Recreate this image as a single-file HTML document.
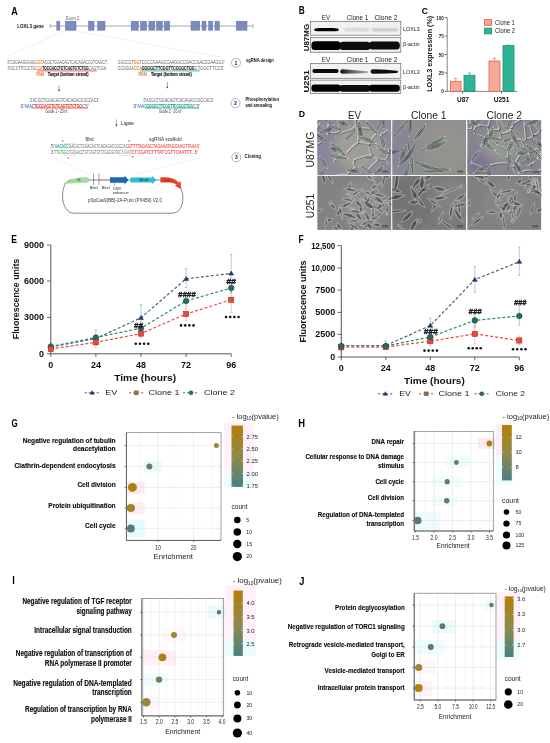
<!DOCTYPE html>
<html><head><meta charset="utf-8"><style>
html,body{margin:0;padding:0;background:#fff;width:550px;height:743px;overflow:hidden}
svg{display:block;filter:blur(0.3px)}
text{font-family:"Liberation Sans", sans-serif}
</style></head><body>
<svg width="550" height="743" viewBox="0 0 550 743" font-family='"Liberation Sans", sans-serif'>
<defs>
<filter id="bl1" x="-20%" y="-50%" width="140%" height="200%"><feGaussianBlur stdDeviation="0.9"/></filter>
<filter id="bl2" x="-20%" y="-50%" width="140%" height="200%"><feGaussianBlur stdDeviation="0.5"/></filter>
<filter id="bl3" x="-5%" y="-5%" width="110%" height="110%"><feGaussianBlur stdDeviation="0.6"/></filter>
<filter id="bl4" x="-50%" y="-50%" width="200%" height="200%"><feGaussianBlur stdDeviation="4"/></filter>
</defs>
<rect width="550" height="743" fill="#fff"/>
<text x="11.20" y="14.69" font-size="10.1" text-anchor="start" font-weight="bold" fill="#000" textLength="6.50" lengthAdjust="spacingAndGlyphs">A</text>
<text x="17.20" y="28.39" font-size="5.8" text-anchor="start" font-weight="bold" fill="#111" textLength="26.70" lengthAdjust="spacingAndGlyphs">LOXL3 gene</text>
<line x1="64.00" y1="31.00" x2="8.00" y2="56.00" stroke="#e4e4e4" stroke-width="0.6"/>
<line x1="76.00" y1="31.00" x2="222.00" y2="57.50" stroke="#e4e4e4" stroke-width="0.6"/>
<line x1="50.00" y1="26.00" x2="253.00" y2="26.00" stroke="#9a9a9a" stroke-width="0.9"/>
<line x1="50.20" y1="23.80" x2="50.20" y2="28.20" stroke="#888" stroke-width="0.6"/>
<line x1="253.00" y1="23.80" x2="253.00" y2="28.20" stroke="#888" stroke-width="0.6"/>
<rect x="56.80" y="21.20" width="3.00" height="9.00" fill="#7b8bbd" stroke="#5f6fa5" stroke-width="0.5"/>
<rect x="65.50" y="21.20" width="10.50" height="9.00" fill="#7b8bbd" stroke="#5f6fa5" stroke-width="0.5"/>
<rect x="88.60" y="21.20" width="5.40" height="9.00" fill="#7b8bbd" stroke="#5f6fa5" stroke-width="0.5"/>
<rect x="97.70" y="21.20" width="7.30" height="9.00" fill="#7b8bbd" stroke="#5f6fa5" stroke-width="0.5"/>
<rect x="131.20" y="21.20" width="7.10" height="9.00" fill="#7b8bbd" stroke="#5f6fa5" stroke-width="0.5"/>
<rect x="140.60" y="21.20" width="5.90" height="9.00" fill="#7b8bbd" stroke="#5f6fa5" stroke-width="0.5"/>
<rect x="148.90" y="21.20" width="5.90" height="9.00" fill="#7b8bbd" stroke="#5f6fa5" stroke-width="0.5"/>
<rect x="156.50" y="21.20" width="5.90" height="9.00" fill="#7b8bbd" stroke="#5f6fa5" stroke-width="0.5"/>
<rect x="164.30" y="21.20" width="5.40" height="9.00" fill="#7b8bbd" stroke="#5f6fa5" stroke-width="0.5"/>
<rect x="191.00" y="21.20" width="8.70" height="9.00" fill="#7b8bbd" stroke="#5f6fa5" stroke-width="0.5"/>
<rect x="202.00" y="21.20" width="4.00" height="9.00" fill="#7b8bbd" stroke="#5f6fa5" stroke-width="0.5"/>
<rect x="208.70" y="21.20" width="4.00" height="9.00" fill="#7b8bbd" stroke="#5f6fa5" stroke-width="0.5"/>
<rect x="215.00" y="21.20" width="4.40" height="9.00" fill="#7b8bbd" stroke="#5f6fa5" stroke-width="0.5"/>
<rect x="236.40" y="21.20" width="10.60" height="9.00" fill="#7b8bbd" stroke="#5f6fa5" stroke-width="0.5"/>
<text x="66.00" y="19.86" font-size="4.6" text-anchor="start" fill="#666" textLength="13.50" lengthAdjust="spacingAndGlyphs">Exon 2</text>
<text x="7.60" y="63.56" font-size="4.6" text-anchor="start" fill="#5c5c5c" textLength="27.91" lengthAdjust="spacingAndGlyphs">5'CGGAAGGGAC</text>
<text x="35.51" y="63.56" font-size="4.6" text-anchor="start" fill="#e07a28" textLength="6.98" lengthAdjust="spacingAndGlyphs" stroke="#e07a28" stroke-width="0.12">GGT</text>
<text x="42.48" y="63.56" font-size="4.6" text-anchor="start" fill="#5c5c5c" textLength="65.12" lengthAdjust="spacingAndGlyphs">ACGCTGGACAGTCACAGACCGTCAGCT.</text>
<text x="117.80" y="63.56" font-size="4.6" text-anchor="start" fill="#5c5c5c" textLength="15.99" lengthAdjust="spacingAndGlyphs">GGCCCT</text>
<text x="133.79" y="63.56" font-size="4.6" text-anchor="start" fill="#e07a28" textLength="8.00" lengthAdjust="spacingAndGlyphs" stroke="#e07a28" stroke-width="0.12">GGT</text>
<text x="141.78" y="63.56" font-size="4.6" text-anchor="start" fill="#5c5c5c" textLength="82.61" lengthAdjust="spacingAndGlyphs">CCCCGAAGCCAAGGCCGACCGACCGAAGG3'</text>
<text x="7.60" y="69.86" font-size="4.6" text-anchor="start" fill="#5c5c5c" textLength="27.77" lengthAdjust="spacingAndGlyphs">3'GCCTTCCCTG</text>
<text x="35.37" y="69.86" font-size="4.6" text-anchor="start" fill="#e07a28" textLength="6.94" lengthAdjust="spacingAndGlyphs" stroke="#e07a28" stroke-width="0.12">CCA</text>
<text x="42.31" y="69.86" font-size="4.6" text-anchor="start" font-weight="bold" fill="#222" textLength="46.28" lengthAdjust="spacingAndGlyphs" stroke="#222" stroke-width="0.12">TGCGACCTGTCAGTGTCTGG</text>
<text x="88.59" y="69.86" font-size="4.6" text-anchor="start" fill="#5c5c5c" textLength="18.51" lengthAdjust="spacingAndGlyphs">CAGTCGA.</text>
<text x="117.80" y="69.86" font-size="4.6" text-anchor="start" fill="#5c5c5c" textLength="15.90" lengthAdjust="spacingAndGlyphs">CCGGGA</text>
<text x="133.70" y="69.86" font-size="4.6" text-anchor="start" fill="#e07a28" textLength="7.95" lengthAdjust="spacingAndGlyphs" stroke="#e07a28" stroke-width="0.12">CCA</text>
<text x="141.65" y="69.86" font-size="4.6" text-anchor="start" font-weight="bold" fill="#222" textLength="53.00" lengthAdjust="spacingAndGlyphs" stroke="#222" stroke-width="0.12">GGGGCTTCGGTTCCGGCTGG</text>
<text x="194.65" y="69.86" font-size="4.6" text-anchor="start" fill="#5c5c5c" textLength="29.15" lengthAdjust="spacingAndGlyphs">CTGGCTTCC5'</text>
<line x1="37.00" y1="70.90" x2="96.80" y2="70.90" stroke="#e8353a" stroke-width="0.8"/>
<line x1="140.00" y1="70.90" x2="199.60" y2="70.90" stroke="#1aa58a" stroke-width="0.8"/>
<text x="36.30" y="75.93" font-size="4.8" text-anchor="start" fill="#e07a28" textLength="7.80" lengthAdjust="spacingAndGlyphs" stroke="#e07a28" stroke-width="0.15">PAM</text>
<text x="47.70" y="76.00" font-size="5.0" text-anchor="start" font-weight="bold" fill="#111" textLength="40.80" lengthAdjust="spacingAndGlyphs" stroke="#111" stroke-width="0.12">Target (bottom strand)</text>
<text x="138.50" y="75.93" font-size="4.8" text-anchor="start" fill="#e07a28" textLength="8.20" lengthAdjust="spacingAndGlyphs" stroke="#e07a28" stroke-width="0.15">PAM</text>
<text x="151.00" y="76.00" font-size="5.0" text-anchor="start" font-weight="bold" fill="#111" textLength="40.70" lengthAdjust="spacingAndGlyphs" stroke="#111" stroke-width="0.12">Target (bottom strand)</text>
<circle cx="236.00" cy="62.80" r="4.50" fill="#fff" stroke="#9aa8d8" stroke-width="0.9"/>
<text x="236.00" y="64.67" font-size="5.2" text-anchor="middle" font-weight="bold" fill="#222">1</text>
<circle cx="235.50" cy="103.20" r="4.50" fill="#fff" stroke="#9aa8d8" stroke-width="0.9"/>
<text x="235.50" y="105.07" font-size="5.2" text-anchor="middle" font-weight="bold" fill="#222">2</text>
<circle cx="236.40" cy="157.30" r="4.50" fill="#fff" stroke="#9aa8d8" stroke-width="0.9"/>
<text x="236.40" y="159.17" font-size="5.2" text-anchor="middle" font-weight="bold" fill="#222">3</text>
<text x="246.00" y="61.86" font-size="6.0" text-anchor="start" font-weight="bold" fill="#111" textLength="27.80" lengthAdjust="spacingAndGlyphs">sgRNA design</text>
<text x="245.50" y="100.76" font-size="6.0" text-anchor="start" font-weight="bold" fill="#111" textLength="33.50" lengthAdjust="spacingAndGlyphs">Phosphorylation</text>
<text x="245.50" y="106.56" font-size="6.0" text-anchor="start" font-weight="bold" fill="#111" textLength="26.50" lengthAdjust="spacingAndGlyphs">and annealing</text>
<text x="244.50" y="158.46" font-size="6.0" text-anchor="start" font-weight="bold" fill="#111" textLength="16.50" lengthAdjust="spacingAndGlyphs">Cloning</text>
<line x1="59.00" y1="85.50" x2="59.00" y2="90.30" stroke="#333" stroke-width="0.45"/>
<path d="M58.00,89.70 L60.00,89.70 L59.00,91.50 Z" fill="#222"/>
<line x1="167.30" y1="82.00" x2="167.30" y2="87.40" stroke="#333" stroke-width="0.45"/>
<path d="M166.30,86.80 L168.30,86.80 L167.30,88.60 Z" fill="#222"/>
<line x1="116.40" y1="119.50" x2="116.40" y2="125.30" stroke="#333" stroke-width="0.45"/>
<path d="M115.40,124.70 L117.40,124.70 L116.40,126.50 Z" fill="#222"/>
<text x="121.00" y="125.02" font-size="5.6" text-anchor="start" fill="#222" textLength="13.00" lengthAdjust="spacingAndGlyphs">Ligate</text>
<text x="30.00" y="102.16" font-size="4.6" text-anchor="start" fill="#5c5c5c" textLength="69.00" lengthAdjust="spacingAndGlyphs">5'ACGCTGGACAGTCACAGACCGCCAC3'</text>
<text x="20.00" y="107.66" font-size="4.6" text-anchor="start" fill="#5c5c5c" textLength="4.76" lengthAdjust="spacingAndGlyphs">3'</text>
<text x="24.76" y="107.66" font-size="4.6" text-anchor="start" fill="#3a7fd0" textLength="9.52" lengthAdjust="spacingAndGlyphs" stroke="#3a7fd0" stroke-width="0.12">AAAC</text>
<text x="34.28" y="107.66" font-size="4.6" text-anchor="start" font-weight="bold" fill="#e8353a" textLength="47.59" lengthAdjust="spacingAndGlyphs" stroke="#e8353a" stroke-width="0.12">TGCGACCTGTCAGTGTCTGG</text>
<text x="81.86" y="107.66" font-size="4.6" text-anchor="start" fill="#5c5c5c" textLength="7.14" lengthAdjust="spacingAndGlyphs">C5'</text>
<line x1="31.00" y1="108.30" x2="88.00" y2="108.30" stroke="#e8353a" stroke-width="0.5"/>
<text x="45.50" y="113.36" font-size="4.9" text-anchor="start" fill="#333" textLength="21.80" lengthAdjust="spacingAndGlyphs">Guide 1 - 20 nt</text>
<text x="143.60" y="102.16" font-size="4.6" text-anchor="start" fill="#5c5c5c" textLength="70.00" lengthAdjust="spacingAndGlyphs">5'ACGCTGGACAGTCACAGACCGCCAC3'</text>
<text x="132.70" y="107.66" font-size="4.6" text-anchor="start" fill="#5c5c5c" textLength="4.64" lengthAdjust="spacingAndGlyphs">3'</text>
<text x="137.34" y="107.66" font-size="4.6" text-anchor="start" fill="#3a7fd0" textLength="9.28" lengthAdjust="spacingAndGlyphs" stroke="#3a7fd0" stroke-width="0.12">AAAC</text>
<text x="146.62" y="107.66" font-size="4.6" text-anchor="start" font-weight="bold" fill="#1aa58a" textLength="46.41" lengthAdjust="spacingAndGlyphs" stroke="#1aa58a" stroke-width="0.12">GGGGCTTCGGTTCCGGCTGG</text>
<text x="193.04" y="107.66" font-size="4.6" text-anchor="start" fill="#5c5c5c" textLength="6.96" lengthAdjust="spacingAndGlyphs">C5'</text>
<line x1="145.00" y1="108.30" x2="199.00" y2="108.30" stroke="#1aa58a" stroke-width="0.5"/>
<text x="159.00" y="113.36" font-size="4.9" text-anchor="start" fill="#333" textLength="22.00" lengthAdjust="spacingAndGlyphs">Guide 2 - 20 nt</text>
<text x="85.50" y="140.66" font-size="4.6" text-anchor="start" fill="#333" textLength="8.10" lengthAdjust="spacingAndGlyphs">BbsI</text>
<text x="149.00" y="141.16" font-size="4.6" text-anchor="start" fill="#333" textLength="32.80" lengthAdjust="spacingAndGlyphs">sgRNA scaffold</text>
<circle cx="62.70" cy="141.00" r="0.80" fill="#e8353a" stroke="none" stroke-width="0.5"/>
<circle cx="129.00" cy="141.00" r="0.80" fill="#e8353a" stroke="none" stroke-width="0.5"/>
<circle cx="68.20" cy="158.00" r="0.80" fill="#e8353a" stroke="none" stroke-width="0.5"/>
<circle cx="132.70" cy="157.00" r="0.80" fill="#e8353a" stroke="none" stroke-width="0.5"/>
<text x="50.50" y="148.06" font-size="4.6" text-anchor="start" fill="#666" textLength="4.56" lengthAdjust="spacingAndGlyphs">5'</text>
<text x="55.06" y="148.06" font-size="4.6" text-anchor="start" fill="#1aa58a" textLength="13.68" lengthAdjust="spacingAndGlyphs" stroke="#1aa58a" stroke-width="0.12">AACACC</text>
<text x="68.74" y="148.06" font-size="4.6" text-anchor="start" fill="#666" textLength="59.26" lengthAdjust="spacingAndGlyphs">GACGCTGGACAGTCACAGACCGCCAC</text>
<text x="128.00" y="148.06" font-size="4.6" text-anchor="start" fill="#f0504a" textLength="71.50" lengthAdjust="spacingAndGlyphs" stroke="#f0504a" stroke-width="0.12">GTTTTAGAGCTAGAAATAGCAAGTTAAA3'</text>
<text x="50.50" y="154.36" font-size="4.6" text-anchor="start" fill="#666" textLength="4.05" lengthAdjust="spacingAndGlyphs">3'</text>
<text x="54.55" y="154.36" font-size="4.6" text-anchor="start" fill="#4cb050" textLength="12.15" lengthAdjust="spacingAndGlyphs" stroke="#4cb050" stroke-width="0.12">TTGTGG</text>
<text x="66.70" y="154.36" font-size="4.6" text-anchor="start" fill="#666" textLength="52.65" lengthAdjust="spacingAndGlyphs">CTGCGACCTGTCAGTGTCTGGCGGTG</text>
<text x="119.35" y="154.36" font-size="4.6" text-anchor="start" fill="#aab" textLength="12.15" lengthAdjust="spacingAndGlyphs" stroke="#aab" stroke-width="0.12">CAAAAT</text>
<text x="131.50" y="154.36" font-size="4.6" text-anchor="start" fill="#f0504a" textLength="66.50" lengthAdjust="spacingAndGlyphs" stroke="#f0504a" stroke-width="0.12">CTCGATCTTTATCGTTCAATTT...5'</text>
<rect x="64.50" y="143.30" width="10.00" height="12.50" fill="none" stroke="#c8c8d8" stroke-width="0.4"/>
<rect x="119.00" y="149.70" width="12.00" height="6.00" fill="none" stroke="#c8c8d8" stroke-width="0.4"/>
<line x1="54.00" y1="157.70" x2="89.50" y2="175.00" stroke="#e4e4e4" stroke-width="0.5"/>
<line x1="200.70" y1="157.70" x2="132.70" y2="175.00" stroke="#e4e4e4" stroke-width="0.5"/>
<path d="M70,180 L172,180 C186,183 187,213.2 172,213.2 L74,213.2 C60,213.2 59,184 70,180" fill="none" stroke="#555" stroke-width="0.7"/>
<path d="M64,183.6 C68,180.5 75,178 84,177.4 L87,177.2 L91,179.8 L87,182.6 C78,182.8 70,183.2 64,183.6 Z" fill="#a8d9a4" stroke="#86c082" stroke-width="0.3"/>
<text x="76.50" y="181.08" font-size="3.0" text-anchor="start" fill="#2a4a2a">U6</text>
<line x1="93.60" y1="173.50" x2="93.60" y2="185.00" stroke="#333" stroke-width="0.5"/>
<line x1="99.00" y1="173.50" x2="99.00" y2="185.00" stroke="#333" stroke-width="0.5"/>
<line x1="99.00" y1="180.00" x2="110.00" y2="180.00" stroke="#f08080" stroke-width="0.8"/>
<path d="M110,177.2 L124.5,177.2 L124.5,175.6 L128.5,180 L124.5,184.4 L124.5,182.8 L110,182.8 Z" fill="#2065b0"/>
<path d="M130.4,177.5 L152,177.5 L152,176 L156.5,180 L152,184 L152,182.5 L130.4,182.5 Z" fill="#2fbcd6"/>
<text x="139.00" y="181.04" font-size="2.6" text-anchor="start" fill="#113">SpCas9</text>
<path d="M160.4,177.4 C169,176.8 175.5,178.6 178.8,182.6 L180.8,181.6 L180.8,189 L174.8,185.8 L176.8,184.6 C173.5,182.2 168,182.2 160.4,182.6 Z" fill="#e8432a"/>
<text x="164.00" y="181.06" font-size="2.4" text-anchor="start" fill="#300">PuroR</text>
<text x="89.80" y="188.58" font-size="4.4" text-anchor="start" fill="#222" textLength="8.00" lengthAdjust="spacingAndGlyphs">BbsI</text>
<text x="101.80" y="188.58" font-size="4.4" text-anchor="start" fill="#222" textLength="8.00" lengthAdjust="spacingAndGlyphs">BbsI</text>
<line x1="114.50" y1="183.00" x2="114.50" y2="185.50" stroke="#444" stroke-width="0.4"/>
<text x="112.80" y="189.58" font-size="4.4" text-anchor="start" fill="#222" textLength="8.50" lengthAdjust="spacingAndGlyphs">CMV</text>
<text x="112.80" y="193.78" font-size="4.4" text-anchor="start" fill="#222" textLength="16.00" lengthAdjust="spacingAndGlyphs">enhancer</text>
<text x="125.00" y="202.00" font-size="5.0" text-anchor="middle" fill="#333" textLength="74.00" lengthAdjust="spacingAndGlyphs">pSpCas9(BB)-2A-Puro (PX459) V2.0</text>
<text x="298.70" y="14.47" font-size="10.2" text-anchor="start" font-weight="bold" fill="#000" textLength="6.00" lengthAdjust="spacingAndGlyphs">B</text>
<rect x="310.30" y="21.40" width="90.50" height="13.80" fill="#f2f2f2" stroke="#6a6a6a" stroke-width="0.7"/>
<rect x="310.30" y="37.60" width="90.50" height="14.60" fill="#f2f2f2" stroke="#6a6a6a" stroke-width="0.7"/>
<rect x="310.30" y="63.40" width="90.50" height="14.90" fill="#f2f2f2" stroke="#6a6a6a" stroke-width="0.7"/>
<rect x="310.30" y="80.10" width="90.50" height="13.50" fill="#f2f2f2" stroke="#6a6a6a" stroke-width="0.7"/>
<text x="326.00" y="20.35" font-size="6.8" text-anchor="middle" fill="#222" textLength="8.50" lengthAdjust="spacingAndGlyphs">EV</text>
<text x="357.50" y="20.35" font-size="6.8" text-anchor="middle" fill="#222" textLength="21.50" lengthAdjust="spacingAndGlyphs">Clone 1</text>
<text x="386.00" y="20.35" font-size="6.8" text-anchor="middle" fill="#222" textLength="23.00" lengthAdjust="spacingAndGlyphs">Clone 2</text>
<text x="326.00" y="62.15" font-size="6.8" text-anchor="middle" fill="#222" textLength="8.50" lengthAdjust="spacingAndGlyphs">EV</text>
<text x="357.50" y="62.15" font-size="6.8" text-anchor="middle" fill="#222" textLength="21.50" lengthAdjust="spacingAndGlyphs">Clone 1</text>
<text x="386.00" y="62.15" font-size="6.8" text-anchor="middle" fill="#222" textLength="23.00" lengthAdjust="spacingAndGlyphs">Clone 2</text>
<text x="0" y="2.45" font-size="6.8" text-anchor="middle" font-weight="bold" fill="#111" textLength="27.50" lengthAdjust="spacingAndGlyphs" transform="translate(306.80,37.60) rotate(-90)">U87MG</text>
<text x="0" y="2.45" font-size="6.8" text-anchor="middle" font-weight="bold" fill="#111" textLength="22.50" lengthAdjust="spacingAndGlyphs" transform="translate(306.80,81.20) rotate(-90)">U251</text>
<text x="403.00" y="30.94" font-size="5.4" text-anchor="start" fill="#222" textLength="16.70" lengthAdjust="spacingAndGlyphs">LOXL3</text>
<text x="403.00" y="45.54" font-size="5.4" text-anchor="start" fill="#222" textLength="16.70" lengthAdjust="spacingAndGlyphs">β-actin</text>
<text x="403.00" y="73.64" font-size="5.4" text-anchor="start" fill="#222" textLength="16.70" lengthAdjust="spacingAndGlyphs">LOXL3</text>
<text x="403.00" y="88.94" font-size="5.4" text-anchor="start" fill="#222" textLength="16.70" lengthAdjust="spacingAndGlyphs">β-actin</text>
<g filter="url(#bl2)">
<path d="M314.2,29.7 Q314.2,28.0 320,28.1 L333,28.1 Q338.8,28.1 338.8,29.7 Q338.8,31.2 333,31.2 L320,31.2 Q314.2,31.3 314.2,29.7 Z" fill="#050505"/>
</g>
<g filter="url(#bl1)">
<rect x="344.00" y="28.50" width="25.00" height="2.20" fill="#c8c8c8" stroke="none" stroke-width="0.6" rx="1.1"/>
<rect x="372.00" y="28.40" width="26.00" height="2.80" fill="#c0c0c0" stroke="none" stroke-width="0.6" rx="1.4"/>
</g>
<g filter="url(#bl2)">
<rect x="311.4" y="41.2" width="29.4" height="8.8" rx="3.5" fill="#060606"/>
<rect x="339.5" y="41.8" width="31" height="8.2" rx="3.5" fill="#080808"/>
<rect x="369" y="41.4" width="30.8" height="8.2" rx="3.5" fill="#070707"/>
<rect x="312.4" y="69.0" width="26.2" height="4.0" rx="2" fill="#080808"/>
<linearGradient id="c1g" x1="0" y1="0" x2="1" y2="0"><stop offset="0" stop-color="#111"/><stop offset="0.35" stop-color="#555"/><stop offset="1" stop-color="#a8a8a8"/></linearGradient>
<path d="M340.2,71.4 Q340.2,69.2 343,69.3 Q355,70.2 367.5,71.2 Q368.5,72.1 367.5,73.0 Q355,73.6 343,73.7 Q340.2,73.6 340.2,71.4 Z" fill="url(#c1g)"/>
<path d="M370.6,71.4 Q370.6,69.0 374,69.2 Q386,69.6 397,70.8 Q399,71.9 397,73.0 Q386,73.6 374,73.8 Q370.6,73.8 370.6,71.4 Z" fill="#0c0c0c"/>
<rect x="311.4" y="84.6" width="29.4" height="7.2" rx="3" fill="#060606"/>
<rect x="339.5" y="85.0" width="31" height="6.8" rx="3" fill="#080808"/>
<rect x="369" y="84.8" width="30.8" height="7.0" rx="3" fill="#060606"/>
</g>
<text x="421.80" y="14.21" font-size="9.6" text-anchor="start" font-weight="bold" fill="#000" textLength="6.20" lengthAdjust="spacingAndGlyphs">C</text>
<line x1="447.20" y1="17.60" x2="447.20" y2="91.40" stroke="#555" stroke-width="0.7"/>
<line x1="447.20" y1="91.40" x2="517.00" y2="91.40" stroke="#555" stroke-width="0.7"/>
<line x1="444.60" y1="91.40" x2="447.20" y2="91.40" stroke="#444" stroke-width="0.7"/>
<text x="443.80" y="93.42" font-size="5.6" text-anchor="end" font-weight="bold" fill="#222" textLength="2.60" lengthAdjust="spacingAndGlyphs">0</text>
<line x1="444.60" y1="72.95" x2="447.20" y2="72.95" stroke="#444" stroke-width="0.7"/>
<text x="443.80" y="74.97" font-size="5.6" text-anchor="end" font-weight="bold" fill="#222" textLength="5.10" lengthAdjust="spacingAndGlyphs">25</text>
<line x1="444.60" y1="54.50" x2="447.20" y2="54.50" stroke="#444" stroke-width="0.7"/>
<text x="443.80" y="56.52" font-size="5.6" text-anchor="end" font-weight="bold" fill="#222" textLength="5.10" lengthAdjust="spacingAndGlyphs">50</text>
<line x1="444.60" y1="36.05" x2="447.20" y2="36.05" stroke="#444" stroke-width="0.7"/>
<text x="443.80" y="38.07" font-size="5.6" text-anchor="end" font-weight="bold" fill="#222" textLength="5.10" lengthAdjust="spacingAndGlyphs">75</text>
<line x1="444.60" y1="17.60" x2="447.20" y2="17.60" stroke="#444" stroke-width="0.7"/>
<text x="443.80" y="19.62" font-size="5.6" text-anchor="end" font-weight="bold" fill="#222" textLength="7.60" lengthAdjust="spacingAndGlyphs">100</text>
<line x1="462.50" y1="91.40" x2="462.50" y2="93.60" stroke="#222" stroke-width="0.7"/>
<line x1="501.50" y1="91.40" x2="501.50" y2="93.60" stroke="#222" stroke-width="0.7"/>
<text x="0" y="2.38" font-size="6.6" text-anchor="middle" font-weight="bold" fill="#111" textLength="76.00" lengthAdjust="spacingAndGlyphs" transform="translate(429.80,53.80) rotate(-90)">LOXL3 expression (%)</text>
<line x1="455.70" y1="78.41" x2="455.70" y2="81.36" stroke="#e3604f" stroke-width="0.6"/>
<line x1="454.10" y1="78.41" x2="457.30" y2="78.41" stroke="#e3604f" stroke-width="0.6"/>
<rect x="450.40" y="81.36" width="10.60" height="10.04" fill="#f7a899" stroke="#e3604f" stroke-width="0.8"/>
<line x1="469.50" y1="73.10" x2="469.50" y2="75.31" stroke="#1b8f74" stroke-width="0.6"/>
<line x1="467.90" y1="73.10" x2="471.10" y2="73.10" stroke="#1b8f74" stroke-width="0.6"/>
<rect x="464.00" y="75.31" width="11.00" height="16.09" fill="#2db396" stroke="#1b8f74" stroke-width="0.8"/>
<line x1="494.50" y1="58.41" x2="494.50" y2="60.99" stroke="#e3604f" stroke-width="0.6"/>
<line x1="492.90" y1="58.41" x2="496.10" y2="58.41" stroke="#e3604f" stroke-width="0.6"/>
<rect x="489.00" y="60.99" width="11.00" height="30.41" fill="#f7a899" stroke="#e3604f" stroke-width="0.8"/>
<line x1="508.50" y1="45.05" x2="508.50" y2="45.64" stroke="#1b8f74" stroke-width="0.6"/>
<line x1="506.90" y1="45.05" x2="510.10" y2="45.05" stroke="#1b8f74" stroke-width="0.6"/>
<rect x="503.00" y="45.64" width="11.00" height="45.76" fill="#2db396" stroke="#1b8f74" stroke-width="0.8"/>
<text x="462.90" y="101.65" font-size="6.8" text-anchor="middle" font-weight="bold" fill="#111" textLength="11.80" lengthAdjust="spacingAndGlyphs">U87</text>
<text x="501.50" y="101.65" font-size="6.8" text-anchor="middle" font-weight="bold" fill="#111" textLength="15.50" lengthAdjust="spacingAndGlyphs">U251</text>
<rect x="484.60" y="19.60" width="7.00" height="5.60" fill="#f7a899" stroke="#e3604f" stroke-width="0.9"/>
<rect x="484.60" y="28.20" width="7.00" height="5.60" fill="#2db396" stroke="#1b8f74" stroke-width="0.9"/>
<text x="495.00" y="24.65" font-size="6.8" text-anchor="start" fill="#222" textLength="19.80" lengthAdjust="spacingAndGlyphs">Clone 1</text>
<text x="495.00" y="33.25" font-size="6.8" text-anchor="start" fill="#222" textLength="20.00" lengthAdjust="spacingAndGlyphs">Clone 2</text>
<text x="298.70" y="116.61" font-size="9.9" text-anchor="start" font-weight="bold" fill="#000" textLength="6.30" lengthAdjust="spacingAndGlyphs">D</text>
<text x="354.50" y="118.98" font-size="10.5" text-anchor="middle" fill="#222" textLength="13.00" lengthAdjust="spacingAndGlyphs">EV</text>
<text x="428.80" y="118.98" font-size="10.5" text-anchor="middle" fill="#222" textLength="35.50" lengthAdjust="spacingAndGlyphs">Clone 1</text>
<text x="504.30" y="118.98" font-size="10.5" text-anchor="middle" fill="#222" textLength="35.50" lengthAdjust="spacingAndGlyphs">Clone 2</text>
<text x="0" y="3.78" font-size="10.5" text-anchor="middle" fill="#222" textLength="35.60" lengthAdjust="spacingAndGlyphs" transform="translate(310.60,149.60) rotate(-90)">U87MG</text>
<text x="0" y="3.78" font-size="10.5" text-anchor="middle" fill="#222" textLength="24.50" lengthAdjust="spacingAndGlyphs" transform="translate(310.60,206.00) rotate(-90)">U251</text>
<clipPath id="dc101"><rect x="317.2" y="120.0" width="74.19999999999999" height="55.19999999999999"/></clipPath>
<g clip-path="url(#dc101)">
<rect x="317.2" y="120.0" width="74.19999999999999" height="55.19999999999999" fill="#8e8a96"/>
<g filter="url(#bl4)">
<ellipse cx="358.0" cy="147.6" rx="26.0" ry="22.1" fill="#a2a496" opacity="0.8"/>
<ellipse cx="323.1" cy="142.1" rx="11.1" ry="22.1" fill="#8880a0" opacity="0.7"/>
</g>
<g filter="url(#bl3)">
<path d="M395.0,146.1Q397.4,141.0 395.5,133.1M395.5,133.1Q389.9,133.7 388.0,129.9M356.4,117.0Q368.3,115.4 375.6,117.6M380.3,111.3Q378.2,114.4 375.6,117.6M355.5,119.5Q354.7,123.7 356.3,125.4M356.3,125.4Q350.8,130.9 341.0,132.6M338.0,117.3Q340.1,123.9 339.0,131.4M395.0,146.1Q392.7,149.6 389.0,149.5M388.0,129.9Q383.6,133.3 381.0,134.1M381.0,134.1Q382.0,139.9 383.6,141.8M389.0,149.5Q385.6,145.9 383.6,141.8M347.0,152.4Q352.1,145.7 357.7,142.6M356.3,125.4Q357.2,127.7 358.2,127.7M358.2,127.7Q358.6,137.3 357.7,142.6M356.4,117.0Q357.4,116.4 355.5,119.5M358.2,127.7Q365.5,128.1 372.9,129.1M328.8,132.5Q327.0,123.3 330.0,109.6M328.3,132.8Q324.7,127.2 319.7,123.5M338.0,117.3Q334.6,114.2 330.0,109.6M339.0,131.4Q335.3,133.9 328.8,132.5M328.3,132.8Q328.1,133.6 327.2,134.3M347.0,175.0Q342.2,173.7 336.7,175.3M376.4,133.1Q370.5,139.4 369.4,143.3M377.6,145.3Q374.6,142.2 369.4,143.3M357.7,142.6Q362.2,142.3 368.1,144.6M368.1,144.6Q366.8,145.0 369.4,143.3M319.7,123.5Q317.3,125.9 316.0,130.2M389.0,149.5Q388.4,156.2 385.3,159.9M385.3,159.9Q387.7,163.1 392.2,165.7M368.1,144.6Q368.9,148.5 372.1,154.8M372.1,154.8Q361.8,156.2 353.9,159.7M347.0,175.0Q350.0,168.6 356.2,167.1M358.4,168.9Q359.3,168.0 356.2,167.1M316.4,144.6Q317.3,143.5 320.4,142.4M334.2,160.5Q336.7,158.0 334.9,159.6M340.9,153.6Q342.3,152.9 340.1,154.1M353.9,159.7Q352.6,165.8 356.2,167.1M314.0,173.7Q316.2,178.0 320.6,178.1M314.0,173.7Q312.6,168.4 315.3,166.7M320.6,178.1Q323.3,172.1 324.3,169.4M311.7,157.0Q314.9,161.4 315.3,166.7M384.2,160.0Q383.6,159.2 378.4,159.2M378.4,159.2Q373.8,163.5 367.7,169.7M372.3,177.8Q373.4,178.0 376.1,177.8M385.5,183.6Q379.7,181.1 376.1,177.8M375.9,157.2Q376.3,158.4 378.4,159.2" fill="none" stroke="#e8eee6" stroke-opacity="0.5" stroke-width="1.8" stroke-linecap="round"/>
<path d="M395.9,146.9Q398.3,141.8 396.4,133.9M396.4,133.9Q390.8,134.5 388.9,130.7M357.3,117.8Q369.2,116.2 376.5,118.4M381.2,112.1Q379.1,115.2 376.5,118.4M356.4,120.3Q355.6,124.5 357.2,126.2M357.2,126.2Q351.7,131.7 341.9,133.4M338.9,118.1Q341.0,124.7 339.9,132.2M395.9,146.9Q393.6,150.4 389.9,150.3M388.9,130.7Q384.5,134.1 381.9,134.9M381.9,134.9Q382.9,140.7 384.5,142.6M389.9,150.3Q386.5,146.7 384.5,142.6M347.9,153.2Q353.0,146.5 358.6,143.4M357.2,126.2Q358.1,128.5 359.1,128.5M359.1,128.5Q359.5,138.1 358.6,143.4M357.3,117.8Q358.3,117.2 356.4,120.3M359.1,128.5Q366.4,128.9 373.8,129.9M329.7,133.3Q327.9,124.1 330.9,110.4M329.2,133.6Q325.6,128.0 320.6,124.3M338.9,118.1Q335.5,115.0 330.9,110.4M339.9,132.2Q336.2,134.7 329.7,133.3M329.2,133.6Q329.0,134.4 328.1,135.1M347.9,175.8Q343.1,174.5 337.6,176.1M377.3,133.9Q371.4,140.2 370.3,144.1M378.5,146.1Q375.5,143.0 370.3,144.1M358.6,143.4Q363.1,143.1 369.0,145.4M369.0,145.4Q367.7,145.8 370.3,144.1M320.6,124.3Q318.2,126.7 316.9,131.0M389.9,150.3Q389.3,157.0 386.2,160.7M386.2,160.7Q388.6,163.9 393.1,166.5M369.0,145.4Q369.8,149.3 373.0,155.6M373.0,155.6Q362.7,157.0 354.8,160.5M347.9,175.8Q350.9,169.4 357.1,167.9M359.3,169.7Q360.2,168.8 357.1,167.9M317.3,145.4Q318.2,144.3 321.3,143.2M335.1,161.3Q337.6,158.8 335.8,160.4M341.8,154.4Q343.2,153.7 341.0,154.9M354.8,160.5Q353.5,166.6 357.1,167.9M314.9,174.5Q317.1,178.8 321.5,178.9M314.9,174.5Q313.5,169.2 316.2,167.5M321.5,178.9Q324.2,172.9 325.2,170.2M312.6,157.8Q315.8,162.2 316.2,167.5M385.1,160.8Q384.5,160.0 379.3,160.0M379.3,160.0Q374.7,164.3 368.6,170.5M373.2,178.6Q374.3,178.8 377.0,178.6M386.4,184.4Q380.6,181.9 377.0,178.6M376.8,158.0Q377.2,159.2 379.3,160.0" fill="none" stroke="#22322f" stroke-opacity="0.55" stroke-width="0.9" stroke-linecap="round"/>
<path d="M359.0,122.0 L360.3,124.4 L361.3,126.9 L362.2,129.3 L362.0,131.8 L362.6,134.3 L361.5,137.0 L360.8,139.6 L360.8,139.6 L360.0,137.1 L358.7,134.7 L358.8,132.2 L358.1,129.7 L358.5,127.1 L358.6,124.6 L359.0,122.0 Z" fill="#2a3c3a" fill-opacity="0.6" stroke="#e0e6de" stroke-opacity="0.5" stroke-width="1.8"/>
<path d="M359.0,122.0 L360.3,124.4 L361.3,126.9 L362.2,129.3 L362.0,131.8 L362.6,134.3 L361.5,137.0 L360.8,139.6 L360.8,139.6 L360.0,137.1 L358.7,134.7 L358.8,132.2 L358.1,129.7 L358.5,127.1 L358.6,124.6 L359.0,122.0 Z" fill="none" stroke="#1f302e" stroke-opacity="0.7" stroke-width="0.7"/>
<path d="M320.6,157.6 L322.1,158.7 L323.4,159.8 L324.4,161.1 L325.2,162.6 L326.2,164.0 L326.5,165.7 L326.6,167.6 L326.6,167.6 L325.2,166.5 L323.9,165.4 L323.3,163.8 L322.3,162.4 L321.5,161.0 L321.0,159.3 L320.6,157.6 Z" fill="#2a3c3a" fill-opacity="0.6" stroke="#e0e6de" stroke-opacity="0.5" stroke-width="1.8"/>
<path d="M320.6,157.6 L322.1,158.7 L323.4,159.8 L324.4,161.1 L325.2,162.6 L326.2,164.0 L326.5,165.7 L326.6,167.6 L326.6,167.6 L325.2,166.5 L323.9,165.4 L323.3,163.8 L322.3,162.4 L321.5,161.0 L321.0,159.3 L320.6,157.6 Z" fill="none" stroke="#1f302e" stroke-opacity="0.7" stroke-width="0.7"/>
<path d="M380.7,136.2 L381.9,137.6 L383.0,139.0 L383.6,140.6 L383.9,142.3 L384.6,143.8 L384.3,145.7 L384.1,147.5 L384.1,147.5 L383.3,146.0 L382.2,144.6 L381.9,142.9 L381.2,141.3 L380.8,139.7 L380.6,138.0 L380.7,136.2 Z" fill="#2a3c3a" fill-opacity="0.6" stroke="#e0e6de" stroke-opacity="0.5" stroke-width="1.8"/>
<path d="M380.7,136.2 L381.9,137.6 L383.0,139.0 L383.6,140.6 L383.9,142.3 L384.6,143.8 L384.3,145.7 L384.1,147.5 L384.1,147.5 L383.3,146.0 L382.2,144.6 L381.9,142.9 L381.2,141.3 L380.8,139.7 L380.6,138.0 L380.7,136.2 Z" fill="none" stroke="#1f302e" stroke-opacity="0.7" stroke-width="0.7"/>
<path d="M324.1,119.9 L325.6,120.0 L327.1,120.2 L328.4,120.8 L329.6,121.4 L330.9,122.1 L331.8,123.2 L332.8,124.4 L332.8,124.4 L331.4,124.0 L330.0,123.8 L328.8,123.1 L327.5,122.4 L326.3,121.8 L325.2,120.8 L324.1,119.9 Z" fill="#2a3c3a" fill-opacity="0.6" stroke="#e0e6de" stroke-opacity="0.5" stroke-width="1.8"/>
<path d="M324.1,119.9 L325.6,120.0 L327.1,120.2 L328.4,120.8 L329.6,121.4 L330.9,122.1 L331.8,123.2 L332.8,124.4 L332.8,124.4 L331.4,124.0 L330.0,123.8 L328.8,123.1 L327.5,122.4 L326.3,121.8 L325.2,120.8 L324.1,119.9 Z" fill="none" stroke="#1f302e" stroke-opacity="0.7" stroke-width="0.7"/>
<path d="M364.5,157.1 L365.7,156.7 L366.9,156.6 L368.0,156.9 L369.2,156.7 L370.3,156.9 L371.4,157.3 L372.5,157.9 L372.5,157.9 L371.3,158.5 L370.1,158.8 L368.9,158.8 L367.8,158.4 L366.7,158.5 L365.6,157.9 L364.5,157.1 Z" fill="#2a3c3a" fill-opacity="0.6" stroke="#e0e6de" stroke-opacity="0.5" stroke-width="1.8"/>
<path d="M364.5,157.1 L365.7,156.7 L366.9,156.6 L368.0,156.9 L369.2,156.7 L370.3,156.9 L371.4,157.3 L372.5,157.9 L372.5,157.9 L371.3,158.5 L370.1,158.8 L368.9,158.8 L367.8,158.4 L366.7,158.5 L365.6,157.9 L364.5,157.1 Z" fill="none" stroke="#1f302e" stroke-opacity="0.7" stroke-width="0.7"/>
<path d="M335.2,127.4 L333.2,128.7 L331.4,130.4 L329.3,131.4 L327.1,131.7 L324.8,132.1 L322.6,132.7 L320.1,132.6 L320.1,132.6 L322.0,131.0 L324.0,130.0 L326.0,128.8 L328.0,127.6 L330.3,127.1 L332.8,127.4 L335.2,127.4 Z" fill="#2a3c3a" fill-opacity="0.6" stroke="#e0e6de" stroke-opacity="0.5" stroke-width="1.8"/>
<path d="M335.2,127.4 L333.2,128.7 L331.4,130.4 L329.3,131.4 L327.1,131.7 L324.8,132.1 L322.6,132.7 L320.1,132.6 L320.1,132.6 L322.0,131.0 L324.0,130.0 L326.0,128.8 L328.0,127.6 L330.3,127.1 L332.8,127.4 L335.2,127.4 Z" fill="none" stroke="#1f302e" stroke-opacity="0.7" stroke-width="0.7"/>
<path d="M337.8,122.3 L339.6,121.7 L341.3,121.5 L343.1,120.9 L344.5,121.4 L345.8,122.7 L347.0,123.9 L348.2,125.4 L348.2,125.4 L346.6,125.3 L345.0,125.2 L343.3,125.4 L341.8,125.1 L340.6,123.8 L339.2,123.2 L337.8,122.3 Z" fill="#2a3c3a" fill-opacity="0.6" stroke="#e0e6de" stroke-opacity="0.5" stroke-width="1.8"/>
<path d="M337.8,122.3 L339.6,121.7 L341.3,121.5 L343.1,120.9 L344.5,121.4 L345.8,122.7 L347.0,123.9 L348.2,125.4 L348.2,125.4 L346.6,125.3 L345.0,125.2 L343.3,125.4 L341.8,125.1 L340.6,123.8 L339.2,123.2 L337.8,122.3 Z" fill="none" stroke="#1f302e" stroke-opacity="0.7" stroke-width="0.7"/>
<path d="M382.0,113.6 L383.1,115.5 L384.0,117.5 L384.9,119.4 L385.0,121.4 L385.0,123.5 L384.5,125.6 L383.8,127.8 L383.8,127.8 L382.8,125.9 L381.9,123.9 L381.3,121.9 L381.0,119.9 L381.3,117.8 L381.5,115.7 L382.0,113.6 Z" fill="#2a3c3a" fill-opacity="0.6" stroke="#e0e6de" stroke-opacity="0.5" stroke-width="1.8"/>
<path d="M382.0,113.6 L383.1,115.5 L384.0,117.5 L384.9,119.4 L385.0,121.4 L385.0,123.5 L384.5,125.6 L383.8,127.8 L383.8,127.8 L382.8,125.9 L381.9,123.9 L381.3,121.9 L381.0,119.9 L381.3,117.8 L381.5,115.7 L382.0,113.6 Z" fill="none" stroke="#1f302e" stroke-opacity="0.7" stroke-width="0.7"/>
<path d="M330.4,155.3 L332.8,155.5 L335.2,155.8 L337.6,156.1 L340.0,156.5 L342.4,156.9 L344.7,157.4 L347.0,158.2 L347.0,158.2 L344.5,158.9 L342.0,159.0 L339.6,158.9 L337.2,158.4 L334.9,157.6 L332.6,156.6 L330.4,155.3 Z" fill="#2a3c3a" fill-opacity="0.6" stroke="#e0e6de" stroke-opacity="0.5" stroke-width="1.8"/>
<path d="M330.4,155.3 L332.8,155.5 L335.2,155.8 L337.6,156.1 L340.0,156.5 L342.4,156.9 L344.7,157.4 L347.0,158.2 L347.0,158.2 L344.5,158.9 L342.0,159.0 L339.6,158.9 L337.2,158.4 L334.9,157.6 L332.6,156.6 L330.4,155.3 Z" fill="none" stroke="#1f302e" stroke-opacity="0.7" stroke-width="0.7"/>
<path d="M361.4,137.4 L363.7,137.3 L365.8,137.6 L367.7,138.5 L369.7,139.2 L371.5,140.2 L373.3,141.6 L374.9,143.1 L374.9,143.1 L372.7,142.8 L370.6,142.5 L368.6,141.8 L366.7,140.9 L364.8,140.2 L363.0,138.9 L361.4,137.4 Z" fill="#2a3c3a" fill-opacity="0.6" stroke="#e0e6de" stroke-opacity="0.5" stroke-width="1.8"/>
<path d="M361.4,137.4 L363.7,137.3 L365.8,137.6 L367.7,138.5 L369.7,139.2 L371.5,140.2 L373.3,141.6 L374.9,143.1 L374.9,143.1 L372.7,142.8 L370.6,142.5 L368.6,141.8 L366.7,140.9 L364.8,140.2 L363.0,138.9 L361.4,137.4 Z" fill="none" stroke="#1f302e" stroke-opacity="0.7" stroke-width="0.7"/>
<path d="M325.2,168.4 L324.6,170.6 L323.7,172.6 L322.6,174.5 L321.8,176.6 L320.5,178.4 L318.8,180.0 L317.5,181.7 L317.5,181.7 L317.9,179.4 L318.1,177.0 L318.9,174.9 L320.3,173.2 L321.5,171.3 L323.1,169.7 L325.2,168.4 Z" fill="#2a3c3a" fill-opacity="0.6" stroke="#e0e6de" stroke-opacity="0.5" stroke-width="1.8"/>
<path d="M325.2,168.4 L324.6,170.6 L323.7,172.6 L322.6,174.5 L321.8,176.6 L320.5,178.4 L318.8,180.0 L317.5,181.7 L317.5,181.7 L317.9,179.4 L318.1,177.0 L318.9,174.9 L320.3,173.2 L321.5,171.3 L323.1,169.7 L325.2,168.4 Z" fill="none" stroke="#1f302e" stroke-opacity="0.7" stroke-width="0.7"/>
<path d="M355.2,129.5 L354.4,131.7 L353.3,133.4 L352.2,135.2 L350.8,136.6 L349.3,138.0 L347.4,138.9 L345.2,139.7 L345.2,139.7 L346.5,138.0 L347.7,136.4 L349.2,135.0 L350.7,133.6 L352.2,132.3 L353.6,130.8 L355.2,129.5 Z" fill="#2a3c3a" fill-opacity="0.6" stroke="#e0e6de" stroke-opacity="0.5" stroke-width="1.8"/>
<path d="M355.2,129.5 L354.4,131.7 L353.3,133.4 L352.2,135.2 L350.8,136.6 L349.3,138.0 L347.4,138.9 L345.2,139.7 L345.2,139.7 L346.5,138.0 L347.7,136.4 L349.2,135.0 L350.7,133.6 L352.2,132.3 L353.6,130.8 L355.2,129.5 Z" fill="none" stroke="#1f302e" stroke-opacity="0.7" stroke-width="0.7"/>
<path d="M366.7,122.1 L368.5,123.4 L369.9,125.0 L371.5,126.5 L372.9,128.1 L374.3,129.8 L375.8,131.4 L376.9,133.3 L376.9,133.3 L374.7,132.4 L372.9,131.1 L371.3,129.7 L369.8,128.1 L368.6,126.2 L367.4,124.4 L366.7,122.1 Z" fill="#2a3c3a" fill-opacity="0.6" stroke="#e0e6de" stroke-opacity="0.5" stroke-width="1.8"/>
<path d="M366.7,122.1 L368.5,123.4 L369.9,125.0 L371.5,126.5 L372.9,128.1 L374.3,129.8 L375.8,131.4 L376.9,133.3 L376.9,133.3 L374.7,132.4 L372.9,131.1 L371.3,129.7 L369.8,128.1 L368.6,126.2 L367.4,124.4 L366.7,122.1 Z" fill="none" stroke="#1f302e" stroke-opacity="0.7" stroke-width="0.7"/>
<path d="M361.3,166.2 L363.2,166.7 L364.7,167.6 L366.2,168.5 L367.8,169.4 L369.3,170.4 L370.5,171.8 L371.7,173.2 L371.7,173.2 L370.0,172.6 L368.2,172.0 L366.7,171.0 L365.3,169.9 L363.9,168.8 L362.5,167.7 L361.3,166.2 Z" fill="#2a3c3a" fill-opacity="0.6" stroke="#e0e6de" stroke-opacity="0.5" stroke-width="1.8"/>
<path d="M361.3,166.2 L363.2,166.7 L364.7,167.6 L366.2,168.5 L367.8,169.4 L369.3,170.4 L370.5,171.8 L371.7,173.2 L371.7,173.2 L370.0,172.6 L368.2,172.0 L366.7,171.0 L365.3,169.9 L363.9,168.8 L362.5,167.7 L361.3,166.2 Z" fill="none" stroke="#1f302e" stroke-opacity="0.7" stroke-width="0.7"/>
<path d="M378.5,148.8 L380.3,149.3 L382.1,149.8 L383.8,150.5 L385.6,150.9 L387.2,151.9 L388.9,152.6 L390.6,153.2 L390.6,153.2 L388.6,153.4 L386.6,153.4 L384.7,153.3 L383.0,152.5 L381.4,151.8 L379.9,150.4 L378.5,148.8 Z" fill="#2a3c3a" fill-opacity="0.6" stroke="#e0e6de" stroke-opacity="0.5" stroke-width="1.8"/>
<path d="M378.5,148.8 L380.3,149.3 L382.1,149.8 L383.8,150.5 L385.6,150.9 L387.2,151.9 L388.9,152.6 L390.6,153.2 L390.6,153.2 L388.6,153.4 L386.6,153.4 L384.7,153.3 L383.0,152.5 L381.4,151.8 L379.9,150.4 L378.5,148.8 Z" fill="none" stroke="#1f302e" stroke-opacity="0.7" stroke-width="0.7"/>
<path d="M331.6,143.7 L334.1,144.7 L336.2,146.2 L338.6,147.4 L340.5,149.1 L342.1,151.1 L343.6,153.3 L344.8,155.8 L344.8,155.8 L342.6,154.4 L340.6,152.8 L338.5,151.2 L336.7,149.5 L335.1,147.4 L333.2,145.7 L331.6,143.7 Z" fill="#2a3c3a" fill-opacity="0.6" stroke="#e0e6de" stroke-opacity="0.5" stroke-width="1.8"/>
<path d="M331.6,143.7 L334.1,144.7 L336.2,146.2 L338.6,147.4 L340.5,149.1 L342.1,151.1 L343.6,153.3 L344.8,155.8 L344.8,155.8 L342.6,154.4 L340.6,152.8 L338.5,151.2 L336.7,149.5 L335.1,147.4 L333.2,145.7 L331.6,143.7 Z" fill="none" stroke="#1f302e" stroke-opacity="0.7" stroke-width="0.7"/>
<path d="M313.3,131.1 L315.4,132.3 L317.6,133.4 L319.6,134.8 L321.5,136.3 L323.4,137.8 L325.1,139.5 L327.0,141.1 L327.0,141.1 L324.4,140.5 L321.9,139.9 L319.7,138.8 L317.7,137.4 L315.9,135.7 L314.6,133.5 L313.3,131.1 Z" fill="#2a3c3a" fill-opacity="0.6" stroke="#e0e6de" stroke-opacity="0.5" stroke-width="1.8"/>
<path d="M313.3,131.1 L315.4,132.3 L317.6,133.4 L319.6,134.8 L321.5,136.3 L323.4,137.8 L325.1,139.5 L327.0,141.1 L327.0,141.1 L324.4,140.5 L321.9,139.9 L319.7,138.8 L317.7,137.4 L315.9,135.7 L314.6,133.5 L313.3,131.1 Z" fill="none" stroke="#1f302e" stroke-opacity="0.7" stroke-width="0.7"/>
<path d="M329.9,147.5 L331.5,147.0 L332.8,146.8 L334.0,147.2 L335.2,147.3 L336.2,148.0 L336.9,149.3 L337.6,150.8 L337.6,150.8 L336.1,151.2 L334.7,151.5 L333.5,151.2 L332.6,150.4 L331.5,149.9 L330.7,148.9 L329.9,147.5 Z" fill="#2a3c3a" fill-opacity="0.6" stroke="#e0e6de" stroke-opacity="0.5" stroke-width="1.8"/>
<path d="M329.9,147.5 L331.5,147.0 L332.8,146.8 L334.0,147.2 L335.2,147.3 L336.2,148.0 L336.9,149.3 L337.6,150.8 L337.6,150.8 L336.1,151.2 L334.7,151.5 L333.5,151.2 L332.6,150.4 L331.5,149.9 L330.7,148.9 L329.9,147.5 Z" fill="none" stroke="#1f302e" stroke-opacity="0.7" stroke-width="0.7"/>
<path d="M384.1,116.8 L383.3,118.7 L382.7,120.8 L381.4,122.5 L380.4,124.4 L379.3,126.1 L378.2,127.9 L376.9,129.6 L376.9,129.6 L377.5,127.5 L378.2,125.5 L379.1,123.6 L380.1,121.8 L381.0,119.8 L382.6,118.3 L384.1,116.8 Z" fill="#2a3c3a" fill-opacity="0.6" stroke="#e0e6de" stroke-opacity="0.5" stroke-width="1.8"/>
<path d="M384.1,116.8 L383.3,118.7 L382.7,120.8 L381.4,122.5 L380.4,124.4 L379.3,126.1 L378.2,127.9 L376.9,129.6 L376.9,129.6 L377.5,127.5 L378.2,125.5 L379.1,123.6 L380.1,121.8 L381.0,119.8 L382.6,118.3 L384.1,116.8 Z" fill="none" stroke="#1f302e" stroke-opacity="0.7" stroke-width="0.7"/>
<path d="M382.9,167.4 L382.5,169.2 L381.7,170.5 L380.8,171.6 L379.5,172.2 L378.2,172.9 L376.8,173.4 L375.0,173.3 L375.0,173.3 L375.7,171.8 L376.7,170.8 L377.7,169.9 L378.7,168.8 L379.9,168.1 L381.3,167.5 L382.9,167.4 Z" fill="#2a3c3a" fill-opacity="0.6" stroke="#e0e6de" stroke-opacity="0.5" stroke-width="1.8"/>
<path d="M382.9,167.4 L382.5,169.2 L381.7,170.5 L380.8,171.6 L379.5,172.2 L378.2,172.9 L376.8,173.4 L375.0,173.3 L375.0,173.3 L375.7,171.8 L376.7,170.8 L377.7,169.9 L378.7,168.8 L379.9,168.1 L381.3,167.5 L382.9,167.4 Z" fill="none" stroke="#1f302e" stroke-opacity="0.7" stroke-width="0.7"/>
<path d="M347.4,169.9 L349.2,169.5 L351.1,168.7 L352.8,169.0 L354.5,169.0 L356.2,169.6 L357.8,170.7 L359.4,171.7 L359.4,171.7 L357.6,172.2 L355.8,172.8 L354.0,172.8 L352.3,172.2 L350.6,172.0 L349.0,170.9 L347.4,169.9 Z" fill="#2a3c3a" fill-opacity="0.6" stroke="#e0e6de" stroke-opacity="0.5" stroke-width="1.8"/>
<path d="M347.4,169.9 L349.2,169.5 L351.1,168.7 L352.8,169.0 L354.5,169.0 L356.2,169.6 L357.8,170.7 L359.4,171.7 L359.4,171.7 L357.6,172.2 L355.8,172.8 L354.0,172.8 L352.3,172.2 L350.6,172.0 L349.0,170.9 L347.4,169.9 Z" fill="none" stroke="#1f302e" stroke-opacity="0.7" stroke-width="0.7"/>
<path d="M329.1,126.1 L331.1,125.9 L332.9,125.9 L334.6,126.4 L336.4,126.8 L338.0,127.6 L339.5,128.8 L340.9,129.9 L340.9,129.9 L339.2,129.5 L337.4,129.3 L335.7,128.9 L334.1,128.1 L332.3,127.7 L330.7,126.9 L329.1,126.1 Z" fill="#2a3c3a" fill-opacity="0.6" stroke="#e0e6de" stroke-opacity="0.5" stroke-width="1.8"/>
<path d="M329.1,126.1 L331.1,125.9 L332.9,125.9 L334.6,126.4 L336.4,126.8 L338.0,127.6 L339.5,128.8 L340.9,129.9 L340.9,129.9 L339.2,129.5 L337.4,129.3 L335.7,128.9 L334.1,128.1 L332.3,127.7 L330.7,126.9 L329.1,126.1 Z" fill="none" stroke="#1f302e" stroke-opacity="0.7" stroke-width="0.7"/>
</g>
<rect x="382.4" y="170.4" width="6" height="2.2" fill="#333" opacity="0.5"/>
</g>
<clipPath id="dc102"><rect x="392.2" y="120.0" width="74.0" height="55.19999999999999"/></clipPath>
<g clip-path="url(#dc102)">
<rect x="392.2" y="120.0" width="74.0" height="55.19999999999999" fill="#8e8e8c"/>
<g filter="url(#bl4)">
<ellipse cx="447.7" cy="147.6" rx="22.2" ry="27.6" fill="#939590" opacity="0.8"/>
<ellipse cx="401.1" cy="147.6" rx="13.3" ry="27.6" fill="#86809a" opacity="0.7"/>
</g>
<g filter="url(#bl3)">
<path d="M406.5,145.4 L406.3,148.2 L405.5,150.7 L405.2,153.3 L404.4,155.8 L403.2,158.2 L402.1,160.6 L400.4,162.8 L400.4,162.8 L400.2,159.9 L400.6,157.3 L401.1,154.7 L402.0,152.2 L403.5,150.0 L404.7,147.6 L406.5,145.4 Z" fill="#2a3c3a" fill-opacity="0.6" stroke="#e0e6de" stroke-opacity="0.5" stroke-width="1.8"/>
<path d="M406.5,145.4 L406.3,148.2 L405.5,150.7 L405.2,153.3 L404.4,155.8 L403.2,158.2 L402.1,160.6 L400.4,162.8 L400.4,162.8 L400.2,159.9 L400.6,157.3 L401.1,154.7 L402.0,152.2 L403.5,150.0 L404.7,147.6 L406.5,145.4 Z" fill="none" stroke="#1f302e" stroke-opacity="0.7" stroke-width="0.7"/>
<path d="M424.9,125.0 L424.3,127.7 L423.3,130.0 L422.3,132.5 L420.6,134.4 L419.2,136.5 L417.2,138.2 L414.9,139.7 L414.9,139.7 L415.6,137.1 L416.6,134.8 L418.2,132.8 L419.3,130.5 L421.2,128.6 L422.8,126.7 L424.9,125.0 Z" fill="#2a3c3a" fill-opacity="0.6" stroke="#e0e6de" stroke-opacity="0.5" stroke-width="1.8"/>
<path d="M424.9,125.0 L424.3,127.7 L423.3,130.0 L422.3,132.5 L420.6,134.4 L419.2,136.5 L417.2,138.2 L414.9,139.7 L414.9,139.7 L415.6,137.1 L416.6,134.8 L418.2,132.8 L419.3,130.5 L421.2,128.6 L422.8,126.7 L424.9,125.0 Z" fill="none" stroke="#1f302e" stroke-opacity="0.7" stroke-width="0.7"/>
<path d="M410.0,114.7 L411.1,117.7 L412.1,120.7 L411.8,123.6 L411.8,126.6 L411.6,129.5 L410.7,132.5 L409.3,135.4 L409.3,135.4 L408.9,132.4 L408.7,129.5 L409.0,126.5 L409.1,123.6 L408.8,120.6 L409.5,117.7 L410.0,114.7 Z" fill="#2a3c3a" fill-opacity="0.6" stroke="#e0e6de" stroke-opacity="0.5" stroke-width="1.8"/>
<path d="M410.0,114.7 L411.1,117.7 L412.1,120.7 L411.8,123.6 L411.8,126.6 L411.6,129.5 L410.7,132.5 L409.3,135.4 L409.3,135.4 L408.9,132.4 L408.7,129.5 L409.0,126.5 L409.1,123.6 L408.8,120.6 L409.5,117.7 L410.0,114.7 Z" fill="none" stroke="#1f302e" stroke-opacity="0.7" stroke-width="0.7"/>
<path d="M444.0,137.2 L441.7,140.4 L438.9,142.7 L436.1,145.0 L433.1,147.1 L429.7,148.5 L426.1,149.6 L422.4,150.5 L422.4,150.5 L425.2,148.0 L427.9,145.6 L430.8,143.4 L434.0,141.7 L437.3,140.1 L440.5,138.4 L444.0,137.2 Z" fill="#2a3c3a" fill-opacity="0.6" stroke="#e0e6de" stroke-opacity="0.5" stroke-width="1.8"/>
<path d="M444.0,137.2 L441.7,140.4 L438.9,142.7 L436.1,145.0 L433.1,147.1 L429.7,148.5 L426.1,149.6 L422.4,150.5 L422.4,150.5 L425.2,148.0 L427.9,145.6 L430.8,143.4 L434.0,141.7 L437.3,140.1 L440.5,138.4 L444.0,137.2 Z" fill="none" stroke="#1f302e" stroke-opacity="0.7" stroke-width="0.7"/>
<path d="M448.9,169.4 L445.5,170.7 L442.0,171.5 L438.5,171.6 L435.0,171.8 L431.5,172.4 L427.9,172.1 L424.3,171.4 L424.3,171.4 L427.7,170.3 L431.2,169.5 L434.8,169.5 L438.3,169.1 L441.8,168.6 L445.3,168.8 L448.9,169.4 Z" fill="#2a3c3a" fill-opacity="0.6" stroke="#e0e6de" stroke-opacity="0.5" stroke-width="1.8"/>
<path d="M448.9,169.4 L445.5,170.7 L442.0,171.5 L438.5,171.6 L435.0,171.8 L431.5,172.4 L427.9,172.1 L424.3,171.4 L424.3,171.4 L427.7,170.3 L431.2,169.5 L434.8,169.5 L438.3,169.1 L441.8,168.6 L445.3,168.8 L448.9,169.4 Z" fill="none" stroke="#1f302e" stroke-opacity="0.7" stroke-width="0.7"/>
<path d="M408.0,143.5 L409.5,147.5 L410.7,151.5 L411.8,155.6 L412.3,159.7 L412.7,163.8 L412.9,168.0 L412.7,172.3 L412.7,172.3 L411.8,168.2 L411.2,164.1 L410.4,160.0 L409.6,155.9 L409.1,151.8 L408.4,147.7 L408.0,143.5 Z" fill="#2a3c3a" fill-opacity="0.6" stroke="#e0e6de" stroke-opacity="0.5" stroke-width="1.8"/>
<path d="M408.0,143.5 L409.5,147.5 L410.7,151.5 L411.8,155.6 L412.3,159.7 L412.7,163.8 L412.9,168.0 L412.7,172.3 L412.7,172.3 L411.8,168.2 L411.2,164.1 L410.4,160.0 L409.6,155.9 L409.1,151.8 L408.4,147.7 L408.0,143.5 Z" fill="none" stroke="#1f302e" stroke-opacity="0.7" stroke-width="0.7"/>
<path d="M408.4,120.3 L406.6,122.9 L404.8,125.4 L403.1,128.0 L400.8,130.2 L398.7,132.5 L396.5,134.8 L394.0,136.7 L394.0,136.7 L395.4,133.8 L397.2,131.2 L399.2,128.8 L401.0,126.2 L403.4,124.2 L405.8,122.2 L408.4,120.3 Z" fill="#2a3c3a" fill-opacity="0.6" stroke="#e0e6de" stroke-opacity="0.5" stroke-width="1.8"/>
<path d="M408.4,120.3 L406.6,122.9 L404.8,125.4 L403.1,128.0 L400.8,130.2 L398.7,132.5 L396.5,134.8 L394.0,136.7 L394.0,136.7 L395.4,133.8 L397.2,131.2 L399.2,128.8 L401.0,126.2 L403.4,124.2 L405.8,122.2 L408.4,120.3 Z" fill="none" stroke="#1f302e" stroke-opacity="0.7" stroke-width="0.7"/>
<path d="M414.8,161.7 L418.2,162.8 L421.7,163.7 L425.1,164.7 L428.5,165.7 L431.9,167.0 L435.3,168.1 L438.7,168.9 L438.7,168.9 L435.0,168.9 L431.3,168.7 L427.7,168.3 L424.3,167.3 L421.0,165.8 L417.9,163.9 L414.8,161.7 Z" fill="#2a3c3a" fill-opacity="0.6" stroke="#e0e6de" stroke-opacity="0.5" stroke-width="1.8"/>
<path d="M414.8,161.7 L418.2,162.8 L421.7,163.7 L425.1,164.7 L428.5,165.7 L431.9,167.0 L435.3,168.1 L438.7,168.9 L438.7,168.9 L435.0,168.9 L431.3,168.7 L427.7,168.3 L424.3,167.3 L421.0,165.8 L417.9,163.9 L414.8,161.7 Z" fill="none" stroke="#1f302e" stroke-opacity="0.7" stroke-width="0.7"/>
<path d="M414.7,144.4 L414.0,148.5 L412.9,152.3 L410.8,155.3 L409.0,158.6 L406.2,161.1 L403.1,163.4 L399.2,165.1 L399.2,165.1 L401.2,162.0 L403.4,159.0 L405.6,156.0 L408.1,153.3 L410.0,150.1 L412.4,147.3 L414.7,144.4 Z" fill="#2a3c3a" fill-opacity="0.6" stroke="#e0e6de" stroke-opacity="0.5" stroke-width="1.8"/>
<path d="M414.7,144.4 L414.0,148.5 L412.9,152.3 L410.8,155.3 L409.0,158.6 L406.2,161.1 L403.1,163.4 L399.2,165.1 L399.2,165.1 L401.2,162.0 L403.4,159.0 L405.6,156.0 L408.1,153.3 L410.0,150.1 L412.4,147.3 L414.7,144.4 Z" fill="none" stroke="#1f302e" stroke-opacity="0.7" stroke-width="0.7"/>
<path d="M409.0,163.9 L409.0,166.6 L408.4,169.1 L407.6,171.6 L407.3,174.2 L406.0,176.4 L404.7,178.7 L403.4,181.0 L403.4,181.0 L403.6,178.3 L403.9,175.7 L404.2,173.1 L405.5,170.9 L406.4,168.4 L407.4,166.1 L409.0,163.9 Z" fill="#2a3c3a" fill-opacity="0.6" stroke="#e0e6de" stroke-opacity="0.5" stroke-width="1.8"/>
<path d="M409.0,163.9 L409.0,166.6 L408.4,169.1 L407.6,171.6 L407.3,174.2 L406.0,176.4 L404.7,178.7 L403.4,181.0 L403.4,181.0 L403.6,178.3 L403.9,175.7 L404.2,173.1 L405.5,170.9 L406.4,168.4 L407.4,166.1 L409.0,163.9 Z" fill="none" stroke="#1f302e" stroke-opacity="0.7" stroke-width="0.7"/>
<path d="M402.6,149.9 L399.9,151.1 L397.4,152.5 L394.6,153.5 L391.9,154.3 L388.9,154.1 L386.1,154.6 L383.2,154.6 L383.2,154.6 L385.8,153.1 L388.5,152.3 L391.1,150.7 L393.9,150.2 L396.7,149.8 L399.7,149.9 L402.6,149.9 Z" fill="#2a3c3a" fill-opacity="0.6" stroke="#e0e6de" stroke-opacity="0.5" stroke-width="1.8"/>
<path d="M402.6,149.9 L399.9,151.1 L397.4,152.5 L394.6,153.5 L391.9,154.3 L388.9,154.1 L386.1,154.6 L383.2,154.6 L383.2,154.6 L385.8,153.1 L388.5,152.3 L391.1,150.7 L393.9,150.2 L396.7,149.8 L399.7,149.9 L402.6,149.9 Z" fill="none" stroke="#1f302e" stroke-opacity="0.7" stroke-width="0.7"/>
<path d="M445.4,141.7 L443.3,144.0 L440.8,145.5 L438.5,147.4 L435.7,147.9 L433.1,149.1 L430.2,149.3 L427.1,149.2 L427.1,149.2 L429.4,147.4 L431.8,145.9 L434.6,145.1 L437.0,143.6 L439.9,143.2 L442.6,142.2 L445.4,141.7 Z" fill="#2a3c3a" fill-opacity="0.6" stroke="#e0e6de" stroke-opacity="0.5" stroke-width="1.8"/>
<path d="M445.4,141.7 L443.3,144.0 L440.8,145.5 L438.5,147.4 L435.7,147.9 L433.1,149.1 L430.2,149.3 L427.1,149.2 L427.1,149.2 L429.4,147.4 L431.8,145.9 L434.6,145.1 L437.0,143.6 L439.9,143.2 L442.6,142.2 L445.4,141.7 Z" fill="none" stroke="#1f302e" stroke-opacity="0.7" stroke-width="0.7"/>
</g>
<rect x="457.2" y="170.4" width="6" height="2.2" fill="#333" opacity="0.5"/>
</g>
<clipPath id="dc103"><rect x="467.2" y="120.0" width="74.19999999999999" height="55.19999999999999"/></clipPath>
<g clip-path="url(#dc103)">
<rect x="467.2" y="120.0" width="74.19999999999999" height="55.19999999999999" fill="#88848f"/>
<g filter="url(#bl4)">
<ellipse cx="504.3" cy="144.8" rx="22.3" ry="16.6" fill="#9a9c90" opacity="0.7"/>
<ellipse cx="478.3" cy="164.2" rx="14.8" ry="11.0" fill="#7c7290" opacity="0.8"/>
</g>
<g filter="url(#bl3)">
<path d="M460.3,179.1Q463.6,176.5 465.1,175.9M485.1,168.7Q488.0,176.9 486.3,189.5M485.1,168.7Q478.5,165.7 470.7,163.2M488.2,165.6Q499.0,162.0 507.3,163.2M517.9,174.5Q513.9,172.9 513.1,166.9M513.1,166.9Q510.0,164.4 507.3,163.2M495.4,150.2Q498.9,154.6 506.5,158.1M496.9,145.0Q504.4,148.1 507.3,149.9M506.5,158.1Q509.2,154.7 507.3,149.9M460.7,113.4Q461.5,115.4 467.1,116.3M467.1,116.3Q466.8,119.8 465.9,118.4M465.9,118.4Q464.5,119.2 460.1,117.9M474.7,133.2Q477.8,135.1 484.6,137.5M484.6,137.5Q484.1,142.0 481.0,146.1M460.6,152.3Q463.9,148.6 466.3,149.0M474.7,133.2Q474.3,129.8 473.6,130.4M473.6,130.4Q469.9,130.8 471.0,129.0M471.0,129.0Q465.3,127.9 460.5,129.7M465.9,118.4Q465.8,117.2 466.0,120.1M466.0,120.1Q463.9,127.3 460.5,129.7M471.0,129.0Q472.7,128.3 471.3,123.9M466.0,120.1Q469.2,123.6 470.5,122.5M539.2,180.9Q542.1,179.6 545.7,182.2M548.9,186.5Q545.7,181.9 545.7,182.2M517.9,174.5Q522.0,170.3 529.0,170.1M529.0,170.1Q531.4,171.8 537.2,171.0M537.2,171.0Q540.8,168.8 545.7,168.3M548.9,186.5Q547.7,177.4 550.4,165.8M545.7,168.3Q546.8,169.0 550.4,165.8M473.6,130.4Q474.8,125.4 479.9,125.2M495.9,142.4Q497.5,141.8 495.9,141.4M495.9,141.4Q493.6,139.6 487.7,135.7M528.9,151.5Q535.0,149.1 539.1,149.0M528.9,151.5Q530.2,156.3 530.0,165.1M530.0,165.1Q537.7,160.1 541.4,151.6M539.1,149.0Q540.7,147.9 541.0,150.6M541.0,150.6Q539.8,150.9 541.4,151.6M513.1,166.9Q514.4,163.5 519.4,155.4M534.9,117.3Q544.5,123.3 549.8,129.6M539.1,149.0Q537.3,145.9 538.1,142.7M524.9,115.2Q521.4,119.2 513.1,123.8M513.1,123.8Q509.9,120.7 504.2,118.1M479.9,125.2Q482.0,125.0 487.8,126.7M487.7,135.7Q487.9,134.3 488.7,131.1M487.8,126.7Q487.7,127.5 488.7,131.1M477.6,116.8Q473.0,118.1 472.5,115.0M470.4,113.5Q473.2,113.9 472.5,115.0M477.6,119.4Q478.8,117.7 477.6,116.8M493.1,115.8Q489.3,119.1 487.8,126.7M493.1,115.8Q492.5,109.6 490.7,108.4M496.4,117.3Q497.6,115.3 494.7,116.8M494.7,116.8Q496.0,115.8 493.1,115.8M531.0,117.1Q533.8,115.6 534.9,117.3M470.5,122.5Q470.0,120.1 472.5,115.0M537.9,142.1Q535.3,139.9 532.2,137.1M532.2,137.1Q531.7,136.6 532.7,134.9M532.7,134.9Q538.5,134.5 539.4,129.4M539.4,129.4Q545.2,130.2 547.2,130.4M538.1,142.7Q537.7,144.1 537.9,142.1M525.0,116.3Q530.5,125.0 532.7,134.9M524.2,123.1Q525.0,128.6 525.6,139.0M525.6,139.0Q529.5,138.1 532.2,137.1M531.0,117.1Q533.4,125.5 539.4,129.4M525.0,116.3Q526.0,115.7 524.9,115.2M524.2,148.7Q524.7,145.2 521.9,141.2M521.9,141.2Q520.2,138.1 518.3,139.8M518.3,139.8Q516.8,139.4 513.2,139.0M513.2,139.0Q512.8,139.9 512.1,140.0M510.0,146.0Q513.4,148.7 514.4,149.4M525.6,139.0Q524.6,142.6 521.9,141.2M507.3,149.9Q508.1,150.4 510.0,146.0M500.2,133.5Q503.6,133.8 511.1,130.4M500.2,133.5Q499.9,131.8 498.5,130.2M499.4,128.6Q497.7,127.7 498.5,130.2M504.8,126.9Q507.4,127.2 511.1,127.7M511.1,127.7Q508.6,130.1 511.1,130.4M499.5,139.0Q501.7,136.7 500.2,133.5M513.2,139.0Q513.1,132.8 511.1,130.4M488.7,131.1Q492.8,128.3 498.5,130.2M494.7,116.8Q499.4,124.9 499.4,128.6M496.4,117.3Q500.4,120.7 504.8,126.9M513.1,123.8Q512.7,127.1 511.1,127.7" fill="none" stroke="#e8eee6" stroke-opacity="0.55" stroke-width="1.8" stroke-linecap="round"/>
<path d="M461.2,179.9Q464.5,177.3 466.0,176.7M486.0,169.5Q488.9,177.7 487.2,190.3M486.0,169.5Q479.4,166.5 471.6,164.0M489.1,166.4Q499.9,162.8 508.2,164.0M518.8,175.3Q514.8,173.7 514.0,167.7M514.0,167.7Q510.9,165.2 508.2,164.0M496.3,151.0Q499.8,155.4 507.4,158.9M497.8,145.8Q505.3,148.9 508.2,150.7M507.4,158.9Q510.1,155.5 508.2,150.7M461.6,114.2Q462.4,116.2 468.0,117.1M468.0,117.1Q467.7,120.6 466.8,119.2M466.8,119.2Q465.4,120.0 461.0,118.7M475.6,134.0Q478.7,135.9 485.5,138.3M485.5,138.3Q485.0,142.8 481.9,146.9M461.5,153.1Q464.8,149.4 467.2,149.8M475.6,134.0Q475.2,130.6 474.5,131.2M474.5,131.2Q470.8,131.6 471.9,129.8M471.9,129.8Q466.2,128.7 461.4,130.5M466.8,119.2Q466.7,118.0 466.9,120.9M466.9,120.9Q464.8,128.1 461.4,130.5M471.9,129.8Q473.6,129.1 472.2,124.7M466.9,120.9Q470.1,124.4 471.4,123.3M540.1,181.7Q543.0,180.4 546.6,183.0M549.8,187.3Q546.6,182.7 546.6,183.0M518.8,175.3Q522.9,171.1 529.9,170.9M529.9,170.9Q532.3,172.6 538.1,171.8M538.1,171.8Q541.7,169.6 546.6,169.1M549.8,187.3Q548.6,178.2 551.3,166.6M546.6,169.1Q547.7,169.8 551.3,166.6M474.5,131.2Q475.7,126.2 480.8,126.0M496.8,143.2Q498.4,142.6 496.8,142.2M496.8,142.2Q494.5,140.4 488.6,136.5M529.8,152.3Q535.9,149.9 540.0,149.8M529.8,152.3Q531.1,157.1 530.9,165.9M530.9,165.9Q538.6,160.9 542.3,152.4M540.0,149.8Q541.6,148.7 541.9,151.4M541.9,151.4Q540.7,151.7 542.3,152.4M514.0,167.7Q515.3,164.3 520.3,156.2M535.8,118.1Q545.4,124.1 550.7,130.4M540.0,149.8Q538.2,146.7 539.0,143.5M525.8,116.0Q522.3,120.0 514.0,124.6M514.0,124.6Q510.8,121.5 505.1,118.9M480.8,126.0Q482.9,125.8 488.7,127.5M488.6,136.5Q488.8,135.1 489.6,131.9M488.7,127.5Q488.6,128.3 489.6,131.9M478.5,117.6Q473.9,118.9 473.4,115.8M471.3,114.3Q474.1,114.7 473.4,115.8M478.5,120.2Q479.7,118.5 478.5,117.6M494.0,116.6Q490.2,119.9 488.7,127.5M494.0,116.6Q493.4,110.4 491.6,109.2M497.3,118.1Q498.5,116.1 495.6,117.6M495.6,117.6Q496.9,116.6 494.0,116.6M531.9,117.9Q534.7,116.4 535.8,118.1M471.4,123.3Q470.9,120.9 473.4,115.8M538.8,142.9Q536.2,140.7 533.1,137.9M533.1,137.9Q532.6,137.4 533.6,135.7M533.6,135.7Q539.4,135.3 540.3,130.2M540.3,130.2Q546.1,131.0 548.1,131.2M539.0,143.5Q538.6,144.9 538.8,142.9M525.9,117.1Q531.4,125.8 533.6,135.7M525.1,123.9Q525.9,129.4 526.5,139.8M526.5,139.8Q530.4,138.9 533.1,137.9M531.9,117.9Q534.3,126.3 540.3,130.2M525.9,117.1Q526.9,116.5 525.8,116.0M525.1,149.5Q525.6,146.0 522.8,142.0M522.8,142.0Q521.1,138.9 519.2,140.6M519.2,140.6Q517.7,140.2 514.1,139.8M514.1,139.8Q513.7,140.7 513.0,140.8M510.9,146.8Q514.3,149.5 515.3,150.2M526.5,139.8Q525.5,143.4 522.8,142.0M508.2,150.7Q509.0,151.2 510.9,146.8M501.1,134.3Q504.5,134.6 512.0,131.2M501.1,134.3Q500.8,132.6 499.4,131.0M500.3,129.4Q498.6,128.5 499.4,131.0M505.7,127.7Q508.3,128.0 512.0,128.5M512.0,128.5Q509.5,130.9 512.0,131.2M500.4,139.8Q502.6,137.5 501.1,134.3M514.1,139.8Q514.0,133.6 512.0,131.2M489.6,131.9Q493.7,129.1 499.4,131.0M495.6,117.6Q500.3,125.7 500.3,129.4M497.3,118.1Q501.3,121.5 505.7,127.7M514.0,124.6Q513.6,127.9 512.0,128.5" fill="none" stroke="#22322f" stroke-opacity="0.6" stroke-width="0.9" stroke-linecap="round"/>
<path d="M534.5,139.7 L536.4,140.9 L538.2,142.0 L540.3,142.9 L541.9,144.3 L543.2,146.2 L544.8,147.7 L546.4,149.2 L546.4,149.2 L544.0,148.7 L541.8,148.0 L539.5,147.4 L537.8,146.1 L536.6,144.0 L535.5,142.0 L534.5,139.7 Z" fill="#2a3c3a" fill-opacity="0.6" stroke="#e0e6de" stroke-opacity="0.5" stroke-width="1.8"/>
<path d="M534.5,139.7 L536.4,140.9 L538.2,142.0 L540.3,142.9 L541.9,144.3 L543.2,146.2 L544.8,147.7 L546.4,149.2 L546.4,149.2 L544.0,148.7 L541.8,148.0 L539.5,147.4 L537.8,146.1 L536.6,144.0 L535.5,142.0 L534.5,139.7 Z" fill="none" stroke="#1f302e" stroke-opacity="0.7" stroke-width="0.7"/>
<path d="M523.9,119.4 L525.5,119.5 L527.0,119.7 L528.4,120.1 L529.7,120.8 L531.0,121.3 L532.2,122.3 L533.3,123.4 L533.3,123.4 L531.8,123.3 L530.3,123.1 L528.9,122.5 L527.5,122.1 L526.3,121.4 L525.1,120.4 L523.9,119.4 Z" fill="#2a3c3a" fill-opacity="0.6" stroke="#e0e6de" stroke-opacity="0.5" stroke-width="1.8"/>
<path d="M523.9,119.4 L525.5,119.5 L527.0,119.7 L528.4,120.1 L529.7,120.8 L531.0,121.3 L532.2,122.3 L533.3,123.4 L533.3,123.4 L531.8,123.3 L530.3,123.1 L528.9,122.5 L527.5,122.1 L526.3,121.4 L525.1,120.4 L523.9,119.4 Z" fill="none" stroke="#1f302e" stroke-opacity="0.7" stroke-width="0.7"/>
<path d="M488.2,134.0 L488.3,136.1 L488.0,138.1 L488.2,140.3 L487.4,142.1 L486.4,143.8 L484.8,145.3 L483.2,146.8 L483.2,146.8 L483.0,144.6 L482.8,142.4 L483.2,140.5 L483.8,138.6 L485.5,137.1 L486.7,135.5 L488.2,134.0 Z" fill="#2a3c3a" fill-opacity="0.6" stroke="#e0e6de" stroke-opacity="0.5" stroke-width="1.8"/>
<path d="M488.2,134.0 L488.3,136.1 L488.0,138.1 L488.2,140.3 L487.4,142.1 L486.4,143.8 L484.8,145.3 L483.2,146.8 L483.2,146.8 L483.0,144.6 L482.8,142.4 L483.2,140.5 L483.8,138.6 L485.5,137.1 L486.7,135.5 L488.2,134.0 Z" fill="none" stroke="#1f302e" stroke-opacity="0.7" stroke-width="0.7"/>
<path d="M486.3,142.8 L487.4,143.6 L488.8,144.2 L489.8,145.1 L490.4,146.3 L491.5,147.2 L492.4,148.2 L492.9,149.6 L492.9,149.6 L491.2,149.4 L489.9,148.7 L488.9,147.8 L487.7,147.1 L486.9,146.0 L486.6,144.4 L486.3,142.8 Z" fill="#2a3c3a" fill-opacity="0.6" stroke="#e0e6de" stroke-opacity="0.5" stroke-width="1.8"/>
<path d="M486.3,142.8 L487.4,143.6 L488.8,144.2 L489.8,145.1 L490.4,146.3 L491.5,147.2 L492.4,148.2 L492.9,149.6 L492.9,149.6 L491.2,149.4 L489.9,148.7 L488.9,147.8 L487.7,147.1 L486.9,146.0 L486.6,144.4 L486.3,142.8 Z" fill="none" stroke="#1f302e" stroke-opacity="0.7" stroke-width="0.7"/>
<path d="M510.0,155.1 L510.4,157.4 L510.4,159.6 L510.5,161.7 L509.7,163.8 L509.4,165.9 L508.5,168.0 L507.6,170.0 L507.6,170.0 L507.6,167.8 L507.5,165.6 L507.9,163.5 L507.8,161.3 L508.5,159.3 L509.0,157.2 L510.0,155.1 Z" fill="#2a3c3a" fill-opacity="0.6" stroke="#e0e6de" stroke-opacity="0.5" stroke-width="1.8"/>
<path d="M510.0,155.1 L510.4,157.4 L510.4,159.6 L510.5,161.7 L509.7,163.8 L509.4,165.9 L508.5,168.0 L507.6,170.0 L507.6,170.0 L507.6,167.8 L507.5,165.6 L507.9,163.5 L507.8,161.3 L508.5,159.3 L509.0,157.2 L510.0,155.1 Z" fill="none" stroke="#1f302e" stroke-opacity="0.7" stroke-width="0.7"/>
<path d="M527.0,145.3 L528.9,146.0 L530.6,147.1 L532.2,148.2 L533.6,149.6 L535.1,150.9 L536.3,152.5 L537.2,154.3 L537.2,154.3 L535.1,153.8 L533.3,152.9 L531.8,151.7 L530.2,150.5 L529.0,149.0 L527.8,147.4 L527.0,145.3 Z" fill="#2a3c3a" fill-opacity="0.6" stroke="#e0e6de" stroke-opacity="0.5" stroke-width="1.8"/>
<path d="M527.0,145.3 L528.9,146.0 L530.6,147.1 L532.2,148.2 L533.6,149.6 L535.1,150.9 L536.3,152.5 L537.2,154.3 L537.2,154.3 L535.1,153.8 L533.3,152.9 L531.8,151.7 L530.2,150.5 L529.0,149.0 L527.8,147.4 L527.0,145.3 Z" fill="none" stroke="#1f302e" stroke-opacity="0.7" stroke-width="0.7"/>
<path d="M513.6,161.8 L515.8,162.6 L517.8,163.5 L518.7,165.2 L520.2,166.5 L521.1,168.2 L521.4,170.4 L521.1,172.9 L521.1,172.9 L519.3,171.7 L517.9,170.4 L516.9,168.8 L516.2,166.9 L514.7,165.6 L514.2,163.7 L513.6,161.8 Z" fill="#2a3c3a" fill-opacity="0.6" stroke="#e0e6de" stroke-opacity="0.5" stroke-width="1.8"/>
<path d="M513.6,161.8 L515.8,162.6 L517.8,163.5 L518.7,165.2 L520.2,166.5 L521.1,168.2 L521.4,170.4 L521.1,172.9 L521.1,172.9 L519.3,171.7 L517.9,170.4 L516.9,168.8 L516.2,166.9 L514.7,165.6 L514.2,163.7 L513.6,161.8 Z" fill="none" stroke="#1f302e" stroke-opacity="0.7" stroke-width="0.7"/>
<path d="M485.6,138.5 L487.7,137.9 L489.8,137.5 L491.9,137.4 L494.0,137.3 L495.9,138.1 L497.9,138.7 L499.9,139.8 L499.9,139.8 L497.8,139.8 L495.8,139.5 L493.8,139.6 L491.7,139.1 L489.7,139.0 L487.7,138.7 L485.6,138.5 Z" fill="#2a3c3a" fill-opacity="0.6" stroke="#e0e6de" stroke-opacity="0.5" stroke-width="1.8"/>
<path d="M485.6,138.5 L487.7,137.9 L489.8,137.5 L491.9,137.4 L494.0,137.3 L495.9,138.1 L497.9,138.7 L499.9,139.8 L499.9,139.8 L497.8,139.8 L495.8,139.5 L493.8,139.6 L491.7,139.1 L489.7,139.0 L487.7,138.7 L485.6,138.5 Z" fill="none" stroke="#1f302e" stroke-opacity="0.7" stroke-width="0.7"/>
<path d="M493.1,127.7 L493.0,129.6 L492.6,131.5 L492.6,133.4 L492.1,135.3 L491.2,137.0 L490.3,138.7 L489.3,140.3 L489.3,140.3 L489.0,138.3 L488.9,136.3 L489.1,134.4 L489.7,132.6 L490.9,131.0 L491.8,129.3 L493.1,127.7 Z" fill="#2a3c3a" fill-opacity="0.6" stroke="#e0e6de" stroke-opacity="0.5" stroke-width="1.8"/>
<path d="M493.1,127.7 L493.0,129.6 L492.6,131.5 L492.6,133.4 L492.1,135.3 L491.2,137.0 L490.3,138.7 L489.3,140.3 L489.3,140.3 L489.0,138.3 L488.9,136.3 L489.1,134.4 L489.7,132.6 L490.9,131.0 L491.8,129.3 L493.1,127.7 Z" fill="none" stroke="#1f302e" stroke-opacity="0.7" stroke-width="0.7"/>
<path d="M533.7,114.7 L534.9,116.1 L536.0,117.6 L536.7,119.3 L537.5,121.0 L538.8,122.4 L539.5,124.1 L540.1,125.8 L540.1,125.8 L538.5,124.6 L537.1,123.3 L536.4,121.6 L535.3,120.1 L534.4,118.5 L534.0,116.7 L533.7,114.7 Z" fill="#2a3c3a" fill-opacity="0.6" stroke="#e0e6de" stroke-opacity="0.5" stroke-width="1.8"/>
<path d="M533.7,114.7 L534.9,116.1 L536.0,117.6 L536.7,119.3 L537.5,121.0 L538.8,122.4 L539.5,124.1 L540.1,125.8 L540.1,125.8 L538.5,124.6 L537.1,123.3 L536.4,121.6 L535.3,120.1 L534.4,118.5 L534.0,116.7 L533.7,114.7 Z" fill="none" stroke="#1f302e" stroke-opacity="0.7" stroke-width="0.7"/>
<path d="M483.1,118.5 L481.4,120.7 L479.3,122.2 L477.2,123.5 L475.0,124.7 L472.7,125.6 L470.1,126.0 L467.4,125.9 L467.4,125.9 L469.4,124.4 L471.5,123.1 L473.8,122.1 L476.1,121.2 L478.4,120.2 L480.6,119.1 L483.1,118.5 Z" fill="#2a3c3a" fill-opacity="0.6" stroke="#e0e6de" stroke-opacity="0.5" stroke-width="1.8"/>
<path d="M483.1,118.5 L481.4,120.7 L479.3,122.2 L477.2,123.5 L475.0,124.7 L472.7,125.6 L470.1,126.0 L467.4,125.9 L467.4,125.9 L469.4,124.4 L471.5,123.1 L473.8,122.1 L476.1,121.2 L478.4,120.2 L480.6,119.1 L483.1,118.5 Z" fill="none" stroke="#1f302e" stroke-opacity="0.7" stroke-width="0.7"/>
<path d="M512.5,141.9 L512.8,143.6 L512.6,145.2 L511.7,146.3 L511.1,147.6 L510.5,148.9 L509.4,149.9 L507.9,150.7 L507.9,150.7 L507.7,149.0 L508.0,147.5 L508.6,146.3 L509.4,145.1 L509.7,143.7 L510.9,142.7 L512.5,141.9 Z" fill="#2a3c3a" fill-opacity="0.6" stroke="#e0e6de" stroke-opacity="0.5" stroke-width="1.8"/>
<path d="M512.5,141.9 L512.8,143.6 L512.6,145.2 L511.7,146.3 L511.1,147.6 L510.5,148.9 L509.4,149.9 L507.9,150.7 L507.9,150.7 L507.7,149.0 L508.0,147.5 L508.6,146.3 L509.4,145.1 L509.7,143.7 L510.9,142.7 L512.5,141.9 Z" fill="none" stroke="#1f302e" stroke-opacity="0.7" stroke-width="0.7"/>
<path d="M532.1,138.7 L533.5,140.5 L535.0,142.1 L536.3,143.9 L537.7,145.7 L539.1,147.4 L540.6,149.1 L542.1,150.7 L542.1,150.7 L539.9,149.7 L538.0,148.4 L536.3,146.8 L534.8,145.2 L533.5,143.3 L532.7,141.1 L532.1,138.7 Z" fill="#2a3c3a" fill-opacity="0.6" stroke="#e0e6de" stroke-opacity="0.5" stroke-width="1.8"/>
<path d="M532.1,138.7 L533.5,140.5 L535.0,142.1 L536.3,143.9 L537.7,145.7 L539.1,147.4 L540.6,149.1 L542.1,150.7 L542.1,150.7 L539.9,149.7 L538.0,148.4 L536.3,146.8 L534.8,145.2 L533.5,143.3 L532.7,141.1 L532.1,138.7 Z" fill="none" stroke="#1f302e" stroke-opacity="0.7" stroke-width="0.7"/>
<path d="M478.9,151.7 L478.3,153.2 L477.5,154.7 L476.9,156.1 L475.6,157.2 L474.7,158.5 L473.4,159.5 L472.1,160.5 L472.1,160.5 L472.5,158.8 L472.9,157.1 L473.9,155.8 L474.5,154.3 L475.9,153.4 L477.3,152.4 L478.9,151.7 Z" fill="#2a3c3a" fill-opacity="0.6" stroke="#e0e6de" stroke-opacity="0.5" stroke-width="1.8"/>
<path d="M478.9,151.7 L478.3,153.2 L477.5,154.7 L476.9,156.1 L475.6,157.2 L474.7,158.5 L473.4,159.5 L472.1,160.5 L472.1,160.5 L472.5,158.8 L472.9,157.1 L473.9,155.8 L474.5,154.3 L475.9,153.4 L477.3,152.4 L478.9,151.7 Z" fill="none" stroke="#1f302e" stroke-opacity="0.7" stroke-width="0.7"/>
<path d="M489.2,166.8 L490.2,168.7 L490.4,170.6 L490.7,172.5 L491.0,174.3 L490.3,176.1 L489.7,177.9 L488.2,179.6 L488.2,179.6 L487.6,177.7 L487.7,175.9 L487.4,174.0 L488.1,172.3 L488.4,170.4 L488.4,168.6 L489.2,166.8 Z" fill="#2a3c3a" fill-opacity="0.6" stroke="#e0e6de" stroke-opacity="0.5" stroke-width="1.8"/>
<path d="M489.2,166.8 L490.2,168.7 L490.4,170.6 L490.7,172.5 L491.0,174.3 L490.3,176.1 L489.7,177.9 L488.2,179.6 L488.2,179.6 L487.6,177.7 L487.7,175.9 L487.4,174.0 L488.1,172.3 L488.4,170.4 L488.4,168.6 L489.2,166.8 Z" fill="none" stroke="#1f302e" stroke-opacity="0.7" stroke-width="0.7"/>
<path d="M537.0,159.6 L534.6,160.7 L532.2,161.6 L529.9,162.8 L527.4,163.1 L524.8,162.9 L522.3,163.1 L519.7,163.0 L519.7,163.0 L522.0,161.8 L524.4,160.9 L526.7,159.7 L529.2,159.0 L531.8,159.3 L534.4,159.4 L537.0,159.6 Z" fill="#2a3c3a" fill-opacity="0.6" stroke="#e0e6de" stroke-opacity="0.5" stroke-width="1.8"/>
<path d="M537.0,159.6 L534.6,160.7 L532.2,161.6 L529.9,162.8 L527.4,163.1 L524.8,162.9 L522.3,163.1 L519.7,163.0 L519.7,163.0 L522.0,161.8 L524.4,160.9 L526.7,159.7 L529.2,159.0 L531.8,159.3 L534.4,159.4 L537.0,159.6 Z" fill="none" stroke="#1f302e" stroke-opacity="0.7" stroke-width="0.7"/>
<path d="M511.3,138.1 L510.5,139.2 L509.6,140.2 L508.5,140.6 L507.5,141.1 L506.4,141.6 L505.0,141.4 L503.7,141.2 L503.7,141.2 L504.6,140.4 L505.5,139.4 L506.7,139.2 L507.8,138.8 L508.8,138.2 L510.1,138.2 L511.3,138.1 Z" fill="#2a3c3a" fill-opacity="0.6" stroke="#e0e6de" stroke-opacity="0.5" stroke-width="1.8"/>
<path d="M511.3,138.1 L510.5,139.2 L509.6,140.2 L508.5,140.6 L507.5,141.1 L506.4,141.6 L505.0,141.4 L503.7,141.2 L503.7,141.2 L504.6,140.4 L505.5,139.4 L506.7,139.2 L507.8,138.8 L508.8,138.2 L510.1,138.2 L511.3,138.1 Z" fill="none" stroke="#1f302e" stroke-opacity="0.7" stroke-width="0.7"/>
<path d="M490.0,164.6 L488.5,166.4 L486.7,167.5 L484.9,168.6 L483.1,169.8 L481.1,170.5 L479.0,171.2 L476.8,171.4 L476.8,171.4 L478.2,169.6 L480.0,168.3 L481.7,167.0 L483.7,166.3 L485.7,165.5 L487.7,164.8 L490.0,164.6 Z" fill="#2a3c3a" fill-opacity="0.6" stroke="#e0e6de" stroke-opacity="0.5" stroke-width="1.8"/>
<path d="M490.0,164.6 L488.5,166.4 L486.7,167.5 L484.9,168.6 L483.1,169.8 L481.1,170.5 L479.0,171.2 L476.8,171.4 L476.8,171.4 L478.2,169.6 L480.0,168.3 L481.7,167.0 L483.7,166.3 L485.7,165.5 L487.7,164.8 L490.0,164.6 Z" fill="none" stroke="#1f302e" stroke-opacity="0.7" stroke-width="0.7"/>
<path d="M527.6,152.8 L526.1,153.7 L524.6,154.3 L523.2,154.9 L521.6,155.1 L520.1,155.0 L518.6,154.3 L517.0,153.4 L517.0,153.4 L518.4,152.5 L519.9,151.8 L521.4,151.6 L523.0,151.6 L524.5,152.0 L526.0,152.2 L527.6,152.8 Z" fill="#2a3c3a" fill-opacity="0.6" stroke="#e0e6de" stroke-opacity="0.5" stroke-width="1.8"/>
<path d="M527.6,152.8 L526.1,153.7 L524.6,154.3 L523.2,154.9 L521.6,155.1 L520.1,155.0 L518.6,154.3 L517.0,153.4 L517.0,153.4 L518.4,152.5 L519.9,151.8 L521.4,151.6 L523.0,151.6 L524.5,152.0 L526.0,152.2 L527.6,152.8 Z" fill="none" stroke="#1f302e" stroke-opacity="0.7" stroke-width="0.7"/>
<path d="M470.8,119.1 L472.0,119.8 L473.2,120.4 L474.3,121.1 L475.3,122.0 L476.0,123.1 L476.7,124.4 L477.4,125.5 L477.4,125.5 L476.0,125.1 L474.5,124.8 L473.2,124.2 L472.3,123.3 L471.6,122.1 L471.2,120.6 L470.8,119.1 Z" fill="#2a3c3a" fill-opacity="0.6" stroke="#e0e6de" stroke-opacity="0.5" stroke-width="1.8"/>
<path d="M470.8,119.1 L472.0,119.8 L473.2,120.4 L474.3,121.1 L475.3,122.0 L476.0,123.1 L476.7,124.4 L477.4,125.5 L477.4,125.5 L476.0,125.1 L474.5,124.8 L473.2,124.2 L472.3,123.3 L471.6,122.1 L471.2,120.6 L470.8,119.1 Z" fill="none" stroke="#1f302e" stroke-opacity="0.7" stroke-width="0.7"/>
<path d="M536.0,152.0 L537.7,153.6 L539.5,155.2 L541.1,156.9 L542.8,158.6 L544.6,160.1 L546.5,161.6 L548.0,163.4 L548.0,163.4 L545.5,162.6 L543.4,161.3 L541.6,159.8 L539.9,158.2 L538.2,156.5 L537.0,154.4 L536.0,152.0 Z" fill="#2a3c3a" fill-opacity="0.6" stroke="#e0e6de" stroke-opacity="0.5" stroke-width="1.8"/>
<path d="M536.0,152.0 L537.7,153.6 L539.5,155.2 L541.1,156.9 L542.8,158.6 L544.6,160.1 L546.5,161.6 L548.0,163.4 L548.0,163.4 L545.5,162.6 L543.4,161.3 L541.6,159.8 L539.9,158.2 L538.2,156.5 L537.0,154.4 L536.0,152.0 Z" fill="none" stroke="#1f302e" stroke-opacity="0.7" stroke-width="0.7"/>
<path d="M512.2,117.9 L512.0,119.7 L511.8,121.5 L510.9,123.1 L510.2,124.7 L509.7,126.4 L508.7,127.9 L507.3,129.2 L507.3,129.2 L507.2,127.2 L507.5,125.4 L508.3,123.9 L509.1,122.3 L509.6,120.6 L510.9,119.2 L512.2,117.9 Z" fill="#2a3c3a" fill-opacity="0.6" stroke="#e0e6de" stroke-opacity="0.5" stroke-width="1.8"/>
<path d="M512.2,117.9 L512.0,119.7 L511.8,121.5 L510.9,123.1 L510.2,124.7 L509.7,126.4 L508.7,127.9 L507.3,129.2 L507.3,129.2 L507.2,127.2 L507.5,125.4 L508.3,123.9 L509.1,122.3 L509.6,120.6 L510.9,119.2 L512.2,117.9 Z" fill="none" stroke="#1f302e" stroke-opacity="0.7" stroke-width="0.7"/>
<path d="M488.9,172.7 L486.9,173.3 L484.9,173.7 L483.0,174.0 L481.0,174.0 L479.0,173.9 L477.0,173.7 L475.0,173.2 L475.0,173.2 L476.9,172.6 L478.9,172.4 L480.9,172.1 L482.9,172.0 L484.9,172.2 L486.9,172.3 L488.9,172.7 Z" fill="#2a3c3a" fill-opacity="0.6" stroke="#e0e6de" stroke-opacity="0.5" stroke-width="1.8"/>
<path d="M488.9,172.7 L486.9,173.3 L484.9,173.7 L483.0,174.0 L481.0,174.0 L479.0,173.9 L477.0,173.7 L475.0,173.2 L475.0,173.2 L476.9,172.6 L478.9,172.4 L480.9,172.1 L482.9,172.0 L484.9,172.2 L486.9,172.3 L488.9,172.7 Z" fill="none" stroke="#1f302e" stroke-opacity="0.7" stroke-width="0.7"/>
<path d="M536.5,157.0 L534.6,158.9 L532.5,160.3 L530.3,161.5 L528.1,162.5 L525.8,163.7 L523.3,164.2 L520.7,164.4 L520.7,164.4 L522.8,163.0 L524.9,161.7 L527.3,160.9 L529.6,159.9 L531.8,158.7 L534.1,157.7 L536.5,157.0 Z" fill="#2a3c3a" fill-opacity="0.6" stroke="#e0e6de" stroke-opacity="0.5" stroke-width="1.8"/>
<path d="M536.5,157.0 L534.6,158.9 L532.5,160.3 L530.3,161.5 L528.1,162.5 L525.8,163.7 L523.3,164.2 L520.7,164.4 L520.7,164.4 L522.8,163.0 L524.9,161.7 L527.3,160.9 L529.6,159.9 L531.8,158.7 L534.1,157.7 L536.5,157.0 Z" fill="none" stroke="#1f302e" stroke-opacity="0.7" stroke-width="0.7"/>
<path d="M539.9,118.3 L538.5,120.4 L536.8,121.8 L535.1,123.4 L533.0,123.9 L531.0,124.6 L528.7,124.6 L526.2,124.2 L526.2,124.2 L528.0,123.0 L529.8,121.9 L531.8,121.1 L533.6,119.9 L535.8,119.5 L537.7,118.7 L539.9,118.3 Z" fill="#2a3c3a" fill-opacity="0.6" stroke="#e0e6de" stroke-opacity="0.5" stroke-width="1.8"/>
<path d="M539.9,118.3 L538.5,120.4 L536.8,121.8 L535.1,123.4 L533.0,123.9 L531.0,124.6 L528.7,124.6 L526.2,124.2 L526.2,124.2 L528.0,123.0 L529.8,121.9 L531.8,121.1 L533.6,119.9 L535.8,119.5 L537.7,118.7 L539.9,118.3 Z" fill="none" stroke="#1f302e" stroke-opacity="0.7" stroke-width="0.7"/>
<path d="M527.7,154.9 L528.7,156.2 L529.1,157.5 L529.7,158.9 L529.4,160.3 L529.1,161.7 L528.9,163.0 L528.1,164.4 L528.1,164.4 L527.3,163.1 L527.1,161.7 L526.7,160.4 L526.3,159.0 L526.7,157.7 L526.9,156.3 L527.7,154.9 Z" fill="#2a3c3a" fill-opacity="0.6" stroke="#e0e6de" stroke-opacity="0.5" stroke-width="1.8"/>
<path d="M527.7,154.9 L528.7,156.2 L529.1,157.5 L529.7,158.9 L529.4,160.3 L529.1,161.7 L528.9,163.0 L528.1,164.4 L528.1,164.4 L527.3,163.1 L527.1,161.7 L526.7,160.4 L526.3,159.0 L526.7,157.7 L526.9,156.3 L527.7,154.9 Z" fill="none" stroke="#1f302e" stroke-opacity="0.7" stroke-width="0.7"/>
<path d="M517.3,146.4 L519.7,146.9 L521.9,147.8 L524.3,148.4 L526.5,149.4 L528.7,150.3 L530.7,151.6 L532.8,152.8 L532.8,152.8 L530.4,152.4 L528.0,152.0 L525.7,151.2 L523.4,150.4 L521.4,149.1 L519.2,148.0 L517.3,146.4 Z" fill="#2a3c3a" fill-opacity="0.6" stroke="#e0e6de" stroke-opacity="0.5" stroke-width="1.8"/>
<path d="M517.3,146.4 L519.7,146.9 L521.9,147.8 L524.3,148.4 L526.5,149.4 L528.7,150.3 L530.7,151.6 L532.8,152.8 L532.8,152.8 L530.4,152.4 L528.0,152.0 L525.7,151.2 L523.4,150.4 L521.4,149.1 L519.2,148.0 L517.3,146.4 Z" fill="none" stroke="#1f302e" stroke-opacity="0.7" stroke-width="0.7"/>
<path d="M511.2,130.5 L512.6,132.6 L513.8,134.9 L515.5,136.9 L516.3,139.3 L517.5,141.5 L518.5,143.9 L519.3,146.3 L519.3,146.3 L517.0,144.6 L515.1,142.7 L513.8,140.6 L512.3,138.5 L511.9,135.8 L511.3,133.3 L511.2,130.5 Z" fill="#2a3c3a" fill-opacity="0.6" stroke="#e0e6de" stroke-opacity="0.5" stroke-width="1.8"/>
<path d="M511.2,130.5 L512.6,132.6 L513.8,134.9 L515.5,136.9 L516.3,139.3 L517.5,141.5 L518.5,143.9 L519.3,146.3 L519.3,146.3 L517.0,144.6 L515.1,142.7 L513.8,140.6 L512.3,138.5 L511.9,135.8 L511.3,133.3 L511.2,130.5 Z" fill="none" stroke="#1f302e" stroke-opacity="0.7" stroke-width="0.7"/>
</g>
<rect x="532.4" y="170.4" width="6" height="2.2" fill="#333" opacity="0.5"/>
</g>
<clipPath id="dc201"><rect x="317.2" y="176.0" width="74.19999999999999" height="53.900000000000006"/></clipPath>
<g clip-path="url(#dc201)">
<rect x="317.2" y="176.0" width="74.19999999999999" height="53.900000000000006" fill="#828282"/>
<g filter="url(#bl4)">
<ellipse cx="361.7" cy="202.9" rx="22.3" ry="21.6" fill="#909090" opacity="0.8"/>
</g>
<g filter="url(#bl3)">
<path d="M341.6,207.7 L341.6,209.4 L341.4,210.9 L340.8,212.2 L340.3,213.6 L339.3,214.6 L337.6,215.3 L336.3,216.0 L336.3,216.0 L336.5,214.5 L336.5,212.8 L337.0,211.5 L338.1,210.5 L339.0,209.4 L340.2,208.5 L341.6,207.7 Z" fill="#333333" fill-opacity="0.55" stroke="#d4d4d4" stroke-opacity="0.45" stroke-width="1.2"/>
<path d="M389.6,175.9 L388.7,177.0 L387.7,177.9 L386.6,178.4 L385.4,178.5 L384.3,178.4 L383.0,177.9 L381.8,177.3 L381.8,177.3 L382.8,176.4 L383.8,175.6 L384.9,175.2 L386.0,174.9 L387.1,174.9 L388.4,175.3 L389.6,175.9 Z" fill="#333333" fill-opacity="0.55" stroke="#d4d4d4" stroke-opacity="0.45" stroke-width="1.2"/>
<path d="M355.6,211.2 L357.1,212.2 L358.2,213.4 L359.5,214.5 L360.1,216.0 L361.4,217.1 L361.6,219.0 L361.9,220.7 L361.9,220.7 L360.3,219.8 L358.6,219.0 L358.0,217.5 L356.8,216.3 L356.4,214.7 L355.7,213.1 L355.6,211.2 Z" fill="#333333" fill-opacity="0.55" stroke="#d4d4d4" stroke-opacity="0.45" stroke-width="1.2"/>
<path d="M354.2,197.8 L353.6,199.5 L352.9,201.2 L351.9,202.6 L351.0,204.1 L349.8,205.4 L348.5,206.7 L347.1,207.8 L347.1,207.8 L347.4,205.9 L348.1,204.2 L348.9,202.6 L349.9,201.2 L351.0,199.8 L352.5,198.7 L354.2,197.8 Z" fill="#333333" fill-opacity="0.55" stroke="#d4d4d4" stroke-opacity="0.45" stroke-width="1.2"/>
<path d="M369.7,173.0 L370.4,174.1 L370.8,175.1 L371.4,176.1 L371.0,177.2 L371.1,178.2 L370.6,179.3 L370.0,180.4 L370.0,180.4 L368.9,179.4 L368.0,178.3 L367.9,177.3 L367.4,176.3 L368.1,175.2 L368.7,174.1 L369.7,173.0 Z" fill="#333333" fill-opacity="0.55" stroke="#d4d4d4" stroke-opacity="0.45" stroke-width="1.2"/>
<path d="M333.0,218.7 L332.1,219.5 L331.3,220.7 L330.3,221.2 L329.2,221.7 L327.9,221.6 L326.7,221.7 L325.5,221.5 L325.5,221.5 L326.3,220.6 L327.3,219.8 L328.1,218.8 L329.2,218.5 L330.4,218.3 L331.7,218.6 L333.0,218.7 Z" fill="#333333" fill-opacity="0.55" stroke="#d4d4d4" stroke-opacity="0.45" stroke-width="1.2"/>
<path d="M363.3,191.2 L365.1,191.1 L366.7,191.4 L368.4,191.6 L369.8,192.3 L371.1,193.1 L372.2,194.5 L373.3,195.9 L373.3,195.9 L371.8,195.5 L370.1,195.4 L368.6,194.7 L367.2,194.1 L365.9,193.1 L364.5,192.2 L363.3,191.2 Z" fill="#333333" fill-opacity="0.55" stroke="#d4d4d4" stroke-opacity="0.45" stroke-width="1.2"/>
<path d="M348.1,220.2 L349.8,220.0 L351.5,219.9 L353.1,220.0 L354.8,220.0 L356.5,220.3 L358.0,221.0 L359.6,221.8 L359.6,221.8 L357.9,222.1 L356.2,222.4 L354.5,222.2 L352.9,221.8 L351.3,221.4 L349.7,220.9 L348.1,220.2 Z" fill="#333333" fill-opacity="0.55" stroke="#d4d4d4" stroke-opacity="0.45" stroke-width="1.2"/>
<path d="M386.5,202.4 L388.4,202.6 L390.3,203.0 L392.0,203.8 L393.8,204.4 L395.7,204.8 L397.4,205.8 L399.1,206.6 L399.1,206.6 L397.1,206.8 L395.0,206.9 L393.2,206.3 L391.4,205.7 L389.6,205.1 L387.9,204.0 L386.5,202.4 Z" fill="#333333" fill-opacity="0.55" stroke="#d4d4d4" stroke-opacity="0.45" stroke-width="1.2"/>
<path d="M399.2,194.2 L397.6,195.8 L396.1,197.3 L394.5,198.7 L392.6,199.4 L390.7,200.1 L388.5,200.2 L386.3,200.4 L386.3,200.4 L387.9,199.0 L389.4,197.5 L391.2,196.5 L392.9,195.4 L395.0,194.9 L397.1,194.6 L399.2,194.2 Z" fill="#333333" fill-opacity="0.55" stroke="#d4d4d4" stroke-opacity="0.45" stroke-width="1.2"/>
<path d="M351.0,202.4 L349.9,204.1 L348.6,205.3 L347.1,206.1 L345.7,207.2 L343.9,207.4 L342.1,207.7 L340.2,207.7 L340.2,207.7 L341.5,206.4 L342.9,205.4 L344.2,204.2 L345.9,203.8 L347.5,203.0 L349.1,202.5 L351.0,202.4 Z" fill="#333333" fill-opacity="0.55" stroke="#d4d4d4" stroke-opacity="0.45" stroke-width="1.2"/>
<path d="M371.8,207.4 L372.7,209.3 L373.6,211.2 L374.2,213.2 L374.5,215.2 L374.1,217.3 L374.3,219.3 L373.9,221.4 L373.9,221.4 L373.0,219.5 L372.7,217.5 L371.7,215.6 L371.5,213.6 L371.4,211.6 L371.6,209.5 L371.8,207.4 Z" fill="#333333" fill-opacity="0.55" stroke="#d4d4d4" stroke-opacity="0.45" stroke-width="1.2"/>
<path d="M354.1,223.1 L354.4,225.1 L354.3,226.8 L353.9,228.4 L353.0,229.8 L352.0,231.1 L350.6,232.3 L349.2,233.4 L349.2,233.4 L349.6,231.8 L350.0,230.2 L350.7,228.7 L351.2,227.1 L352.0,225.7 L353.0,224.4 L354.1,223.1 Z" fill="#333333" fill-opacity="0.55" stroke="#d4d4d4" stroke-opacity="0.45" stroke-width="1.2"/>
<path d="M370.9,192.5 L373.2,192.6 L375.3,192.9 L377.5,193.5 L379.6,193.9 L381.7,194.4 L383.8,195.3 L385.7,196.4 L385.7,196.4 L383.4,196.8 L381.1,196.8 L379.0,196.4 L376.9,195.7 L374.8,195.0 L372.8,193.9 L370.9,192.5 Z" fill="#333333" fill-opacity="0.55" stroke="#d4d4d4" stroke-opacity="0.45" stroke-width="1.2"/>
<path d="M378.7,190.1 L377.4,191.5 L376.2,192.9 L374.7,194.0 L373.1,194.6 L371.3,195.0 L369.7,195.9 L367.9,196.1 L367.9,196.1 L368.8,194.3 L370.2,193.1 L371.4,191.7 L372.8,190.5 L374.6,190.1 L376.6,190.0 L378.7,190.1 Z" fill="#333333" fill-opacity="0.55" stroke="#d4d4d4" stroke-opacity="0.45" stroke-width="1.2"/>
<path d="M327.0,174.0 L328.5,175.0 L329.9,176.0 L330.9,177.2 L331.5,178.7 L332.2,180.2 L332.7,181.8 L332.9,183.5 L332.9,183.5 L331.8,182.3 L330.7,181.1 L329.9,179.8 L328.8,178.6 L327.9,177.2 L327.5,175.6 L327.0,174.0 Z" fill="#333333" fill-opacity="0.55" stroke="#d4d4d4" stroke-opacity="0.45" stroke-width="1.2"/>
<path d="M384.4,200.8 L384.4,202.2 L384.3,203.5 L384.3,204.9 L383.7,206.0 L383.0,207.0 L382.2,208.1 L381.1,209.0 L381.1,209.0 L381.1,207.7 L381.5,206.4 L381.8,205.2 L382.1,204.0 L383.0,203.0 L383.6,201.8 L384.4,200.8 Z" fill="#333333" fill-opacity="0.55" stroke="#d4d4d4" stroke-opacity="0.45" stroke-width="1.2"/>
<path d="M373.1,197.3 L372.1,197.7 L371.2,198.1 L370.1,198.2 L369.1,198.3 L368.1,198.0 L367.1,197.8 L366.1,197.4 L366.1,197.4 L367.1,196.8 L368.1,196.5 L369.1,196.1 L370.1,196.2 L371.1,196.3 L372.1,196.8 L373.1,197.3 Z" fill="#333333" fill-opacity="0.55" stroke="#d4d4d4" stroke-opacity="0.45" stroke-width="1.2"/>
<path d="M374.6,182.7 L375.3,184.0 L375.4,185.4 L375.9,186.8 L375.6,188.2 L375.6,189.6 L375.2,191.0 L374.7,192.3 L374.7,192.3 L374.3,191.0 L373.8,189.6 L373.8,188.2 L373.5,186.8 L373.9,185.4 L374.0,184.1 L374.6,182.7 Z" fill="#333333" fill-opacity="0.55" stroke="#d4d4d4" stroke-opacity="0.45" stroke-width="1.2"/>
<path d="M360.8,204.2 L361.7,205.6 L362.5,206.9 L362.2,208.3 L362.2,209.7 L362.2,211.0 L361.7,212.4 L360.8,213.8 L360.8,213.8 L360.0,212.4 L359.5,211.0 L359.5,209.7 L359.5,208.3 L359.2,206.9 L359.9,205.6 L360.8,204.2 Z" fill="#333333" fill-opacity="0.55" stroke="#d4d4d4" stroke-opacity="0.45" stroke-width="1.2"/>
<path d="M374.3,207.4 L376.5,207.9 L378.8,208.4 L380.9,209.3 L382.9,210.3 L384.7,211.7 L386.5,213.1 L388.2,214.7 L388.2,214.7 L386.0,214.1 L383.9,213.2 L381.8,212.4 L379.9,211.2 L377.9,210.1 L376.2,208.6 L374.3,207.4 Z" fill="#333333" fill-opacity="0.55" stroke="#d4d4d4" stroke-opacity="0.45" stroke-width="1.2"/>
<path d="M372.9,220.6 L371.6,222.0 L370.2,223.0 L368.7,223.6 L367.2,224.3 L365.4,224.1 L363.7,224.2 L361.9,224.0 L361.9,224.0 L363.3,222.8 L364.7,221.8 L366.0,220.6 L367.6,220.3 L369.3,219.9 L371.0,220.0 L372.9,220.6 Z" fill="#333333" fill-opacity="0.55" stroke="#d4d4d4" stroke-opacity="0.45" stroke-width="1.2"/>
<path d="M375.2,220.9 L373.3,222.3 L371.4,223.8 L369.4,224.5 L367.2,224.6 L365.1,225.1 L362.9,225.3 L360.6,225.1 L360.6,225.1 L362.4,223.5 L364.3,222.5 L366.3,221.7 L368.3,220.6 L370.4,220.2 L372.8,220.6 L375.2,220.9 Z" fill="#333333" fill-opacity="0.55" stroke="#d4d4d4" stroke-opacity="0.45" stroke-width="1.2"/>
<path d="M348.0,223.1 L350.1,223.4 L351.9,224.2 L353.7,225.1 L355.4,226.1 L357.1,227.1 L358.5,228.7 L359.8,230.3 L359.8,230.3 L357.9,229.7 L355.9,229.1 L354.3,228.0 L352.6,227.0 L351.0,225.9 L349.3,224.8 L348.0,223.1 Z" fill="#333333" fill-opacity="0.55" stroke="#d4d4d4" stroke-opacity="0.45" stroke-width="1.2"/>
<path d="M359.1,191.8 L357.5,193.0 L355.8,193.7 L354.1,194.3 L352.4,194.9 L350.6,194.9 L348.8,194.7 L346.9,194.2 L346.9,194.2 L348.6,193.7 L350.4,193.4 L352.1,193.0 L353.8,192.8 L355.6,192.5 L357.3,192.1 L359.1,191.8 Z" fill="#333333" fill-opacity="0.55" stroke="#d4d4d4" stroke-opacity="0.45" stroke-width="1.2"/>
<path d="M365.2,210.9 L366.6,212.2 L367.6,213.7 L368.1,215.4 L369.3,216.8 L369.5,218.7 L370.0,220.4 L370.2,222.3 L370.2,222.3 L368.7,221.0 L367.5,219.6 L366.2,218.2 L366.0,216.3 L365.1,214.8 L365.0,212.9 L365.2,210.9 Z" fill="#333333" fill-opacity="0.55" stroke="#d4d4d4" stroke-opacity="0.45" stroke-width="1.2"/>
<path d="M329.5,204.0 L331.0,203.9 L332.0,204.4 L333.1,204.7 L333.9,205.6 L334.6,206.4 L335.1,207.4 L335.3,208.9 L335.3,208.9 L334.1,208.7 L333.0,208.2 L332.2,207.6 L331.2,207.0 L330.6,206.0 L329.8,205.2 L329.5,204.0 Z" fill="#333333" fill-opacity="0.55" stroke="#d4d4d4" stroke-opacity="0.45" stroke-width="1.2"/>
<path d="M343.1,199.1 L344.7,198.5 L346.2,198.2 L347.6,198.3 L348.9,198.7 L350.3,198.9 L351.6,199.8 L352.8,201.0 L352.8,201.0 L351.3,201.3 L349.9,201.3 L348.5,200.9 L347.1,200.7 L345.7,200.5 L344.4,199.9 L343.1,199.1 Z" fill="#333333" fill-opacity="0.55" stroke="#d4d4d4" stroke-opacity="0.45" stroke-width="1.2"/>
<path d="M378.8,216.3 L378.1,217.6 L377.3,218.6 L376.4,219.4 L375.4,219.9 L374.1,219.9 L373.0,220.0 L371.5,219.5 L371.5,219.5 L372.1,218.1 L373.0,217.3 L373.9,216.4 L374.9,215.9 L376.1,215.9 L377.4,216.0 L378.8,216.3 Z" fill="#333333" fill-opacity="0.55" stroke="#d4d4d4" stroke-opacity="0.45" stroke-width="1.2"/>
<path d="M373.3,224.4 L374.4,223.6 L375.5,223.4 L376.7,222.9 L377.7,223.4 L378.8,223.5 L379.7,224.2 L380.6,225.4 L380.6,225.4 L379.5,226.2 L378.3,226.6 L377.3,226.4 L376.2,226.6 L375.2,225.9 L374.2,225.4 L373.3,224.4 Z" fill="#333333" fill-opacity="0.55" stroke="#d4d4d4" stroke-opacity="0.45" stroke-width="1.2"/>
<path d="M353.6,188.6 L355.2,190.0 L356.7,191.5 L357.6,193.4 L358.8,195.0 L359.9,196.8 L360.7,198.7 L361.3,200.8 L361.3,200.8 L359.9,199.3 L358.5,197.7 L357.4,195.9 L356.4,194.1 L355.1,192.5 L354.3,190.6 L353.6,188.6 Z" fill="#333333" fill-opacity="0.55" stroke="#d4d4d4" stroke-opacity="0.45" stroke-width="1.2"/>
<path d="M377.8,185.0 L377.1,186.0 L376.3,186.8 L375.5,187.6 L374.5,188.0 L373.6,188.7 L372.5,188.8 L371.2,188.7 L371.2,188.7 L371.7,187.3 L372.3,186.3 L373.4,186.0 L374.2,185.3 L375.4,185.1 L376.5,184.9 L377.8,185.0 Z" fill="#333333" fill-opacity="0.55" stroke="#d4d4d4" stroke-opacity="0.45" stroke-width="1.2"/>
<path d="M365.9,173.3 L367.3,174.0 L368.7,174.8 L369.6,176.0 L370.8,176.9 L371.8,178.1 L372.7,179.3 L373.6,180.7 L373.6,180.7 L372.0,180.1 L370.6,179.4 L369.3,178.5 L368.3,177.3 L367.1,176.4 L366.5,174.9 L365.9,173.3 Z" fill="#333333" fill-opacity="0.55" stroke="#d4d4d4" stroke-opacity="0.45" stroke-width="1.2"/>
<path d="M367.7,195.1 L367.6,196.2 L367.2,197.2 L367.1,198.3 L366.7,199.2 L366.1,200.0 L365.2,200.7 L364.4,201.4 L364.4,201.4 L364.1,200.1 L364.0,198.9 L364.3,197.9 L364.8,197.0 L365.8,196.4 L366.6,195.7 L367.7,195.1 Z" fill="#333333" fill-opacity="0.55" stroke="#d4d4d4" stroke-opacity="0.45" stroke-width="1.2"/>
<path d="M349.1,210.0 L350.9,209.6 L352.6,209.7 L354.3,209.9 L356.0,210.1 L357.7,210.2 L359.3,211.1 L360.8,212.0 L360.8,212.0 L359.0,212.7 L357.2,213.2 L355.5,212.9 L353.9,212.4 L352.2,212.0 L350.6,211.3 L349.1,210.0 Z" fill="#333333" fill-opacity="0.55" stroke="#d4d4d4" stroke-opacity="0.45" stroke-width="1.2"/>
<path d="M363.3,198.4 L362.1,200.2 L360.8,201.9 L359.5,203.6 L358.2,205.3 L356.7,206.9 L355.2,208.4 L353.6,209.9 L353.6,209.9 L354.5,207.9 L355.6,206.0 L356.8,204.2 L358.3,202.6 L359.8,201.1 L361.4,199.6 L363.3,198.4 Z" fill="#333333" fill-opacity="0.55" stroke="#d4d4d4" stroke-opacity="0.45" stroke-width="1.2"/>
<path d="M388.3,201.8 L388.3,203.8 L388.5,205.8 L388.2,207.8 L388.4,209.8 L387.9,211.8 L387.5,213.8 L387.1,215.7 L387.1,215.7 L386.7,213.7 L386.4,211.7 L386.0,209.6 L386.5,207.7 L386.7,205.7 L387.5,203.8 L388.3,201.8 Z" fill="#333333" fill-opacity="0.55" stroke="#d4d4d4" stroke-opacity="0.45" stroke-width="1.2"/>
<path d="M323.3,209.3 L321.7,210.3 L320.2,211.3 L318.4,211.8 L316.8,212.4 L314.9,212.4 L313.2,212.8 L311.3,212.5 L311.3,212.5 L312.8,211.3 L314.5,210.9 L316.2,210.1 L317.9,209.8 L319.6,209.4 L321.5,209.4 L323.3,209.3 Z" fill="#333333" fill-opacity="0.55" stroke="#d4d4d4" stroke-opacity="0.45" stroke-width="1.2"/>
<path d="M367.7,206.5 L369.5,205.5 L371.2,204.8 L372.8,204.9 L374.4,205.3 L376.0,205.7 L377.4,206.8 L378.7,208.4 L378.7,208.4 L377.0,209.0 L375.4,209.1 L373.8,208.7 L372.2,208.6 L370.6,208.4 L369.1,207.5 L367.7,206.5 Z" fill="#333333" fill-opacity="0.55" stroke="#d4d4d4" stroke-opacity="0.45" stroke-width="1.2"/>
<path d="M374.4,196.2 L376.3,196.5 L377.9,197.2 L379.4,198.0 L380.7,199.0 L381.6,200.7 L382.9,201.7 L383.6,203.5 L383.6,203.5 L381.4,203.5 L380.0,202.7 L378.1,202.3 L376.8,201.3 L375.7,199.9 L374.8,198.4 L374.4,196.2 Z" fill="#333333" fill-opacity="0.55" stroke="#d4d4d4" stroke-opacity="0.45" stroke-width="1.2"/>
<path d="M369.5,197.2 L369.9,199.0 L369.4,200.2 L369.6,201.8 L368.2,202.4 L367.7,203.6 L366.0,203.9 L364.5,204.4 L364.5,204.4 L364.8,203.1 L364.8,201.6 L365.8,200.7 L365.8,199.2 L367.3,198.8 L368.0,197.7 L369.5,197.2 Z" fill="#333333" fill-opacity="0.55" stroke="#d4d4d4" stroke-opacity="0.45" stroke-width="1.2"/>
<path d="M321.5,173.1 L322.9,174.3 L324.2,175.6 L325.0,177.0 L325.2,178.6 L325.8,180.1 L325.4,181.9 L324.7,183.7 L324.7,183.7 L323.6,182.4 L322.7,181.0 L322.5,179.4 L321.8,178.0 L321.5,176.4 L321.5,174.8 L321.5,173.1 Z" fill="#333333" fill-opacity="0.55" stroke="#d4d4d4" stroke-opacity="0.45" stroke-width="1.2"/>
<path d="M332.8,226.6 L334.0,226.5 L335.1,226.6 L336.3,226.5 L337.2,227.1 L338.2,227.6 L339.1,228.4 L340.0,229.1 L340.0,229.1 L338.7,229.4 L337.5,229.7 L336.3,229.7 L335.2,229.5 L334.4,228.6 L333.6,227.8 L332.8,226.6 Z" fill="#333333" fill-opacity="0.55" stroke="#d4d4d4" stroke-opacity="0.45" stroke-width="1.2"/>
<path d="M339.2,204.8 L340.1,206.7 L340.9,208.7 L341.8,210.6 L342.0,212.7 L342.2,214.8 L342.5,216.8 L342.4,219.0 L342.4,219.0 L341.3,217.1 L340.5,215.2 L339.7,213.2 L339.0,211.2 L339.0,209.1 L339.1,206.9 L339.2,204.8 Z" fill="#333333" fill-opacity="0.55" stroke="#d4d4d4" stroke-opacity="0.45" stroke-width="1.2"/>
<path d="M372.5,177.0 L374.2,177.4 L375.6,178.2 L376.9,179.1 L378.1,180.1 L379.3,181.1 L380.3,182.4 L381.0,184.0 L381.0,184.0 L379.5,183.4 L378.1,182.6 L376.9,181.6 L375.7,180.6 L374.5,179.5 L373.4,178.5 L372.5,177.0 Z" fill="#333333" fill-opacity="0.55" stroke="#d4d4d4" stroke-opacity="0.45" stroke-width="1.2"/>
<path d="M382.1,203.6 L382.2,205.2 L381.8,206.4 L381.2,207.5 L380.4,208.4 L379.7,209.3 L378.2,209.6 L376.9,210.2 L376.9,210.2 L377.1,208.8 L377.0,207.2 L377.8,206.3 L378.4,205.3 L379.4,204.5 L380.5,203.9 L382.1,203.6 Z" fill="#333333" fill-opacity="0.55" stroke="#d4d4d4" stroke-opacity="0.45" stroke-width="1.2"/>
<path d="M374.8,200.3 L375.2,202.5 L375.0,204.6 L374.9,206.7 L374.6,208.7 L374.0,210.7 L372.9,212.6 L371.7,214.5 L371.7,214.5 L371.9,212.4 L372.0,210.3 L372.4,208.3 L373.0,206.3 L373.6,204.3 L373.9,202.3 L374.8,200.3 Z" fill="#333333" fill-opacity="0.55" stroke="#d4d4d4" stroke-opacity="0.45" stroke-width="1.2"/>
<path d="M371.7,223.0 L371.2,224.8 L370.2,225.5 L369.5,226.8 L368.4,227.3 L367.0,227.3 L365.6,227.0 L364.0,226.4 L364.0,226.4 L364.9,225.4 L365.7,224.3 L366.7,223.5 L367.8,223.0 L369.2,223.2 L370.3,222.6 L371.7,223.0 Z" fill="#333333" fill-opacity="0.55" stroke="#d4d4d4" stroke-opacity="0.45" stroke-width="1.2"/>
<path d="M341.8,213.5 L344.4,212.9 L346.6,213.3 L348.9,213.5 L351.2,213.9 L353.0,215.4 L355.1,216.4 L356.8,218.4 L356.8,218.4 L354.4,218.5 L352.3,217.8 L349.9,217.7 L347.9,216.7 L345.9,215.7 L343.7,215.0 L341.8,213.5 Z" fill="#333333" fill-opacity="0.55" stroke="#d4d4d4" stroke-opacity="0.45" stroke-width="1.2"/>
<path d="M366.4,222.9 L368.0,223.3 L369.3,223.9 L370.8,224.4 L371.5,225.5 L371.9,226.9 L372.4,228.2 L372.4,229.9 L372.4,229.9 L371.0,229.4 L370.0,228.5 L368.8,227.8 L367.8,226.9 L367.4,225.5 L366.8,224.3 L366.4,222.9 Z" fill="#333333" fill-opacity="0.55" stroke="#d4d4d4" stroke-opacity="0.45" stroke-width="1.2"/>
<path d="M355.0,200.0 L356.6,200.5 L358.1,201.1 L359.5,201.9 L360.2,203.2 L361.4,204.1 L362.0,205.7 L362.4,207.3 L362.4,207.3 L360.7,206.9 L359.2,206.4 L358.2,205.2 L356.9,204.5 L356.1,203.1 L355.5,201.6 L355.0,200.0 Z" fill="#333333" fill-opacity="0.55" stroke="#d4d4d4" stroke-opacity="0.45" stroke-width="1.2"/>
<path d="M350.7,182.3 L350.8,184.1 L350.9,185.9 L350.9,187.7 L350.4,189.4 L349.7,191.0 L349.7,192.8 L348.8,194.5 L348.8,194.5 L348.0,192.6 L348.2,190.8 L347.8,189.0 L347.9,187.2 L348.6,185.6 L349.5,183.9 L350.7,182.3 Z" fill="#333333" fill-opacity="0.55" stroke="#d4d4d4" stroke-opacity="0.45" stroke-width="1.2"/>
<path d="M344.2,188.9 L346.4,188.3 L348.5,188.0 L350.5,188.3 L352.4,188.9 L354.3,189.3 L356.2,190.3 L357.9,191.8 L357.9,191.8 L355.8,191.9 L353.8,191.7 L351.9,191.2 L349.9,190.9 L347.9,190.5 L346.1,189.7 L344.2,188.9 Z" fill="#333333" fill-opacity="0.55" stroke="#d4d4d4" stroke-opacity="0.45" stroke-width="1.2"/>
<path d="M362.2,189.0 L360.8,190.7 L359.2,192.0 L357.5,193.2 L355.9,194.5 L354.0,195.4 L352.2,196.3 L350.1,197.0 L350.1,197.0 L351.4,195.2 L353.0,193.8 L354.5,192.4 L356.3,191.4 L358.1,190.4 L360.0,189.5 L362.2,189.0 Z" fill="#333333" fill-opacity="0.55" stroke="#d4d4d4" stroke-opacity="0.45" stroke-width="1.2"/>
<path d="M326.5,218.3 L327.2,219.7 L327.3,221.1 L327.6,222.4 L327.3,223.7 L326.9,225.0 L326.1,226.2 L325.3,227.5 L325.3,227.5 L325.2,226.1 L325.0,224.8 L325.1,223.4 L325.1,222.1 L325.6,220.8 L325.8,219.5 L326.5,218.3 Z" fill="#333333" fill-opacity="0.55" stroke="#d4d4d4" stroke-opacity="0.45" stroke-width="1.2"/>
<path d="M369.5,191.8 L371.1,193.4 L372.6,195.1 L374.0,196.9 L375.5,198.5 L376.9,200.3 L378.3,202.1 L379.4,204.1 L379.4,204.1 L377.4,202.8 L375.7,201.3 L374.1,199.7 L372.8,197.9 L371.4,196.1 L370.4,194.0 L369.5,191.8 Z" fill="#333333" fill-opacity="0.55" stroke="#d4d4d4" stroke-opacity="0.45" stroke-width="1.2"/>
<path d="M336.7,223.3 L338.0,223.7 L339.1,224.3 L339.7,225.1 L340.5,225.9 L341.0,226.9 L341.4,228.0 L341.4,229.4 L341.4,229.4 L340.0,229.1 L338.9,228.6 L338.0,227.9 L337.4,226.9 L336.8,226.1 L336.6,224.8 L336.7,223.3 Z" fill="#333333" fill-opacity="0.55" stroke="#d4d4d4" stroke-opacity="0.45" stroke-width="1.2"/>
<path d="M385.3,173.3 L385.4,175.3 L385.5,177.4 L385.1,179.3 L384.8,181.3 L384.0,183.2 L383.4,185.0 L382.2,186.8 L382.2,186.8 L382.0,184.7 L382.3,182.8 L382.5,180.8 L383.1,178.9 L383.5,176.9 L384.4,175.1 L385.3,173.3 Z" fill="#333333" fill-opacity="0.55" stroke="#d4d4d4" stroke-opacity="0.45" stroke-width="1.2"/>
<path d="M383.8,211.5 L382.8,212.7 L381.6,213.7 L380.5,214.8 L379.3,215.7 L378.0,216.7 L376.7,217.5 L375.2,218.1 L375.2,218.1 L376.0,216.6 L376.9,215.2 L378.0,214.1 L379.2,213.2 L380.7,212.5 L382.0,211.8 L383.8,211.5 Z" fill="#333333" fill-opacity="0.55" stroke="#d4d4d4" stroke-opacity="0.45" stroke-width="1.2"/>
<path d="M363.4,200.4 L365.5,200.9 L367.2,201.8 L369.1,202.6 L370.8,203.6 L372.0,205.3 L373.2,206.9 L374.4,208.6 L374.4,208.6 L372.1,208.4 L370.0,208.0 L367.9,207.5 L366.4,206.1 L365.3,204.4 L364.1,202.7 L363.4,200.4 Z" fill="#333333" fill-opacity="0.55" stroke="#d4d4d4" stroke-opacity="0.45" stroke-width="1.2"/>
<circle cx="330.8" cy="202.5" r="1.5" fill="none" stroke="#dadada" stroke-width="0.8" opacity="0.6"/>
<circle cx="351.8" cy="209.0" r="1.4" fill="none" stroke="#dadada" stroke-width="0.8" opacity="0.6"/>
<circle cx="363.0" cy="212.5" r="1.4" fill="none" stroke="#dadada" stroke-width="0.8" opacity="0.6"/>
</g>
<rect x="382.4" y="225.1" width="6" height="2.2" fill="#333" opacity="0.5"/>
</g>
<clipPath id="dc202"><rect x="392.2" y="176.0" width="74.0" height="53.900000000000006"/></clipPath>
<g clip-path="url(#dc202)">
<rect x="392.2" y="176.0" width="74.0" height="53.900000000000006" fill="#7a7a7a"/>
<g filter="url(#bl4)">
<ellipse cx="410.7" cy="202.9" rx="22.2" ry="27.0" fill="#707070" opacity="0.7"/>
<ellipse cx="451.4" cy="197.6" rx="18.5" ry="21.6" fill="#858585" opacity="0.8"/>
</g>
<g filter="url(#bl3)">
<path d="M446.3,197.6 L444.5,198.4 L442.8,199.3 L441.0,199.5 L439.2,199.9 L437.3,199.9 L435.5,199.7 L433.6,198.8 L433.6,198.8 L435.3,197.5 L437.0,196.8 L438.8,196.4 L440.7,196.5 L442.5,196.3 L444.4,197.0 L446.3,197.6 Z" fill="#333333" fill-opacity="0.55" stroke="#d4d4d4" stroke-opacity="0.45" stroke-width="1.2"/>
<path d="M422.2,176.9 L421.0,179.0 L419.9,181.1 L418.8,183.3 L417.0,184.8 L415.3,186.6 L414.1,188.6 L412.1,190.1 L412.1,190.1 L412.3,187.2 L413.4,185.1 L414.4,182.9 L415.4,180.7 L417.5,179.3 L419.7,178.0 L422.2,176.9 Z" fill="#333333" fill-opacity="0.55" stroke="#d4d4d4" stroke-opacity="0.45" stroke-width="1.2"/>
<path d="M389.5,187.1 L391.5,186.9 L393.2,187.6 L395.2,187.3 L396.6,188.7 L398.3,189.3 L399.6,190.6 L401.0,191.9 L401.0,191.9 L398.9,192.3 L396.9,192.7 L395.2,192.1 L393.3,192.1 L392.1,190.3 L390.6,189.2 L389.5,187.1 Z" fill="#333333" fill-opacity="0.55" stroke="#d4d4d4" stroke-opacity="0.45" stroke-width="1.2"/>
<path d="M460.0,184.6 L462.1,185.5 L463.9,186.5 L465.6,187.7 L467.5,188.8 L469.1,190.2 L470.7,191.6 L472.2,193.2 L472.2,193.2 L470.1,192.4 L468.2,191.5 L466.3,190.6 L464.7,189.2 L463.0,187.9 L461.4,186.4 L460.0,184.6 Z" fill="#333333" fill-opacity="0.55" stroke="#d4d4d4" stroke-opacity="0.45" stroke-width="1.2"/>
<path d="M453.7,207.2 L455.5,208.9 L457.2,210.7 L458.7,212.7 L460.1,214.6 L461.4,216.7 L462.2,219.1 L462.9,221.6 L462.9,221.6 L460.6,220.1 L458.5,218.6 L457.0,216.6 L455.9,214.5 L454.8,212.3 L454.2,209.8 L453.7,207.2 Z" fill="#333333" fill-opacity="0.55" stroke="#d4d4d4" stroke-opacity="0.45" stroke-width="1.2"/>
<path d="M436.5,202.5 L436.3,204.0 L436.0,205.5 L435.8,207.0 L434.9,208.2 L434.0,209.3 L433.0,210.5 L431.9,211.6 L431.9,211.6 L432.0,210.0 L432.4,208.5 L432.8,207.1 L433.2,205.7 L434.3,204.6 L435.3,203.5 L436.5,202.5 Z" fill="#333333" fill-opacity="0.55" stroke="#d4d4d4" stroke-opacity="0.45" stroke-width="1.2"/>
<path d="M434.3,172.9 L433.1,174.3 L432.1,176.0 L430.9,177.4 L429.3,178.3 L427.8,179.4 L425.9,179.9 L424.1,180.6 L424.1,180.6 L425.0,178.6 L425.8,176.7 L427.1,175.5 L428.4,174.2 L430.2,173.5 L432.3,173.2 L434.3,172.9 Z" fill="#333333" fill-opacity="0.55" stroke="#d4d4d4" stroke-opacity="0.45" stroke-width="1.2"/>
<path d="M453.8,201.8 L453.6,204.5 L453.1,207.1 L452.6,209.7 L452.4,212.4 L451.8,215.0 L451.2,217.6 L450.6,220.2 L450.6,220.2 L449.9,217.4 L449.5,214.6 L449.4,211.9 L450.1,209.3 L450.9,206.7 L452.0,204.2 L453.8,201.8 Z" fill="#333333" fill-opacity="0.55" stroke="#d4d4d4" stroke-opacity="0.45" stroke-width="1.2"/>
<path d="M427.6,198.2 L429.8,198.7 L431.8,199.7 L433.7,200.8 L435.5,201.9 L437.1,203.4 L438.8,204.8 L440.1,206.7 L440.1,206.7 L438.0,206.0 L436.2,204.8 L434.2,203.9 L432.4,202.6 L430.7,201.3 L429.0,199.9 L427.6,198.2 Z" fill="#333333" fill-opacity="0.55" stroke="#d4d4d4" stroke-opacity="0.45" stroke-width="1.2"/>
<path d="M413.0,192.9 L415.4,194.4 L417.2,196.4 L419.7,197.8 L421.2,200.0 L422.3,202.5 L423.8,204.7 L424.9,207.2 L424.9,207.2 L422.2,206.1 L420.0,204.5 L417.5,203.0 L415.6,201.2 L414.9,198.3 L413.6,195.9 L413.0,192.9 Z" fill="#333333" fill-opacity="0.55" stroke="#d4d4d4" stroke-opacity="0.45" stroke-width="1.2"/>
<path d="M428.9,234.1 L431.6,235.1 L433.9,236.6 L436.4,237.9 L438.7,239.5 L440.9,241.2 L442.9,243.3 L444.9,245.3 L444.9,245.3 L441.9,244.6 L439.0,243.9 L436.5,242.6 L434.2,241.0 L432.3,238.9 L430.3,236.9 L428.9,234.1 Z" fill="#333333" fill-opacity="0.55" stroke="#d4d4d4" stroke-opacity="0.45" stroke-width="1.2"/>
<path d="M397.6,223.9 L399.5,225.3 L401.1,226.9 L402.6,228.5 L404.1,230.2 L405.1,232.2 L406.1,234.2 L406.7,236.5 L406.7,236.5 L405.2,234.9 L403.8,233.1 L402.4,231.4 L401.3,229.5 L400.0,227.6 L398.8,225.8 L397.6,223.9 Z" fill="#333333" fill-opacity="0.55" stroke="#d4d4d4" stroke-opacity="0.45" stroke-width="1.2"/>
<path d="M417.1,219.2 L416.8,221.3 L416.7,223.5 L415.9,225.3 L414.6,226.8 L413.8,228.6 L412.2,229.9 L410.4,231.1 L410.4,231.1 L410.3,228.9 L410.6,226.7 L411.7,225.1 L412.2,223.2 L413.4,221.6 L415.3,220.4 L417.1,219.2 Z" fill="#333333" fill-opacity="0.55" stroke="#d4d4d4" stroke-opacity="0.45" stroke-width="1.2"/>
<path d="M467.0,203.6 L465.2,205.1 L463.3,205.9 L461.2,206.6 L459.3,207.4 L457.0,207.3 L454.9,207.4 L452.6,207.0 L452.6,207.0 L454.5,205.6 L456.4,204.8 L458.4,203.6 L460.5,203.5 L462.6,203.2 L464.8,203.1 L467.0,203.6 Z" fill="#333333" fill-opacity="0.55" stroke="#d4d4d4" stroke-opacity="0.45" stroke-width="1.2"/>
<path d="M433.0,186.6 L435.1,186.5 L437.1,186.7 L439.1,186.9 L441.0,187.3 L442.8,188.0 L444.6,188.9 L446.4,190.0 L446.4,190.0 L444.2,190.7 L442.1,191.1 L440.0,191.1 L438.1,190.6 L436.3,189.6 L434.6,188.4 L433.0,186.6 Z" fill="#333333" fill-opacity="0.55" stroke="#d4d4d4" stroke-opacity="0.45" stroke-width="1.2"/>
<path d="M429.9,188.6 L428.1,190.0 L426.2,190.9 L424.4,192.2 L422.5,191.9 L420.5,191.7 L418.6,190.9 L416.5,189.7 L416.5,189.7 L418.4,189.0 L420.3,188.5 L422.1,188.1 L424.0,187.5 L426.0,188.2 L427.9,188.3 L429.9,188.6 Z" fill="#333333" fill-opacity="0.55" stroke="#d4d4d4" stroke-opacity="0.45" stroke-width="1.2"/>
<path d="M438.0,218.4 L440.6,219.6 L443.2,220.9 L445.6,222.5 L448.0,224.1 L450.3,225.7 L452.3,227.9 L454.2,230.2 L454.2,230.2 L451.5,229.0 L448.8,227.8 L446.6,226.0 L444.4,224.2 L442.1,222.5 L440.0,220.5 L438.0,218.4 Z" fill="#333333" fill-opacity="0.55" stroke="#d4d4d4" stroke-opacity="0.45" stroke-width="1.2"/>
<path d="M397.9,170.5 L398.5,173.8 L398.8,177.1 L398.4,180.2 L398.1,183.4 L397.3,186.5 L396.4,189.6 L394.5,192.6 L394.5,192.6 L393.9,189.2 L394.2,186.1 L394.5,182.9 L395.2,179.7 L395.6,176.6 L396.7,173.5 L397.9,170.5 Z" fill="#333333" fill-opacity="0.55" stroke="#d4d4d4" stroke-opacity="0.45" stroke-width="1.2"/>
<path d="M374.1,205.7 L375.8,208.8 L377.7,211.9 L378.2,215.2 L378.9,218.6 L379.5,221.9 L379.8,225.4 L379.4,229.0 L379.4,229.0 L377.4,225.9 L376.1,222.7 L375.3,219.4 L374.4,216.1 L373.5,212.8 L373.9,209.2 L374.1,205.7 Z" fill="#333333" fill-opacity="0.55" stroke="#d4d4d4" stroke-opacity="0.45" stroke-width="1.2"/>
<path d="M411.0,186.3 L413.0,188.3 L414.2,190.8 L416.4,192.8 L417.7,195.3 L418.0,198.2 L419.1,200.7 L420.0,203.4 L420.0,203.4 L417.6,201.5 L415.7,199.4 L413.3,197.6 L411.9,195.1 L411.8,192.1 L410.9,189.5 L411.0,186.3 Z" fill="#333333" fill-opacity="0.55" stroke="#d4d4d4" stroke-opacity="0.45" stroke-width="1.2"/>
<path d="M461.2,186.6 L458.2,188.2 L455.0,189.6 L451.9,190.9 L448.7,192.1 L445.6,193.6 L442.3,194.6 L439.1,195.9 L439.1,195.9 L442.0,193.9 L444.9,191.9 L448.0,190.6 L451.1,189.1 L454.4,188.0 L457.7,187.0 L461.2,186.6 Z" fill="#333333" fill-opacity="0.55" stroke="#d4d4d4" stroke-opacity="0.45" stroke-width="1.2"/>
<path d="M404.7,195.2 L402.5,196.6 L400.1,197.5 L397.9,199.2 L395.3,199.5 L392.7,199.5 L390.2,199.8 L387.5,199.6 L387.5,199.6 L389.7,197.8 L392.0,196.6 L394.3,195.3 L396.6,194.3 L399.4,194.9 L402.0,194.6 L404.7,195.2 Z" fill="#333333" fill-opacity="0.55" stroke="#d4d4d4" stroke-opacity="0.45" stroke-width="1.2"/>
<path d="M464.9,193.8 L464.2,195.8 L463.3,197.3 L461.9,198.2 L460.8,199.5 L459.2,200.0 L457.4,200.3 L455.4,200.3 L455.4,200.3 L456.5,199.0 L457.7,197.8 L458.8,196.5 L460.4,196.0 L461.6,194.9 L463.1,194.2 L464.9,193.8 Z" fill="#333333" fill-opacity="0.55" stroke="#d4d4d4" stroke-opacity="0.45" stroke-width="1.2"/>
<path d="M458.8,199.3 L459.5,201.4 L459.7,203.6 L460.1,205.8 L460.3,208.0 L460.6,210.2 L460.5,212.4 L460.1,214.7 L460.1,214.7 L459.0,212.5 L458.3,210.4 L458.1,208.2 L457.9,206.0 L458.1,203.8 L458.2,201.5 L458.8,199.3 Z" fill="#333333" fill-opacity="0.55" stroke="#d4d4d4" stroke-opacity="0.45" stroke-width="1.2"/>
<path d="M412.3,211.6 L411.6,214.1 L410.8,216.2 L409.1,217.6 L407.8,219.3 L405.8,220.3 L403.8,221.3 L401.4,221.8 L401.4,221.8 L402.3,219.7 L403.6,218.0 L404.9,216.2 L406.6,215.0 L408.0,213.3 L410.1,212.4 L412.3,211.6 Z" fill="#333333" fill-opacity="0.55" stroke="#d4d4d4" stroke-opacity="0.45" stroke-width="1.2"/>
<path d="M419.0,200.7 L417.7,202.4 L416.4,203.6 L414.9,204.0 L413.4,204.4 L411.8,203.9 L410.1,203.3 L408.5,202.5 L408.5,202.5 L409.9,201.7 L411.3,200.9 L412.7,200.1 L414.2,200.0 L415.7,199.7 L417.3,200.1 L419.0,200.7 Z" fill="#333333" fill-opacity="0.55" stroke="#d4d4d4" stroke-opacity="0.45" stroke-width="1.2"/>
<path d="M422.7,174.5 L423.7,176.9 L423.6,179.2 L424.4,181.5 L424.0,183.8 L423.8,186.1 L422.7,188.3 L421.3,190.5 L421.3,190.5 L420.3,188.1 L419.6,185.7 L419.7,183.4 L419.8,181.1 L421.0,178.9 L421.3,176.7 L422.7,174.5 Z" fill="#333333" fill-opacity="0.55" stroke="#d4d4d4" stroke-opacity="0.45" stroke-width="1.2"/>
<path d="M429.3,184.1 L427.4,186.8 L425.3,189.3 L423.3,191.9 L421.1,194.4 L418.8,196.7 L416.9,199.4 L414.8,201.9 L414.8,201.9 L415.7,198.5 L417.3,195.5 L418.7,192.4 L420.8,189.8 L423.3,187.6 L426.0,185.7 L429.3,184.1 Z" fill="#333333" fill-opacity="0.55" stroke="#d4d4d4" stroke-opacity="0.45" stroke-width="1.2"/>
<path d="M406.2,210.5 L403.5,211.3 L400.8,211.7 L398.1,212.2 L395.4,212.5 L392.6,212.7 L389.8,212.5 L387.1,212.4 L387.1,212.4 L389.7,211.5 L392.4,210.6 L395.1,210.2 L397.8,209.9 L400.6,210.0 L403.4,210.0 L406.2,210.5 Z" fill="#333333" fill-opacity="0.55" stroke="#d4d4d4" stroke-opacity="0.45" stroke-width="1.2"/>
<path d="M442.8,212.0 L442.8,213.9 L442.8,215.8 L442.0,217.4 L441.5,219.1 L440.9,220.8 L439.7,222.3 L438.6,223.8 L438.6,223.8 L438.8,221.9 L438.9,220.1 L439.6,218.4 L440.3,216.8 L440.7,215.0 L441.8,213.5 L442.8,212.0 Z" fill="#333333" fill-opacity="0.55" stroke="#d4d4d4" stroke-opacity="0.45" stroke-width="1.2"/>
<circle cx="419.6" cy="221.0" r="2.0" fill="none" stroke="#dadada" stroke-width="0.8" opacity="0.6"/>
</g>
<rect x="457.2" y="225.1" width="6" height="2.2" fill="#333" opacity="0.5"/>
</g>
<clipPath id="dc203"><rect x="467.2" y="176.0" width="74.19999999999999" height="53.900000000000006"/></clipPath>
<g clip-path="url(#dc203)">
<rect x="467.2" y="176.0" width="74.19999999999999" height="53.900000000000006" fill="#808080"/>
<g filter="url(#bl4)">
<ellipse cx="504.3" cy="202.9" rx="22.3" ry="21.6" fill="#888" opacity="0.8"/>
</g>
<g filter="url(#bl3)">
<path d="M536.6,181.2 L535.4,183.1 L533.8,184.5 L532.1,185.5 L530.7,187.1 L528.6,187.4 L526.7,188.2 L524.6,188.5 L524.6,188.5 L525.9,186.8 L527.5,185.6 L528.9,184.0 L530.9,183.5 L532.6,182.4 L534.4,181.6 L536.6,181.2 Z" fill="#333333" fill-opacity="0.55" stroke="#d4d4d4" stroke-opacity="0.45" stroke-width="1.2"/>
<path d="M534.1,183.4 L532.6,184.2 L531.0,184.6 L529.5,185.4 L527.9,185.7 L526.3,185.8 L524.6,185.6 L522.9,185.5 L522.9,185.5 L524.4,184.7 L525.9,183.9 L527.5,183.3 L529.1,183.0 L530.8,183.3 L532.4,183.1 L534.1,183.4 Z" fill="#333333" fill-opacity="0.55" stroke="#d4d4d4" stroke-opacity="0.45" stroke-width="1.2"/>
<path d="M537.7,190.8 L536.4,191.3 L535.0,192.1 L533.6,192.1 L532.3,192.8 L530.7,192.5 L529.3,192.6 L527.8,192.5 L527.8,192.5 L529.1,191.5 L530.5,190.9 L531.8,190.0 L533.3,190.2 L534.6,189.8 L536.2,190.4 L537.7,190.8 Z" fill="#333333" fill-opacity="0.55" stroke="#d4d4d4" stroke-opacity="0.45" stroke-width="1.2"/>
<path d="M517.6,202.3 L517.9,204.2 L517.8,205.8 L517.4,207.4 L516.7,208.7 L515.8,210.0 L514.5,211.1 L513.0,212.1 L513.0,212.1 L512.7,210.3 L512.7,208.6 L513.1,207.0 L513.7,205.6 L514.7,204.4 L515.9,203.3 L517.6,202.3 Z" fill="#333333" fill-opacity="0.55" stroke="#d4d4d4" stroke-opacity="0.45" stroke-width="1.2"/>
<path d="M528.1,173.7 L529.3,174.5 L530.3,175.5 L531.3,176.4 L531.9,177.6 L532.9,178.6 L533.4,179.9 L534.1,181.1 L534.1,181.1 L532.8,180.5 L531.3,179.9 L530.5,178.8 L529.4,177.9 L528.8,176.6 L528.3,175.3 L528.1,173.7 Z" fill="#333333" fill-opacity="0.55" stroke="#d4d4d4" stroke-opacity="0.45" stroke-width="1.2"/>
<path d="M505.4,195.0 L504.1,195.9 L502.9,196.4 L501.6,196.8 L500.3,197.0 L499.0,197.0 L497.6,196.5 L496.2,195.8 L496.2,195.8 L497.5,195.3 L498.8,195.0 L500.1,194.9 L501.4,195.0 L502.7,195.0 L504.0,194.8 L505.4,195.0 Z" fill="#333333" fill-opacity="0.55" stroke="#d4d4d4" stroke-opacity="0.45" stroke-width="1.2"/>
<path d="M516.5,192.4 L516.7,194.4 L516.4,196.4 L516.5,198.4 L515.9,200.3 L515.6,202.3 L515.2,204.2 L514.8,206.2 L514.8,206.2 L514.1,204.1 L513.6,202.0 L513.5,200.0 L513.5,198.0 L514.3,196.1 L515.0,194.2 L516.5,192.4 Z" fill="#333333" fill-opacity="0.55" stroke="#d4d4d4" stroke-opacity="0.45" stroke-width="1.2"/>
<path d="M516.2,211.1 L515.3,212.2 L514.5,213.4 L513.3,213.4 L512.3,213.8 L511.2,214.0 L510.0,213.8 L508.6,213.1 L508.6,213.1 L509.5,212.0 L510.5,211.3 L511.5,211.0 L512.6,210.8 L513.6,210.2 L514.9,210.7 L516.2,211.1 Z" fill="#333333" fill-opacity="0.55" stroke="#d4d4d4" stroke-opacity="0.45" stroke-width="1.2"/>
<path d="M516.6,207.6 L517.2,208.5 L517.9,209.4 L518.1,210.4 L518.4,211.4 L518.6,212.4 L518.7,213.5 L518.5,214.6 L518.5,214.6 L517.7,213.8 L517.1,212.9 L516.8,211.9 L516.4,210.9 L516.1,209.9 L516.4,208.7 L516.6,207.6 Z" fill="#333333" fill-opacity="0.55" stroke="#d4d4d4" stroke-opacity="0.45" stroke-width="1.2"/>
<path d="M509.3,204.0 L508.0,204.7 L506.6,205.3 L505.3,206.0 L503.8,206.3 L502.4,206.4 L500.8,206.1 L499.3,206.0 L499.3,206.0 L500.7,205.3 L502.0,204.4 L503.4,203.9 L504.8,203.5 L506.3,203.7 L507.8,203.8 L509.3,204.0 Z" fill="#333333" fill-opacity="0.55" stroke="#d4d4d4" stroke-opacity="0.45" stroke-width="1.2"/>
<path d="M490.0,189.1 L492.0,190.2 L493.8,191.5 L495.6,192.9 L497.0,194.5 L498.2,196.3 L499.4,198.2 L500.2,200.4 L500.2,200.4 L498.3,199.2 L496.7,197.7 L495.1,196.3 L493.6,194.7 L492.4,192.9 L491.1,191.1 L490.0,189.1 Z" fill="#333333" fill-opacity="0.55" stroke="#d4d4d4" stroke-opacity="0.45" stroke-width="1.2"/>
<path d="M535.9,189.3 L537.2,190.1 L538.5,191.0 L540.0,191.7 L540.8,193.0 L541.5,194.3 L542.3,195.7 L542.9,197.1 L542.9,197.1 L541.1,196.7 L539.6,196.0 L538.2,195.3 L536.9,194.4 L536.6,192.7 L536.2,191.1 L535.9,189.3 Z" fill="#333333" fill-opacity="0.55" stroke="#d4d4d4" stroke-opacity="0.45" stroke-width="1.2"/>
<path d="M479.0,213.0 L478.5,214.3 L477.7,215.4 L476.9,216.4 L475.8,217.1 L474.9,218.0 L473.6,218.6 L472.4,219.2 L472.4,219.2 L473.1,218.0 L473.8,216.8 L474.7,216.0 L475.5,214.9 L476.6,214.2 L477.7,213.5 L479.0,213.0 Z" fill="#333333" fill-opacity="0.55" stroke="#d4d4d4" stroke-opacity="0.45" stroke-width="1.2"/>
<path d="M508.1,200.2 L510.4,200.1 L512.4,200.9 L514.6,201.2 L516.7,201.7 L518.7,202.7 L520.6,203.7 L522.6,204.8 L522.6,204.8 L520.1,205.4 L517.8,205.5 L515.5,205.5 L513.5,204.8 L511.6,203.5 L509.7,202.4 L508.1,200.2 Z" fill="#333333" fill-opacity="0.55" stroke="#d4d4d4" stroke-opacity="0.45" stroke-width="1.2"/>
<path d="M488.7,176.0 L487.7,177.5 L486.5,178.6 L484.9,178.9 L483.4,179.5 L482.1,180.4 L480.6,181.0 L478.8,180.8 L478.8,180.8 L479.6,178.8 L480.8,177.6 L482.2,176.9 L483.6,176.2 L484.9,175.3 L486.7,175.3 L488.7,176.0 Z" fill="#333333" fill-opacity="0.55" stroke="#d4d4d4" stroke-opacity="0.45" stroke-width="1.2"/>
<path d="M534.7,178.5 L535.6,179.5 L536.4,180.4 L536.7,181.7 L537.3,182.8 L538.0,183.8 L538.2,185.0 L538.6,186.3 L538.6,186.3 L537.4,185.4 L536.3,184.6 L535.8,183.5 L535.3,182.4 L534.5,181.4 L534.6,180.0 L534.7,178.5 Z" fill="#333333" fill-opacity="0.55" stroke="#d4d4d4" stroke-opacity="0.45" stroke-width="1.2"/>
<path d="M537.9,180.0 L537.3,181.2 L536.5,182.0 L535.7,183.0 L534.9,183.9 L533.9,184.5 L532.6,184.8 L531.3,185.0 L531.3,185.0 L532.0,184.0 L532.7,183.0 L533.6,182.2 L534.7,181.6 L535.8,181.1 L536.7,180.4 L537.9,180.0 Z" fill="#333333" fill-opacity="0.55" stroke="#d4d4d4" stroke-opacity="0.45" stroke-width="1.2"/>
<path d="M510.4,202.0 L510.9,204.0 L510.9,205.8 L510.2,207.3 L509.6,208.8 L509.0,210.3 L507.3,211.3 L505.6,212.3 L505.6,212.3 L505.6,210.5 L505.5,208.7 L506.3,207.3 L507.0,205.8 L507.6,204.3 L508.9,203.1 L510.4,202.0 Z" fill="#333333" fill-opacity="0.55" stroke="#d4d4d4" stroke-opacity="0.45" stroke-width="1.2"/>
<path d="M536.4,178.0 L536.9,179.8 L537.7,181.7 L538.0,183.6 L538.5,185.5 L539.0,187.3 L539.1,189.3 L539.3,191.2 L539.3,191.2 L538.0,189.5 L536.8,187.8 L536.3,185.9 L535.9,184.0 L535.6,182.1 L536.0,180.0 L536.4,178.0 Z" fill="#333333" fill-opacity="0.55" stroke="#d4d4d4" stroke-opacity="0.45" stroke-width="1.2"/>
<path d="M532.7,179.1 L531.2,180.9 L529.6,182.5 L527.6,183.2 L525.7,184.2 L523.7,185.0 L521.5,185.2 L519.1,185.0 L519.1,185.0 L520.9,183.7 L522.7,182.6 L524.7,181.9 L526.7,181.2 L528.5,180.0 L530.6,179.6 L532.7,179.1 Z" fill="#333333" fill-opacity="0.55" stroke="#d4d4d4" stroke-opacity="0.45" stroke-width="1.2"/>
<path d="M537.9,186.5 L539.6,187.5 L541.1,188.8 L542.2,190.2 L543.4,191.6 L544.2,193.3 L544.9,195.1 L545.3,197.1 L545.3,197.1 L544.0,195.8 L542.9,194.3 L541.8,192.8 L540.8,191.2 L539.7,189.7 L538.7,188.1 L537.9,186.5 Z" fill="#333333" fill-opacity="0.55" stroke="#d4d4d4" stroke-opacity="0.45" stroke-width="1.2"/>
<path d="M521.3,205.3 L521.2,207.4 L521.2,209.5 L520.2,211.3 L519.6,213.1 L518.9,215.0 L517.6,216.6 L516.0,218.1 L516.0,218.1 L516.2,216.0 L516.5,214.0 L517.4,212.2 L518.2,210.5 L518.7,208.5 L520.0,206.9 L521.3,205.3 Z" fill="#333333" fill-opacity="0.55" stroke="#d4d4d4" stroke-opacity="0.45" stroke-width="1.2"/>
<path d="M548.2,176.5 L549.0,177.8 L549.1,179.0 L548.8,180.1 L549.2,181.4 L548.6,182.5 L547.9,183.5 L547.0,184.6 L547.0,184.6 L546.2,183.3 L545.6,182.0 L545.3,180.8 L546.0,179.7 L546.2,178.5 L546.8,177.5 L548.2,176.5 Z" fill="#333333" fill-opacity="0.55" stroke="#d4d4d4" stroke-opacity="0.45" stroke-width="1.2"/>
<path d="M534.8,202.4 L534.5,204.4 L534.2,206.4 L533.5,208.3 L533.0,210.2 L532.1,212.0 L531.0,213.7 L529.9,215.4 L529.9,215.4 L530.2,213.4 L530.3,211.3 L530.9,209.4 L531.7,207.6 L532.4,205.8 L533.6,204.0 L534.8,202.4 Z" fill="#333333" fill-opacity="0.55" stroke="#d4d4d4" stroke-opacity="0.45" stroke-width="1.2"/>
<path d="M509.5,195.9 L511.0,196.7 L511.7,197.8 L513.1,198.7 L513.3,200.2 L513.8,201.5 L514.2,202.9 L514.1,204.5 L514.1,204.5 L512.6,203.7 L511.5,202.7 L510.6,201.6 L509.5,200.6 L509.6,199.0 L509.2,197.6 L509.5,195.9 Z" fill="#333333" fill-opacity="0.55" stroke="#d4d4d4" stroke-opacity="0.45" stroke-width="1.2"/>
<path d="M482.8,216.6 L481.7,218.6 L480.3,220.2 L478.8,221.7 L477.1,223.1 L475.2,223.9 L473.3,225.0 L471.0,225.3 L471.0,225.3 L472.2,223.5 L473.9,222.3 L475.4,220.7 L477.1,219.6 L478.9,218.5 L480.7,217.4 L482.8,216.6 Z" fill="#333333" fill-opacity="0.55" stroke="#d4d4d4" stroke-opacity="0.45" stroke-width="1.2"/>
<path d="M511.6,201.2 L511.3,202.4 L510.5,203.1 L509.9,204.0 L509.1,204.8 L508.6,205.8 L507.6,206.3 L506.4,206.7 L506.4,206.7 L506.5,205.3 L506.8,204.1 L507.7,203.5 L508.4,202.6 L509.3,202.0 L510.2,201.3 L511.6,201.2 Z" fill="#333333" fill-opacity="0.55" stroke="#d4d4d4" stroke-opacity="0.45" stroke-width="1.2"/>
<path d="M486.9,180.8 L488.7,181.0 L490.0,181.8 L491.7,182.1 L492.8,183.3 L493.9,184.4 L494.8,185.7 L495.5,187.4 L495.5,187.4 L493.5,187.5 L491.9,187.0 L490.5,186.2 L489.1,185.5 L488.4,183.9 L487.4,182.7 L486.9,180.8 Z" fill="#333333" fill-opacity="0.55" stroke="#d4d4d4" stroke-opacity="0.45" stroke-width="1.2"/>
<path d="M471.6,173.8 L473.9,173.7 L476.1,173.6 L478.0,174.8 L480.2,174.9 L482.3,175.3 L484.2,176.7 L486.1,177.7 L486.1,177.7 L483.7,178.3 L481.3,179.1 L479.2,178.5 L477.3,177.5 L475.1,177.3 L473.3,175.7 L471.6,173.8 Z" fill="#333333" fill-opacity="0.55" stroke="#d4d4d4" stroke-opacity="0.45" stroke-width="1.2"/>
<path d="M512.6,210.6 L512.9,211.9 L513.1,213.2 L513.4,214.4 L513.2,215.7 L513.5,216.9 L513.3,218.2 L512.9,219.5 L512.9,219.5 L512.2,218.3 L511.6,217.0 L511.7,215.7 L511.4,214.5 L511.7,213.2 L512.1,211.9 L512.6,210.6 Z" fill="#333333" fill-opacity="0.55" stroke="#d4d4d4" stroke-opacity="0.45" stroke-width="1.2"/>
<path d="M514.4,189.4 L512.4,190.6 L510.5,191.8 L508.4,192.5 L506.2,192.7 L504.1,193.1 L501.9,193.0 L499.6,192.5 L499.6,192.5 L501.6,191.7 L503.7,191.0 L505.8,190.7 L507.9,190.0 L510.0,189.6 L512.2,189.6 L514.4,189.4 Z" fill="#333333" fill-opacity="0.55" stroke="#d4d4d4" stroke-opacity="0.45" stroke-width="1.2"/>
<path d="M508.7,173.4 L509.6,174.6 L509.8,175.6 L510.1,176.7 L510.1,177.8 L509.7,178.8 L509.0,179.7 L507.8,180.6 L507.8,180.6 L507.2,179.5 L507.1,178.4 L507.1,177.4 L507.4,176.4 L507.8,175.4 L508.0,174.4 L508.7,173.4 Z" fill="#333333" fill-opacity="0.55" stroke="#d4d4d4" stroke-opacity="0.45" stroke-width="1.2"/>
<path d="M477.6,178.7 L479.2,179.0 L480.6,179.6 L482.1,180.0 L483.4,180.7 L484.5,181.9 L485.7,182.8 L486.7,184.1 L486.7,184.1 L485.2,183.8 L483.8,183.0 L482.3,182.7 L481.0,181.9 L479.9,180.7 L478.6,179.9 L477.6,178.7 Z" fill="#333333" fill-opacity="0.55" stroke="#d4d4d4" stroke-opacity="0.45" stroke-width="1.2"/>
<path d="M529.6,187.1 L531.6,187.5 L533.4,188.4 L535.2,189.1 L537.1,189.7 L538.6,191.1 L540.2,192.2 L541.4,193.9 L541.4,193.9 L539.0,194.3 L537.0,193.9 L534.9,193.5 L533.4,192.2 L532.0,190.8 L530.6,189.2 L529.6,187.1 Z" fill="#333333" fill-opacity="0.55" stroke="#d4d4d4" stroke-opacity="0.45" stroke-width="1.2"/>
<path d="M500.8,210.6 L501.6,211.8 L502.1,213.0 L502.5,214.2 L503.0,215.4 L502.6,216.7 L501.6,217.9 L500.7,219.1 L500.7,219.1 L499.9,217.8 L498.9,216.6 L498.7,215.4 L499.2,214.2 L499.6,213.0 L500.0,211.8 L500.8,210.6 Z" fill="#333333" fill-opacity="0.55" stroke="#d4d4d4" stroke-opacity="0.45" stroke-width="1.2"/>
<path d="M501.0,189.5 L500.9,191.6 L500.4,193.5 L500.0,195.5 L499.3,197.3 L497.9,198.8 L496.8,200.4 L495.2,201.9 L495.2,201.9 L495.7,200.0 L496.5,198.2 L497.0,196.2 L497.8,194.5 L499.0,192.9 L499.9,191.1 L501.0,189.5 Z" fill="#333333" fill-opacity="0.55" stroke="#d4d4d4" stroke-opacity="0.45" stroke-width="1.2"/>
<path d="M502.7,214.9 L503.7,217.0 L504.5,219.1 L504.7,221.3 L505.1,223.5 L505.4,225.7 L504.9,228.0 L504.5,230.2 L504.5,230.2 L503.9,228.1 L503.2,226.0 L503.0,223.8 L502.9,221.6 L502.5,219.4 L502.5,217.2 L502.7,214.9 Z" fill="#333333" fill-opacity="0.55" stroke="#d4d4d4" stroke-opacity="0.45" stroke-width="1.2"/>
<path d="M535.0,183.4 L535.3,184.5 L535.5,185.6 L536.0,186.8 L535.8,187.9 L535.1,188.8 L534.7,189.9 L533.9,190.8 L533.9,190.8 L533.0,189.6 L532.7,188.5 L532.2,187.3 L532.4,186.2 L533.3,185.3 L534.1,184.3 L535.0,183.4 Z" fill="#333333" fill-opacity="0.55" stroke="#d4d4d4" stroke-opacity="0.45" stroke-width="1.2"/>
<path d="M469.8,199.2 L470.3,200.3 L470.1,201.3 L470.1,202.3 L470.2,203.3 L470.1,204.3 L469.7,205.3 L469.3,206.3 L469.3,206.3 L468.7,205.2 L468.1,204.2 L468.0,203.2 L468.3,202.2 L468.6,201.2 L468.8,200.2 L469.8,199.2 Z" fill="#333333" fill-opacity="0.55" stroke="#d4d4d4" stroke-opacity="0.45" stroke-width="1.2"/>
<path d="M542.9,180.4 L544.1,182.0 L544.4,183.7 L545.1,185.3 L545.4,186.9 L544.4,188.6 L543.8,190.2 L542.9,191.8 L542.9,191.8 L542.5,190.2 L542.3,188.6 L541.6,186.9 L541.8,185.3 L542.3,183.7 L542.3,182.0 L542.9,180.4 Z" fill="#333333" fill-opacity="0.55" stroke="#d4d4d4" stroke-opacity="0.45" stroke-width="1.2"/>
<path d="M496.4,204.4 L498.5,205.1 L500.5,205.9 L502.6,206.7 L504.6,207.6 L506.4,208.9 L508.4,209.8 L510.3,210.8 L510.3,210.8 L507.9,210.8 L505.7,210.3 L503.4,210.0 L501.5,209.1 L499.7,207.8 L497.9,206.3 L496.4,204.4 Z" fill="#333333" fill-opacity="0.55" stroke="#d4d4d4" stroke-opacity="0.45" stroke-width="1.2"/>
<path d="M496.4,212.6 L495.1,213.0 L493.7,213.3 L492.4,213.3 L491.1,213.4 L489.7,213.3 L488.4,213.1 L487.0,212.6 L487.0,212.6 L488.4,211.6 L489.7,211.0 L491.0,210.7 L492.4,210.8 L493.7,211.0 L495.1,211.6 L496.4,212.6 Z" fill="#333333" fill-opacity="0.55" stroke="#d4d4d4" stroke-opacity="0.45" stroke-width="1.2"/>
<path d="M521.7,178.5 L521.6,179.8 L521.4,181.0 L521.2,182.2 L520.5,182.9 L519.4,183.3 L518.2,183.5 L516.7,183.5 L516.7,183.5 L517.0,182.3 L517.4,181.3 L517.8,180.3 L518.5,179.6 L519.6,179.3 L520.6,178.8 L521.7,178.5 Z" fill="#333333" fill-opacity="0.55" stroke="#d4d4d4" stroke-opacity="0.45" stroke-width="1.2"/>
<path d="M509.7,201.2 L509.1,203.2 L508.5,205.2 L507.5,207.0 L505.9,208.2 L504.8,210.0 L502.9,211.0 L501.2,212.2 L501.2,212.2 L501.7,210.0 L502.0,207.8 L503.3,206.3 L504.1,204.4 L505.7,203.0 L507.6,202.1 L509.7,201.2 Z" fill="#333333" fill-opacity="0.55" stroke="#d4d4d4" stroke-opacity="0.45" stroke-width="1.2"/>
<path d="M545.8,207.5 L544.8,209.0 L543.6,210.1 L542.0,210.4 L540.7,211.1 L539.4,212.0 L537.8,212.0 L536.0,211.9 L536.0,211.9 L536.9,210.2 L538.0,208.9 L539.5,208.5 L541.0,208.0 L542.2,207.0 L543.9,207.1 L545.8,207.5 Z" fill="#333333" fill-opacity="0.55" stroke="#d4d4d4" stroke-opacity="0.45" stroke-width="1.2"/>
<path d="M507.9,198.1 L509.1,198.9 L510.3,199.8 L511.3,200.7 L511.7,202.1 L512.5,203.2 L512.9,204.6 L513.2,206.0 L513.2,206.0 L511.9,205.2 L510.9,204.3 L510.1,203.1 L509.0,202.3 L508.5,201.0 L508.1,199.6 L507.9,198.1 Z" fill="#333333" fill-opacity="0.55" stroke="#d4d4d4" stroke-opacity="0.45" stroke-width="1.2"/>
<circle cx="535.8" cy="182.8" r="2.0" fill="none" stroke="#dadada" stroke-width="0.8" opacity="0.6"/>
<circle cx="512.7" cy="221.1" r="1.6" fill="none" stroke="#dadada" stroke-width="0.8" opacity="0.6"/>
<circle cx="528.8" cy="190.9" r="1.6" fill="none" stroke="#dadada" stroke-width="0.8" opacity="0.6"/>
<circle cx="543.8" cy="181.2" r="2.0" fill="none" stroke="#dadada" stroke-width="0.8" opacity="0.6"/>
<circle cx="542.9" cy="182.3" r="1.9" fill="none" stroke="#dadada" stroke-width="0.8" opacity="0.6"/>
</g>
<rect x="532.4" y="225.1" width="6" height="2.2" fill="#333" opacity="0.5"/>
</g>
<text x="11.20" y="243.05" font-size="10.0" text-anchor="start" font-weight="bold" fill="#000" textLength="5.70" lengthAdjust="spacingAndGlyphs">E</text>
<line x1="50.80" y1="245.00" x2="50.80" y2="353.80" stroke="#444" stroke-width="0.9"/>
<line x1="50.80" y1="353.80" x2="231.20" y2="353.80" stroke="#444" stroke-width="0.9"/>
<line x1="47.00" y1="245.00" x2="50.80" y2="245.00" stroke="#444" stroke-width="0.8"/>
<text x="44.00" y="247.99" font-size="8.3" text-anchor="end" font-weight="bold" fill="#111" textLength="20.00" lengthAdjust="spacingAndGlyphs">9000</text>
<line x1="47.00" y1="281.00" x2="50.80" y2="281.00" stroke="#444" stroke-width="0.8"/>
<text x="44.00" y="283.99" font-size="8.3" text-anchor="end" font-weight="bold" fill="#111" textLength="20.00" lengthAdjust="spacingAndGlyphs">6000</text>
<line x1="47.00" y1="317.40" x2="50.80" y2="317.40" stroke="#444" stroke-width="0.8"/>
<text x="44.00" y="320.39" font-size="8.3" text-anchor="end" font-weight="bold" fill="#111" textLength="20.00" lengthAdjust="spacingAndGlyphs">3000</text>
<line x1="47.00" y1="353.80" x2="50.80" y2="353.80" stroke="#444" stroke-width="0.8"/>
<text x="44.00" y="356.79" font-size="8.3" text-anchor="end" font-weight="bold" fill="#111" textLength="5.00" lengthAdjust="spacingAndGlyphs">0</text>
<line x1="50.80" y1="353.80" x2="50.80" y2="357.00" stroke="#444" stroke-width="0.8"/>
<text x="50.80" y="368.29" font-size="8.3" text-anchor="middle" font-weight="bold" fill="#111" textLength="5.00" lengthAdjust="spacingAndGlyphs">0</text>
<line x1="95.90" y1="353.80" x2="95.90" y2="357.00" stroke="#444" stroke-width="0.8"/>
<text x="95.90" y="368.29" font-size="8.3" text-anchor="middle" font-weight="bold" fill="#111" textLength="10.00" lengthAdjust="spacingAndGlyphs">24</text>
<line x1="141.00" y1="353.80" x2="141.00" y2="357.00" stroke="#444" stroke-width="0.8"/>
<text x="141.00" y="368.29" font-size="8.3" text-anchor="middle" font-weight="bold" fill="#111" textLength="10.00" lengthAdjust="spacingAndGlyphs">48</text>
<line x1="186.10" y1="353.80" x2="186.10" y2="357.00" stroke="#444" stroke-width="0.8"/>
<text x="186.10" y="368.29" font-size="8.3" text-anchor="middle" font-weight="bold" fill="#111" textLength="10.00" lengthAdjust="spacingAndGlyphs">72</text>
<line x1="231.20" y1="353.80" x2="231.20" y2="357.00" stroke="#444" stroke-width="0.8"/>
<text x="231.20" y="368.29" font-size="8.3" text-anchor="middle" font-weight="bold" fill="#111" textLength="10.00" lengthAdjust="spacingAndGlyphs">96</text>
<text x="0" y="3.02" font-size="8.4" text-anchor="middle" font-weight="bold" fill="#111" textLength="80.50" lengthAdjust="spacingAndGlyphs" transform="translate(15.70,299.00) rotate(-90)">Fluorescence units</text>
<text x="145.20" y="381.02" font-size="8.4" text-anchor="middle" font-weight="bold" fill="#111" textLength="62.00" lengthAdjust="spacingAndGlyphs">Time (hours)</text>
<line x1="95.90" y1="330.00" x2="95.90" y2="345.00" stroke="#7f8db0" stroke-width="0.5"/>
<line x1="94.70" y1="330.00" x2="97.10" y2="330.00" stroke="#7f8db0" stroke-width="0.5"/>
<line x1="94.70" y1="345.00" x2="97.10" y2="345.00" stroke="#7f8db0" stroke-width="0.5"/>
<line x1="141.00" y1="304.60" x2="141.00" y2="331.00" stroke="#7f8db0" stroke-width="0.5"/>
<line x1="139.80" y1="304.60" x2="142.20" y2="304.60" stroke="#7f8db0" stroke-width="0.5"/>
<line x1="139.80" y1="331.00" x2="142.20" y2="331.00" stroke="#7f8db0" stroke-width="0.5"/>
<line x1="186.10" y1="268.60" x2="186.10" y2="287.60" stroke="#7f8db0" stroke-width="0.5"/>
<line x1="184.90" y1="268.60" x2="187.30" y2="268.60" stroke="#7f8db0" stroke-width="0.5"/>
<line x1="184.90" y1="287.60" x2="187.30" y2="287.60" stroke="#7f8db0" stroke-width="0.5"/>
<line x1="231.20" y1="254.50" x2="231.20" y2="292.00" stroke="#7f8db0" stroke-width="0.5"/>
<line x1="230.00" y1="254.50" x2="232.40" y2="254.50" stroke="#7f8db0" stroke-width="0.5"/>
<line x1="230.00" y1="292.00" x2="232.40" y2="292.00" stroke="#7f8db0" stroke-width="0.5"/>
<line x1="50.80" y1="343.00" x2="50.80" y2="351.00" stroke="#5aa590" stroke-width="0.5"/>
<line x1="49.60" y1="343.00" x2="52.00" y2="343.00" stroke="#5aa590" stroke-width="0.5"/>
<line x1="49.60" y1="351.00" x2="52.00" y2="351.00" stroke="#5aa590" stroke-width="0.5"/>
<line x1="186.10" y1="296.00" x2="186.10" y2="306.00" stroke="#5aa590" stroke-width="0.5"/>
<line x1="184.90" y1="296.00" x2="187.30" y2="296.00" stroke="#5aa590" stroke-width="0.5"/>
<line x1="184.90" y1="306.00" x2="187.30" y2="306.00" stroke="#5aa590" stroke-width="0.5"/>
<line x1="231.20" y1="283.00" x2="231.20" y2="293.00" stroke="#5aa590" stroke-width="0.5"/>
<line x1="230.00" y1="283.00" x2="232.40" y2="283.00" stroke="#5aa590" stroke-width="0.5"/>
<line x1="230.00" y1="293.00" x2="232.40" y2="293.00" stroke="#5aa590" stroke-width="0.5"/>
<line x1="95.90" y1="338.00" x2="95.90" y2="347.00" stroke="#f08a80" stroke-width="0.5"/>
<line x1="94.70" y1="338.00" x2="97.10" y2="338.00" stroke="#f08a80" stroke-width="0.5"/>
<line x1="94.70" y1="347.00" x2="97.10" y2="347.00" stroke="#f08a80" stroke-width="0.5"/>
<line x1="141.00" y1="329.00" x2="141.00" y2="338.00" stroke="#f08a80" stroke-width="0.5"/>
<line x1="139.80" y1="329.00" x2="142.20" y2="329.00" stroke="#f08a80" stroke-width="0.5"/>
<line x1="139.80" y1="338.00" x2="142.20" y2="338.00" stroke="#f08a80" stroke-width="0.5"/>
<line x1="186.10" y1="308.00" x2="186.10" y2="320.60" stroke="#f08a80" stroke-width="0.5"/>
<line x1="184.90" y1="308.00" x2="187.30" y2="308.00" stroke="#f08a80" stroke-width="0.5"/>
<line x1="184.90" y1="320.60" x2="187.30" y2="320.60" stroke="#f08a80" stroke-width="0.5"/>
<line x1="231.20" y1="287.00" x2="231.20" y2="312.40" stroke="#f08a80" stroke-width="0.5"/>
<line x1="230.00" y1="287.00" x2="232.40" y2="287.00" stroke="#f08a80" stroke-width="0.5"/>
<line x1="230.00" y1="312.40" x2="232.40" y2="312.40" stroke="#f08a80" stroke-width="0.5"/>
<polyline points="50.80,347.00 95.90,338.50 141.00,317.80 186.10,278.80 231.20,273.40" fill="none" stroke="#4a6288" stroke-width="1.2" stroke-dasharray="3,2"/>
<polyline points="50.80,346.50 95.90,337.50 141.00,328.20 186.10,301.00 231.20,288.00" fill="none" stroke="#1f9272" stroke-width="1.2" stroke-dasharray="3,2"/>
<polyline points="50.80,349.00 95.90,342.30 141.00,333.60 186.10,314.00 231.20,299.80" fill="none" stroke="#e8483a" stroke-width="1.2" stroke-dasharray="3,2"/>
<path d="M50.80,344.62 L53.30,348.62 L48.30,348.62 Z" fill="#1f3c70" stroke="#1a2a50" stroke-width="0.5"/>
<path d="M95.90,336.12 L98.40,340.12 L93.40,340.12 Z" fill="#1f3c70" stroke="#1a2a50" stroke-width="0.5"/>
<path d="M141.00,315.43 L143.50,319.43 L138.50,319.43 Z" fill="#1f3c70" stroke="#1a2a50" stroke-width="0.5"/>
<path d="M186.10,276.43 L188.60,280.43 L183.60,280.43 Z" fill="#1f3c70" stroke="#1a2a50" stroke-width="0.5"/>
<path d="M231.20,271.02 L233.70,275.02 L228.70,275.02 Z" fill="#1f3c70" stroke="#1a2a50" stroke-width="0.5"/>
<circle cx="50.80" cy="346.50" r="2.80" fill="#1f6f5c" stroke="#1a3a30" stroke-width="0.5"/>
<circle cx="95.90" cy="337.50" r="2.80" fill="#1f6f5c" stroke="#1a3a30" stroke-width="0.5"/>
<circle cx="141.00" cy="328.20" r="2.80" fill="#1f6f5c" stroke="#1a3a30" stroke-width="0.5"/>
<circle cx="186.10" cy="301.00" r="2.80" fill="#1f6f5c" stroke="#1a3a30" stroke-width="0.5"/>
<circle cx="231.20" cy="288.00" r="2.80" fill="#1f6f5c" stroke="#1a3a30" stroke-width="0.5"/>
<rect x="48.20" y="346.40" width="5.20" height="5.20" fill="#f0473a" stroke="#8a2a20" stroke-width="0.5"/>
<rect x="93.30" y="339.70" width="5.20" height="5.20" fill="#f0473a" stroke="#8a2a20" stroke-width="0.5"/>
<rect x="138.40" y="331.00" width="5.20" height="5.20" fill="#f0473a" stroke="#8a2a20" stroke-width="0.5"/>
<rect x="183.50" y="311.40" width="5.20" height="5.20" fill="#f0473a" stroke="#8a2a20" stroke-width="0.5"/>
<rect x="228.60" y="297.20" width="5.20" height="5.20" fill="#f0473a" stroke="#8a2a20" stroke-width="0.5"/>
<text x="138.40" y="327.59" font-size="7.2" text-anchor="middle" font-weight="bold" fill="#111" textLength="8.80" lengthAdjust="spacingAndGlyphs" font-style="italic" stroke="#111" stroke-width="0.3">##</text>
<circle cx="135.77" cy="343.80" r="1.30" fill="#111" stroke="none" stroke-width="0.5"/>
<circle cx="139.92" cy="343.80" r="1.30" fill="#111" stroke="none" stroke-width="0.5"/>
<circle cx="144.07" cy="343.80" r="1.30" fill="#111" stroke="none" stroke-width="0.5"/>
<circle cx="148.22" cy="343.80" r="1.30" fill="#111" stroke="none" stroke-width="0.5"/>
<text x="186.80" y="296.59" font-size="7.2" text-anchor="middle" font-weight="bold" fill="#111" textLength="17.60" lengthAdjust="spacingAndGlyphs" font-style="italic" stroke="#111" stroke-width="0.3">####</text>
<circle cx="181.07" cy="325.40" r="1.30" fill="#111" stroke="none" stroke-width="0.5"/>
<circle cx="185.22" cy="325.40" r="1.30" fill="#111" stroke="none" stroke-width="0.5"/>
<circle cx="189.38" cy="325.40" r="1.30" fill="#111" stroke="none" stroke-width="0.5"/>
<circle cx="193.53" cy="325.40" r="1.30" fill="#111" stroke="none" stroke-width="0.5"/>
<text x="230.90" y="284.19" font-size="7.2" text-anchor="middle" font-weight="bold" fill="#111" textLength="9.50" lengthAdjust="spacingAndGlyphs" font-style="italic" stroke="#111" stroke-width="0.3">##</text>
<circle cx="226.07" cy="317.00" r="1.30" fill="#111" stroke="none" stroke-width="0.5"/>
<circle cx="230.22" cy="317.00" r="1.30" fill="#111" stroke="none" stroke-width="0.5"/>
<circle cx="234.38" cy="317.00" r="1.30" fill="#111" stroke="none" stroke-width="0.5"/>
<circle cx="238.53" cy="317.00" r="1.30" fill="#111" stroke="none" stroke-width="0.5"/>
<line x1="84.70" y1="392.80" x2="99.50" y2="392.80" stroke="#4a6288" stroke-width="1.0" stroke-dasharray="2.2,1.8"/>
<path d="M92.10,390.71 L94.30,394.23 L89.90,394.23 Z" fill="#1f3c70" stroke="#1a2a50" stroke-width="0.5"/>
<text x="105.30" y="395.46" font-size="7.4" text-anchor="start" fill="#222" textLength="12.10" lengthAdjust="spacingAndGlyphs">EV</text>
<line x1="129.00" y1="392.80" x2="143.60" y2="392.80" stroke="#e8483a" stroke-width="1.0" stroke-dasharray="2.2,1.8"/>
<rect x="133.70" y="390.40" width="5.20" height="4.80" fill="#f8d8d8" stroke="none" stroke-width="0.6"/>
<rect x="134.50" y="391.00" width="3.60" height="3.60" fill="#8a7a38" stroke="#5a4a20" stroke-width="0.5"/>
<text x="148.50" y="395.46" font-size="7.4" text-anchor="start" fill="#222" textLength="31.10" lengthAdjust="spacingAndGlyphs">Clone 1</text>
<line x1="183.00" y1="392.80" x2="199.00" y2="392.80" stroke="#1f9272" stroke-width="1.0" stroke-dasharray="2.2,1.8"/>
<circle cx="191.00" cy="392.80" r="2.00" fill="#3a6a60" stroke="#203a30" stroke-width="0.5"/>
<text x="204.00" y="395.46" font-size="7.4" text-anchor="start" fill="#222" textLength="31.00" lengthAdjust="spacingAndGlyphs">Clone 2</text>
<text x="298.50" y="242.65" font-size="10.0" text-anchor="start" font-weight="bold" fill="#000" textLength="5.10" lengthAdjust="spacingAndGlyphs">F</text>
<line x1="341.30" y1="245.60" x2="341.30" y2="357.00" stroke="#444" stroke-width="0.9"/>
<line x1="341.30" y1="357.00" x2="519.30" y2="357.00" stroke="#444" stroke-width="0.9"/>
<line x1="337.50" y1="245.60" x2="341.30" y2="245.60" stroke="#444" stroke-width="0.8"/>
<text x="335.20" y="248.59" font-size="8.3" text-anchor="end" font-weight="bold" fill="#111" textLength="24.00" lengthAdjust="spacingAndGlyphs">12,500</text>
<line x1="337.50" y1="268.00" x2="341.30" y2="268.00" stroke="#444" stroke-width="0.8"/>
<text x="335.20" y="270.99" font-size="8.3" text-anchor="end" font-weight="bold" fill="#111" textLength="24.00" lengthAdjust="spacingAndGlyphs">10,000</text>
<line x1="337.50" y1="290.00" x2="341.30" y2="290.00" stroke="#444" stroke-width="0.8"/>
<text x="335.20" y="292.99" font-size="8.3" text-anchor="end" font-weight="bold" fill="#111" textLength="20.00" lengthAdjust="spacingAndGlyphs">7500</text>
<line x1="337.50" y1="312.40" x2="341.30" y2="312.40" stroke="#444" stroke-width="0.8"/>
<text x="335.20" y="315.39" font-size="8.3" text-anchor="end" font-weight="bold" fill="#111" textLength="20.00" lengthAdjust="spacingAndGlyphs">5000</text>
<line x1="337.50" y1="334.40" x2="341.30" y2="334.40" stroke="#444" stroke-width="0.8"/>
<text x="335.20" y="337.39" font-size="8.3" text-anchor="end" font-weight="bold" fill="#111" textLength="20.00" lengthAdjust="spacingAndGlyphs">2500</text>
<line x1="337.50" y1="357.00" x2="341.30" y2="357.00" stroke="#444" stroke-width="0.8"/>
<text x="335.20" y="359.99" font-size="8.3" text-anchor="end" font-weight="bold" fill="#111" textLength="5.00" lengthAdjust="spacingAndGlyphs">0</text>
<line x1="341.30" y1="357.00" x2="341.30" y2="360.20" stroke="#444" stroke-width="0.8"/>
<text x="341.30" y="371.49" font-size="8.3" text-anchor="middle" font-weight="bold" fill="#111" textLength="5.00" lengthAdjust="spacingAndGlyphs">0</text>
<line x1="385.80" y1="357.00" x2="385.80" y2="360.20" stroke="#444" stroke-width="0.8"/>
<text x="385.80" y="371.49" font-size="8.3" text-anchor="middle" font-weight="bold" fill="#111" textLength="10.00" lengthAdjust="spacingAndGlyphs">24</text>
<line x1="430.30" y1="357.00" x2="430.30" y2="360.20" stroke="#444" stroke-width="0.8"/>
<text x="430.30" y="371.49" font-size="8.3" text-anchor="middle" font-weight="bold" fill="#111" textLength="10.00" lengthAdjust="spacingAndGlyphs">48</text>
<line x1="474.80" y1="357.00" x2="474.80" y2="360.20" stroke="#444" stroke-width="0.8"/>
<text x="474.80" y="371.49" font-size="8.3" text-anchor="middle" font-weight="bold" fill="#111" textLength="10.00" lengthAdjust="spacingAndGlyphs">72</text>
<line x1="519.30" y1="357.00" x2="519.30" y2="360.20" stroke="#444" stroke-width="0.8"/>
<text x="519.30" y="371.49" font-size="8.3" text-anchor="middle" font-weight="bold" fill="#111" textLength="10.00" lengthAdjust="spacingAndGlyphs">96</text>
<text x="0" y="3.02" font-size="8.4" text-anchor="middle" font-weight="bold" fill="#111" textLength="82.00" lengthAdjust="spacingAndGlyphs" transform="translate(302.70,301.50) rotate(-90)">Fluorescence units</text>
<text x="434.40" y="384.42" font-size="8.4" text-anchor="middle" font-weight="bold" fill="#111" textLength="60.70" lengthAdjust="spacingAndGlyphs">Time (hours)</text>
<line x1="341.30" y1="338.00" x2="341.30" y2="350.00" stroke="#7f8db0" stroke-width="0.5"/>
<line x1="340.10" y1="338.00" x2="342.50" y2="338.00" stroke="#7f8db0" stroke-width="0.5"/>
<line x1="340.10" y1="350.00" x2="342.50" y2="350.00" stroke="#7f8db0" stroke-width="0.5"/>
<line x1="385.80" y1="341.00" x2="385.80" y2="349.00" stroke="#7f8db0" stroke-width="0.5"/>
<line x1="384.60" y1="341.00" x2="387.00" y2="341.00" stroke="#7f8db0" stroke-width="0.5"/>
<line x1="384.60" y1="349.00" x2="387.00" y2="349.00" stroke="#7f8db0" stroke-width="0.5"/>
<line x1="430.30" y1="318.00" x2="430.30" y2="333.00" stroke="#7f8db0" stroke-width="0.5"/>
<line x1="429.10" y1="318.00" x2="431.50" y2="318.00" stroke="#7f8db0" stroke-width="0.5"/>
<line x1="429.10" y1="333.00" x2="431.50" y2="333.00" stroke="#7f8db0" stroke-width="0.5"/>
<line x1="474.80" y1="266.50" x2="474.80" y2="292.00" stroke="#7f8db0" stroke-width="0.5"/>
<line x1="473.60" y1="266.50" x2="476.00" y2="266.50" stroke="#7f8db0" stroke-width="0.5"/>
<line x1="473.60" y1="292.00" x2="476.00" y2="292.00" stroke="#7f8db0" stroke-width="0.5"/>
<line x1="519.30" y1="247.00" x2="519.30" y2="275.50" stroke="#7f8db0" stroke-width="0.5"/>
<line x1="518.10" y1="247.00" x2="520.50" y2="247.00" stroke="#7f8db0" stroke-width="0.5"/>
<line x1="518.10" y1="275.50" x2="520.50" y2="275.50" stroke="#7f8db0" stroke-width="0.5"/>
<line x1="430.30" y1="333.00" x2="430.30" y2="341.00" stroke="#5aa590" stroke-width="0.5"/>
<line x1="429.10" y1="333.00" x2="431.50" y2="333.00" stroke="#5aa590" stroke-width="0.5"/>
<line x1="429.10" y1="341.00" x2="431.50" y2="341.00" stroke="#5aa590" stroke-width="0.5"/>
<line x1="474.80" y1="314.00" x2="474.80" y2="327.00" stroke="#5aa590" stroke-width="0.5"/>
<line x1="473.60" y1="314.00" x2="476.00" y2="314.00" stroke="#5aa590" stroke-width="0.5"/>
<line x1="473.60" y1="327.00" x2="476.00" y2="327.00" stroke="#5aa590" stroke-width="0.5"/>
<line x1="519.30" y1="306.00" x2="519.30" y2="325.00" stroke="#5aa590" stroke-width="0.5"/>
<line x1="518.10" y1="306.00" x2="520.50" y2="306.00" stroke="#5aa590" stroke-width="0.5"/>
<line x1="518.10" y1="325.00" x2="520.50" y2="325.00" stroke="#5aa590" stroke-width="0.5"/>
<line x1="430.30" y1="336.00" x2="430.30" y2="346.00" stroke="#f08a80" stroke-width="0.5"/>
<line x1="429.10" y1="336.00" x2="431.50" y2="336.00" stroke="#f08a80" stroke-width="0.5"/>
<line x1="429.10" y1="346.00" x2="431.50" y2="346.00" stroke="#f08a80" stroke-width="0.5"/>
<line x1="474.80" y1="325.00" x2="474.80" y2="344.00" stroke="#f08a80" stroke-width="0.5"/>
<line x1="473.60" y1="325.00" x2="476.00" y2="325.00" stroke="#f08a80" stroke-width="0.5"/>
<line x1="473.60" y1="344.00" x2="476.00" y2="344.00" stroke="#f08a80" stroke-width="0.5"/>
<line x1="519.30" y1="336.00" x2="519.30" y2="345.00" stroke="#f08a80" stroke-width="0.5"/>
<line x1="518.10" y1="336.00" x2="520.50" y2="336.00" stroke="#f08a80" stroke-width="0.5"/>
<line x1="518.10" y1="345.00" x2="520.50" y2="345.00" stroke="#f08a80" stroke-width="0.5"/>
<polyline points="341.30,345.50 385.80,345.50 430.30,325.60 474.80,279.70 519.30,261.70" fill="none" stroke="#4a6288" stroke-width="1.2" stroke-dasharray="3,2"/>
<polyline points="341.30,346.00 385.80,346.00 430.30,337.00 474.80,320.40 519.30,316.00" fill="none" stroke="#1f9272" stroke-width="1.2" stroke-dasharray="3,2"/>
<polyline points="341.30,347.30 385.80,347.00 430.30,341.20 474.80,333.90 519.30,340.50" fill="none" stroke="#e8483a" stroke-width="1.2" stroke-dasharray="3,2"/>
<path d="M341.30,343.12 L343.80,347.12 L338.80,347.12 Z" fill="#1f3c70" stroke="#1a2a50" stroke-width="0.5"/>
<path d="M385.80,343.12 L388.30,347.12 L383.30,347.12 Z" fill="#1f3c70" stroke="#1a2a50" stroke-width="0.5"/>
<path d="M430.30,323.23 L432.80,327.23 L427.80,327.23 Z" fill="#1f3c70" stroke="#1a2a50" stroke-width="0.5"/>
<path d="M474.80,277.32 L477.30,281.32 L472.30,281.32 Z" fill="#1f3c70" stroke="#1a2a50" stroke-width="0.5"/>
<path d="M519.30,259.32 L521.80,263.32 L516.80,263.32 Z" fill="#1f3c70" stroke="#1a2a50" stroke-width="0.5"/>
<rect x="338.70" y="344.70" width="5.20" height="5.20" fill="#f0473a" stroke="#8a2a20" stroke-width="0.5"/>
<rect x="383.20" y="344.40" width="5.20" height="5.20" fill="#f0473a" stroke="#8a2a20" stroke-width="0.5"/>
<rect x="427.70" y="338.60" width="5.20" height="5.20" fill="#f0473a" stroke="#8a2a20" stroke-width="0.5"/>
<rect x="472.20" y="331.30" width="5.20" height="5.20" fill="#f0473a" stroke="#8a2a20" stroke-width="0.5"/>
<rect x="516.70" y="337.90" width="5.20" height="5.20" fill="#f0473a" stroke="#8a2a20" stroke-width="0.5"/>
<circle cx="341.30" cy="346.00" r="2.80" fill="#1f6f5c" stroke="#1a3a30" stroke-width="0.5"/>
<circle cx="385.80" cy="346.00" r="2.80" fill="#1f6f5c" stroke="#1a3a30" stroke-width="0.5"/>
<circle cx="430.30" cy="337.00" r="2.80" fill="#1f6f5c" stroke="#1a3a30" stroke-width="0.5"/>
<circle cx="474.80" cy="320.40" r="2.80" fill="#1f6f5c" stroke="#1a3a30" stroke-width="0.5"/>
<circle cx="519.30" cy="316.00" r="2.80" fill="#1f6f5c" stroke="#1a3a30" stroke-width="0.5"/>
<text x="430.70" y="334.29" font-size="7.2" text-anchor="middle" font-weight="bold" fill="#111" textLength="14.00" lengthAdjust="spacingAndGlyphs" font-style="italic" stroke="#111" stroke-width="0.3">###</text>
<circle cx="424.51" cy="350.60" r="1.30" fill="#111" stroke="none" stroke-width="0.5"/>
<circle cx="428.64" cy="350.60" r="1.30" fill="#111" stroke="none" stroke-width="0.5"/>
<circle cx="432.76" cy="350.60" r="1.30" fill="#111" stroke="none" stroke-width="0.5"/>
<circle cx="436.89" cy="350.60" r="1.30" fill="#111" stroke="none" stroke-width="0.5"/>
<text x="475.10" y="313.59" font-size="7.2" text-anchor="middle" font-weight="bold" fill="#111" textLength="13.00" lengthAdjust="spacingAndGlyphs" font-style="italic" stroke="#111" stroke-width="0.3">###</text>
<circle cx="468.70" cy="348.30" r="1.30" fill="#111" stroke="none" stroke-width="0.5"/>
<circle cx="472.70" cy="348.30" r="1.30" fill="#111" stroke="none" stroke-width="0.5"/>
<circle cx="476.70" cy="348.30" r="1.30" fill="#111" stroke="none" stroke-width="0.5"/>
<circle cx="480.70" cy="348.30" r="1.30" fill="#111" stroke="none" stroke-width="0.5"/>
<text x="520.20" y="305.19" font-size="7.2" text-anchor="middle" font-weight="bold" fill="#111" textLength="12.50" lengthAdjust="spacingAndGlyphs" font-style="italic" stroke="#111" stroke-width="0.3">###</text>
<circle cx="513.04" cy="349.20" r="1.30" fill="#111" stroke="none" stroke-width="0.5"/>
<circle cx="517.21" cy="349.20" r="1.30" fill="#111" stroke="none" stroke-width="0.5"/>
<circle cx="521.39" cy="349.20" r="1.30" fill="#111" stroke="none" stroke-width="0.5"/>
<circle cx="525.56" cy="349.20" r="1.30" fill="#111" stroke="none" stroke-width="0.5"/>
<line x1="378.00" y1="393.80" x2="392.70" y2="393.80" stroke="#4a6288" stroke-width="1.0" stroke-dasharray="2.2,1.8"/>
<path d="M385.35,391.71 L387.55,395.23 L383.15,395.23 Z" fill="#1f3c70" stroke="#1a2a50" stroke-width="0.5"/>
<text x="399.30" y="396.46" font-size="7.4" text-anchor="start" fill="#222" textLength="11.40" lengthAdjust="spacingAndGlyphs">EV</text>
<line x1="419.00" y1="393.80" x2="433.60" y2="393.80" stroke="#e8483a" stroke-width="1.0" stroke-dasharray="2.2,1.8"/>
<rect x="423.70" y="391.40" width="5.20" height="4.80" fill="#f8d8d8" stroke="none" stroke-width="0.6"/>
<rect x="424.50" y="392.00" width="3.60" height="3.60" fill="#8a7a38" stroke="#5a4a20" stroke-width="0.5"/>
<text x="438.50" y="396.46" font-size="7.4" text-anchor="start" fill="#222" textLength="31.10" lengthAdjust="spacingAndGlyphs">Clone 1</text>
<line x1="474.50" y1="393.80" x2="489.00" y2="393.80" stroke="#1f9272" stroke-width="1.0" stroke-dasharray="2.2,1.8"/>
<circle cx="481.75" cy="393.80" r="2.00" fill="#3a6a60" stroke="#203a30" stroke-width="0.5"/>
<text x="495.80" y="396.46" font-size="7.4" text-anchor="start" fill="#222" textLength="29.20" lengthAdjust="spacingAndGlyphs">Clone 2</text>
<text x="11.50" y="426.60" font-size="10.0" text-anchor="start" font-weight="bold" fill="#000" textLength="6.20" lengthAdjust="spacingAndGlyphs">G</text>
<rect x="126.40" y="432.70" width="94.60" height="107.70" fill="#fff" stroke="none" stroke-width="0.6"/>
<rect x="126.4" y="481.5" width="18.099999999999994" height="12.5" fill="#ffd8ec" opacity="0.60"/>
<rect x="126.4" y="502.5" width="18.099999999999994" height="11.5" fill="#ffdcee" opacity="0.52"/>
<rect x="126.4" y="519.5" width="18.099999999999994" height="17.5" fill="#d4fafa" opacity="0.60"/>
<rect x="144" y="461" width="18" height="11" fill="#dafafa" opacity="0.52"/>
<line x1="140.20" y1="432.70" x2="140.20" y2="540.40" stroke="#f2f2f2" stroke-width="0.5"/>
<line x1="175.80" y1="432.70" x2="175.80" y2="540.40" stroke="#f2f2f2" stroke-width="0.5"/>
<line x1="211.40" y1="432.70" x2="211.40" y2="540.40" stroke="#f2f2f2" stroke-width="0.5"/>
<line x1="158.00" y1="432.70" x2="158.00" y2="540.40" stroke="#e2e2e2" stroke-width="0.6"/>
<line x1="193.60" y1="432.70" x2="193.60" y2="540.40" stroke="#e2e2e2" stroke-width="0.6"/>
<line x1="126.40" y1="445.40" x2="221.00" y2="445.40" stroke="#e2e2e2" stroke-width="0.6"/>
<line x1="126.40" y1="466.60" x2="221.00" y2="466.60" stroke="#e2e2e2" stroke-width="0.6"/>
<line x1="126.40" y1="487.40" x2="221.00" y2="487.40" stroke="#e2e2e2" stroke-width="0.6"/>
<line x1="126.40" y1="508.00" x2="221.00" y2="508.00" stroke="#e2e2e2" stroke-width="0.6"/>
<line x1="126.40" y1="528.40" x2="221.00" y2="528.40" stroke="#e2e2e2" stroke-width="0.6"/>
<rect x="126.40" y="432.70" width="94.60" height="107.70" fill="none" stroke="#777" stroke-width="0.7"/>
<line x1="126.40" y1="432.70" x2="126.40" y2="540.40" stroke="#444" stroke-width="0.7"/>
<line x1="126.40" y1="540.40" x2="221.00" y2="540.40" stroke="#444" stroke-width="0.7"/>
<line x1="124.60" y1="445.40" x2="126.40" y2="445.40" stroke="#333" stroke-width="0.6"/>
<line x1="124.60" y1="466.60" x2="126.40" y2="466.60" stroke="#333" stroke-width="0.6"/>
<line x1="124.60" y1="487.40" x2="126.40" y2="487.40" stroke="#333" stroke-width="0.6"/>
<line x1="124.60" y1="508.00" x2="126.40" y2="508.00" stroke="#333" stroke-width="0.6"/>
<line x1="124.60" y1="528.40" x2="126.40" y2="528.40" stroke="#333" stroke-width="0.6"/>
<line x1="158.00" y1="540.40" x2="158.00" y2="542.00" stroke="#333" stroke-width="0.6"/>
<line x1="193.60" y1="540.40" x2="193.60" y2="542.00" stroke="#333" stroke-width="0.6"/>
<text x="158.00" y="549.90" font-size="6.4" text-anchor="middle" fill="#222" textLength="5.88" lengthAdjust="spacingAndGlyphs">10</text>
<text x="193.60" y="549.90" font-size="6.4" text-anchor="middle" fill="#222" textLength="5.88" lengthAdjust="spacingAndGlyphs">20</text>
<text x="173.30" y="559.04" font-size="7.6" text-anchor="middle" fill="#222" textLength="39.40" lengthAdjust="spacingAndGlyphs">Enrichment</text>
<text x="115.60" y="442.52" font-size="7.0" text-anchor="end" font-weight="bold" fill="#0a0a0a" textLength="92.90" lengthAdjust="spacingAndGlyphs" stroke="#0a0a0a" stroke-width="0.12">Negative regulation of tubulin</text>
<text x="115.60" y="450.72" font-size="7.0" text-anchor="end" font-weight="bold" fill="#0a0a0a" textLength="42.50" lengthAdjust="spacingAndGlyphs" stroke="#0a0a0a" stroke-width="0.12">deacetylation</text>
<text x="115.60" y="467.92" font-size="7.0" text-anchor="end" font-weight="bold" fill="#0a0a0a" textLength="101.00" lengthAdjust="spacingAndGlyphs" stroke="#0a0a0a" stroke-width="0.12">Clathrin-dependent endocytosis</text>
<text x="115.60" y="486.72" font-size="7.0" text-anchor="end" font-weight="bold" fill="#0a0a0a" textLength="38.20" lengthAdjust="spacingAndGlyphs" stroke="#0a0a0a" stroke-width="0.12">Cell division</text>
<text x="115.60" y="508.02" font-size="7.0" text-anchor="end" font-weight="bold" fill="#0a0a0a" textLength="67.30" lengthAdjust="spacingAndGlyphs" stroke="#0a0a0a" stroke-width="0.12">Protein ubiquitination</text>
<text x="115.60" y="528.02" font-size="7.0" text-anchor="end" font-weight="bold" fill="#0a0a0a" textLength="30.50" lengthAdjust="spacingAndGlyphs" stroke="#0a0a0a" stroke-width="0.12">Cell cycle</text>
<circle cx="216.40" cy="445.40" r="2.50" fill="#9a8634" stroke="none" stroke-width="0.5"/>
<circle cx="149.40" cy="466.60" r="3.00" fill="#657d6c" stroke="none" stroke-width="0.5"/>
<circle cx="132.40" cy="487.40" r="4.50" fill="#b07f0e" stroke="none" stroke-width="0.5"/>
<circle cx="130.90" cy="508.00" r="4.10" fill="#a18428" stroke="none" stroke-width="0.5"/>
<circle cx="130.90" cy="528.50" r="3.90" fill="#597976" stroke="none" stroke-width="0.5"/>
<rect x="224" y="422.9" width="30" height="50.10000000000002" fill="#ffe0f2" opacity="0.48"/>
<rect x="224" y="473" width="30" height="14.5" fill="#d8fbfb" opacity="0.48"/>
<linearGradient id="cgG" x1="0" y1="0" x2="0" y2="1"><stop offset="0" stop-color="#b47e08"/><stop offset="0.5" stop-color="#8f8a48"/><stop offset="1" stop-color="#4a8080"/></linearGradient>
<rect x="231.50" y="425.60" width="11.50" height="61.30" fill="url(#cgG)" stroke="none" stroke-width="0.6"/>
<line x1="231.50" y1="436.60" x2="233.00" y2="436.60" stroke="#fff" stroke-width="0.4"/>
<line x1="241.50" y1="436.60" x2="243.00" y2="436.60" stroke="#fff" stroke-width="0.4"/>
<text x="246.60" y="438.69" font-size="5.8" text-anchor="start" fill="#222">2.75</text>
<line x1="231.50" y1="448.70" x2="233.00" y2="448.70" stroke="#fff" stroke-width="0.4"/>
<line x1="241.50" y1="448.70" x2="243.00" y2="448.70" stroke="#fff" stroke-width="0.4"/>
<text x="246.60" y="450.79" font-size="5.8" text-anchor="start" fill="#222">2.50</text>
<line x1="231.50" y1="461.00" x2="233.00" y2="461.00" stroke="#fff" stroke-width="0.4"/>
<line x1="241.50" y1="461.00" x2="243.00" y2="461.00" stroke="#fff" stroke-width="0.4"/>
<text x="246.60" y="463.09" font-size="5.8" text-anchor="start" fill="#222">2.25</text>
<line x1="231.50" y1="473.60" x2="233.00" y2="473.60" stroke="#fff" stroke-width="0.4"/>
<line x1="241.50" y1="473.60" x2="243.00" y2="473.60" stroke="#fff" stroke-width="0.4"/>
<text x="246.60" y="475.69" font-size="5.8" text-anchor="start" fill="#222">2.00</text>
<line x1="231.50" y1="485.70" x2="233.00" y2="485.70" stroke="#fff" stroke-width="0.4"/>
<line x1="241.50" y1="485.70" x2="243.00" y2="485.70" stroke="#fff" stroke-width="0.4"/>
<text x="246.60" y="487.79" font-size="5.8" text-anchor="start" fill="#222">1.75</text>
<text x="232.00" y="418.70" font-size="7.5" fill="#222">- log<tspan font-size="4.50" dy="1.4">10</tspan><tspan dy="-1.4">(pvalue)</tspan></text>
<text x="231.50" y="509.11" font-size="7.8" text-anchor="start" fill="#222" textLength="16.00" lengthAdjust="spacingAndGlyphs">count</text>
<circle cx="237.30" cy="520.00" r="3.30" fill="#000" stroke="none" stroke-width="0.5"/>
<text x="246.30" y="521.87" font-size="5.2" text-anchor="start" fill="#222">5</text>
<circle cx="237.30" cy="532.00" r="3.80" fill="#000" stroke="none" stroke-width="0.5"/>
<text x="246.30" y="533.87" font-size="5.2" text-anchor="start" fill="#222">10</text>
<circle cx="237.30" cy="544.00" r="4.20" fill="#000" stroke="none" stroke-width="0.5"/>
<text x="246.30" y="545.87" font-size="5.2" text-anchor="start" fill="#222">15</text>
<circle cx="237.30" cy="556.60" r="4.60" fill="#000" stroke="none" stroke-width="0.5"/>
<text x="246.30" y="558.47" font-size="5.2" text-anchor="start" fill="#222">20</text>
<text x="298.30" y="427.00" font-size="10.0" text-anchor="start" font-weight="bold" fill="#000" textLength="6.80" lengthAdjust="spacingAndGlyphs">H</text>
<rect x="414.20" y="431.30" width="79.10" height="99.70" fill="#fff" stroke="none" stroke-width="0.6"/>
<rect x="478" y="438" width="17" height="11" fill="#ffd8ec" opacity="0.60"/>
<rect x="446" y="456" width="24" height="12" fill="#dafafa" opacity="0.45"/>
<rect x="432" y="476" width="28" height="11" fill="#e0fbfb" opacity="0.38"/>
<rect x="432" y="495" width="26" height="11" fill="#e0fbfb" opacity="0.38"/>
<rect x="414.2" y="512" width="25.80000000000001" height="18" fill="#d8fafa" opacity="0.45"/>
<line x1="424.75" y1="431.30" x2="424.75" y2="531.00" stroke="#f2f2f2" stroke-width="0.5"/>
<line x1="443.25" y1="431.30" x2="443.25" y2="531.00" stroke="#f2f2f2" stroke-width="0.5"/>
<line x1="461.75" y1="431.30" x2="461.75" y2="531.00" stroke="#f2f2f2" stroke-width="0.5"/>
<line x1="480.25" y1="431.30" x2="480.25" y2="531.00" stroke="#f2f2f2" stroke-width="0.5"/>
<line x1="415.50" y1="431.30" x2="415.50" y2="531.00" stroke="#e2e2e2" stroke-width="0.6"/>
<line x1="434.00" y1="431.30" x2="434.00" y2="531.00" stroke="#e2e2e2" stroke-width="0.6"/>
<line x1="452.50" y1="431.30" x2="452.50" y2="531.00" stroke="#e2e2e2" stroke-width="0.6"/>
<line x1="471.00" y1="431.30" x2="471.00" y2="531.00" stroke="#e2e2e2" stroke-width="0.6"/>
<line x1="489.50" y1="431.30" x2="489.50" y2="531.00" stroke="#e2e2e2" stroke-width="0.6"/>
<line x1="414.20" y1="443.50" x2="493.30" y2="443.50" stroke="#e2e2e2" stroke-width="0.6"/>
<line x1="414.20" y1="462.50" x2="493.30" y2="462.50" stroke="#e2e2e2" stroke-width="0.6"/>
<line x1="414.20" y1="481.70" x2="493.30" y2="481.70" stroke="#e2e2e2" stroke-width="0.6"/>
<line x1="414.20" y1="500.70" x2="493.30" y2="500.70" stroke="#e2e2e2" stroke-width="0.6"/>
<line x1="414.20" y1="520.50" x2="493.30" y2="520.50" stroke="#e2e2e2" stroke-width="0.6"/>
<rect x="414.20" y="431.30" width="79.10" height="99.70" fill="none" stroke="#777" stroke-width="0.7"/>
<line x1="414.20" y1="431.30" x2="414.20" y2="531.00" stroke="#444" stroke-width="0.7"/>
<line x1="414.20" y1="531.00" x2="493.30" y2="531.00" stroke="#444" stroke-width="0.7"/>
<line x1="412.40" y1="443.50" x2="414.20" y2="443.50" stroke="#333" stroke-width="0.6"/>
<line x1="412.40" y1="462.50" x2="414.20" y2="462.50" stroke="#333" stroke-width="0.6"/>
<line x1="412.40" y1="481.70" x2="414.20" y2="481.70" stroke="#333" stroke-width="0.6"/>
<line x1="412.40" y1="500.70" x2="414.20" y2="500.70" stroke="#333" stroke-width="0.6"/>
<line x1="412.40" y1="520.50" x2="414.20" y2="520.50" stroke="#333" stroke-width="0.6"/>
<line x1="415.50" y1="531.00" x2="415.50" y2="532.60" stroke="#333" stroke-width="0.6"/>
<line x1="434.00" y1="531.00" x2="434.00" y2="532.60" stroke="#333" stroke-width="0.6"/>
<line x1="452.50" y1="531.00" x2="452.50" y2="532.60" stroke="#333" stroke-width="0.6"/>
<line x1="471.00" y1="531.00" x2="471.00" y2="532.60" stroke="#333" stroke-width="0.6"/>
<line x1="489.50" y1="531.00" x2="489.50" y2="532.60" stroke="#333" stroke-width="0.6"/>
<text x="415.50" y="539.90" font-size="6.4" text-anchor="middle" fill="#222" textLength="6.83" lengthAdjust="spacingAndGlyphs">1.5</text>
<text x="434.00" y="539.90" font-size="6.4" text-anchor="middle" fill="#222" textLength="6.83" lengthAdjust="spacingAndGlyphs">2.0</text>
<text x="452.50" y="539.90" font-size="6.4" text-anchor="middle" fill="#222" textLength="6.83" lengthAdjust="spacingAndGlyphs">2.5</text>
<text x="471.00" y="539.90" font-size="6.4" text-anchor="middle" fill="#222" textLength="6.83" lengthAdjust="spacingAndGlyphs">3.0</text>
<text x="489.50" y="539.90" font-size="6.4" text-anchor="middle" fill="#222" textLength="6.83" lengthAdjust="spacingAndGlyphs">3.5</text>
<text x="453.10" y="547.95" font-size="6.8" text-anchor="middle" fill="#222" textLength="33.00" lengthAdjust="spacingAndGlyphs">Enrichment</text>
<text x="404.00" y="444.18" font-size="6.9" text-anchor="end" font-weight="bold" fill="#0a0a0a" textLength="32.40" lengthAdjust="spacingAndGlyphs" stroke="#0a0a0a" stroke-width="0.12">DNA repair</text>
<text x="404.00" y="459.48" font-size="6.9" text-anchor="end" font-weight="bold" fill="#0a0a0a" textLength="98.60" lengthAdjust="spacingAndGlyphs" stroke="#0a0a0a" stroke-width="0.12">Cellular response to DNA damage</text>
<text x="404.00" y="467.88" font-size="6.9" text-anchor="end" font-weight="bold" fill="#0a0a0a" textLength="26.00" lengthAdjust="spacingAndGlyphs" stroke="#0a0a0a" stroke-width="0.12">stimulus</text>
<text x="404.00" y="484.18" font-size="6.9" text-anchor="end" font-weight="bold" fill="#0a0a0a" textLength="28.60" lengthAdjust="spacingAndGlyphs" stroke="#0a0a0a" stroke-width="0.12">Cell cycle</text>
<text x="404.00" y="500.18" font-size="6.9" text-anchor="end" font-weight="bold" fill="#0a0a0a" textLength="36.20" lengthAdjust="spacingAndGlyphs" stroke="#0a0a0a" stroke-width="0.12">Cell division</text>
<text x="404.00" y="517.48" font-size="6.9" text-anchor="end" font-weight="bold" fill="#0a0a0a" textLength="86.30" lengthAdjust="spacingAndGlyphs" stroke="#0a0a0a" stroke-width="0.12">Regulation of DNA-templated</text>
<text x="404.00" y="526.38" font-size="6.9" text-anchor="end" font-weight="bold" fill="#0a0a0a" textLength="37.50" lengthAdjust="spacingAndGlyphs" stroke="#0a0a0a" stroke-width="0.12">transcription</text>
<circle cx="489.40" cy="443.50" r="2.90" fill="#b07f0e" stroke="none" stroke-width="0.5"/>
<circle cx="456.40" cy="462.50" r="2.40" fill="#5f7b71" stroke="none" stroke-width="0.5"/>
<circle cx="447.20" cy="481.70" r="2.60" fill="#5d7a73" stroke="none" stroke-width="0.5"/>
<circle cx="446.70" cy="500.70" r="2.70" fill="#5d7a73" stroke="none" stroke-width="0.5"/>
<circle cx="417.70" cy="520.50" r="3.80" fill="#597976" stroke="none" stroke-width="0.5"/>
<rect x="496" y="424" width="14" height="31" fill="#ffd8f0" opacity="0.48"/>
<rect x="496" y="455" width="17" height="30" fill="#d8fbfb" opacity="0.48"/>
<linearGradient id="cgH" x1="0" y1="0" x2="0" y2="1"><stop offset="0" stop-color="#b47e08"/><stop offset="0.5" stop-color="#8f8a48"/><stop offset="1" stop-color="#4a8080"/></linearGradient>
<rect x="502.00" y="425.00" width="9.80" height="55.40" fill="url(#cgH)" stroke="none" stroke-width="0.6"/>
<line x1="502.00" y1="437.40" x2="503.50" y2="437.40" stroke="#fff" stroke-width="0.4"/>
<line x1="510.30" y1="437.40" x2="511.80" y2="437.40" stroke="#fff" stroke-width="0.4"/>
<text x="515.40" y="439.49" font-size="5.8" text-anchor="start" fill="#222">12</text>
<line x1="502.00" y1="451.90" x2="503.50" y2="451.90" stroke="#fff" stroke-width="0.4"/>
<line x1="510.30" y1="451.90" x2="511.80" y2="451.90" stroke="#fff" stroke-width="0.4"/>
<text x="515.40" y="453.99" font-size="5.8" text-anchor="start" fill="#222">10</text>
<line x1="502.00" y1="467.20" x2="503.50" y2="467.20" stroke="#fff" stroke-width="0.4"/>
<line x1="510.30" y1="467.20" x2="511.80" y2="467.20" stroke="#fff" stroke-width="0.4"/>
<text x="515.40" y="469.29" font-size="5.8" text-anchor="start" fill="#222">8</text>
<text x="502.50" y="418.50" font-size="7.5" fill="#222">- log<tspan font-size="4.50" dy="1.4">10</tspan><tspan dy="-1.4">(pvalue)</tspan></text>
<text x="502.00" y="502.81" font-size="7.8" text-anchor="start" fill="#222" textLength="17.00" lengthAdjust="spacingAndGlyphs">count</text>
<circle cx="506.50" cy="512.00" r="2.80" fill="#000" stroke="none" stroke-width="0.5"/>
<text x="515.50" y="513.87" font-size="5.2" text-anchor="start" fill="#222">50</text>
<circle cx="506.50" cy="523.60" r="3.20" fill="#000" stroke="none" stroke-width="0.5"/>
<text x="515.50" y="525.47" font-size="5.2" text-anchor="start" fill="#222">75</text>
<circle cx="506.50" cy="535.00" r="3.60" fill="#000" stroke="none" stroke-width="0.5"/>
<text x="515.50" y="536.87" font-size="5.2" text-anchor="start" fill="#222">100</text>
<circle cx="506.50" cy="545.50" r="4.00" fill="#000" stroke="none" stroke-width="0.5"/>
<text x="515.50" y="547.37" font-size="5.2" text-anchor="start" fill="#222">125</text>
<text x="12.20" y="584.40" font-size="10.0" text-anchor="start" font-weight="bold" fill="#000" textLength="2.60" lengthAdjust="spacingAndGlyphs">I</text>
<rect x="141.90" y="598.60" width="81.80" height="117.30" fill="#fff" stroke="none" stroke-width="0.6"/>
<rect x="208" y="606" width="18" height="12" fill="#d4fafa" opacity="0.52"/>
<rect x="162" y="629" width="24" height="12" fill="#ffe8f2" opacity="0.38"/>
<rect x="141.9" y="650" width="34.099999999999994" height="15" fill="#ffdcee" opacity="0.45"/>
<rect x="141.9" y="673" width="26.099999999999994" height="13" fill="#dafafa" opacity="0.38"/>
<rect x="141.9" y="695" width="16.099999999999994" height="15" fill="#ffe8f2" opacity="0.30"/>
<line x1="151.35" y1="598.60" x2="151.35" y2="715.90" stroke="#f2f2f2" stroke-width="0.5"/>
<line x1="167.05" y1="598.60" x2="167.05" y2="715.90" stroke="#f2f2f2" stroke-width="0.5"/>
<line x1="182.75" y1="598.60" x2="182.75" y2="715.90" stroke="#f2f2f2" stroke-width="0.5"/>
<line x1="198.45" y1="598.60" x2="198.45" y2="715.90" stroke="#f2f2f2" stroke-width="0.5"/>
<line x1="214.15" y1="598.60" x2="214.15" y2="715.90" stroke="#f2f2f2" stroke-width="0.5"/>
<line x1="143.50" y1="598.60" x2="143.50" y2="715.90" stroke="#e2e2e2" stroke-width="0.6"/>
<line x1="159.20" y1="598.60" x2="159.20" y2="715.90" stroke="#e2e2e2" stroke-width="0.6"/>
<line x1="174.90" y1="598.60" x2="174.90" y2="715.90" stroke="#e2e2e2" stroke-width="0.6"/>
<line x1="190.60" y1="598.60" x2="190.60" y2="715.90" stroke="#e2e2e2" stroke-width="0.6"/>
<line x1="206.30" y1="598.60" x2="206.30" y2="715.90" stroke="#e2e2e2" stroke-width="0.6"/>
<line x1="222.00" y1="598.60" x2="222.00" y2="715.90" stroke="#e2e2e2" stroke-width="0.6"/>
<line x1="141.90" y1="612.30" x2="223.70" y2="612.30" stroke="#e2e2e2" stroke-width="0.6"/>
<line x1="141.90" y1="634.90" x2="223.70" y2="634.90" stroke="#e2e2e2" stroke-width="0.6"/>
<line x1="141.90" y1="657.30" x2="223.70" y2="657.30" stroke="#e2e2e2" stroke-width="0.6"/>
<line x1="141.90" y1="679.60" x2="223.70" y2="679.60" stroke="#e2e2e2" stroke-width="0.6"/>
<line x1="141.90" y1="702.30" x2="223.70" y2="702.30" stroke="#e2e2e2" stroke-width="0.6"/>
<rect x="141.90" y="598.60" width="81.80" height="117.30" fill="none" stroke="#777" stroke-width="0.7"/>
<line x1="141.90" y1="598.60" x2="141.90" y2="715.90" stroke="#444" stroke-width="0.7"/>
<line x1="141.90" y1="715.90" x2="223.70" y2="715.90" stroke="#444" stroke-width="0.7"/>
<line x1="140.10" y1="612.30" x2="141.90" y2="612.30" stroke="#333" stroke-width="0.6"/>
<line x1="140.10" y1="634.90" x2="141.90" y2="634.90" stroke="#333" stroke-width="0.6"/>
<line x1="140.10" y1="657.30" x2="141.90" y2="657.30" stroke="#333" stroke-width="0.6"/>
<line x1="140.10" y1="679.60" x2="141.90" y2="679.60" stroke="#333" stroke-width="0.6"/>
<line x1="140.10" y1="702.30" x2="141.90" y2="702.30" stroke="#333" stroke-width="0.6"/>
<line x1="143.50" y1="715.90" x2="143.50" y2="717.50" stroke="#333" stroke-width="0.6"/>
<line x1="159.20" y1="715.90" x2="159.20" y2="717.50" stroke="#333" stroke-width="0.6"/>
<line x1="174.90" y1="715.90" x2="174.90" y2="717.50" stroke="#333" stroke-width="0.6"/>
<line x1="190.60" y1="715.90" x2="190.60" y2="717.50" stroke="#333" stroke-width="0.6"/>
<line x1="206.30" y1="715.90" x2="206.30" y2="717.50" stroke="#333" stroke-width="0.6"/>
<line x1="222.00" y1="715.90" x2="222.00" y2="717.50" stroke="#333" stroke-width="0.6"/>
<text x="143.50" y="723.80" font-size="6.4" text-anchor="middle" fill="#222" textLength="6.83" lengthAdjust="spacingAndGlyphs">1.5</text>
<text x="159.20" y="723.80" font-size="6.4" text-anchor="middle" fill="#222" textLength="6.83" lengthAdjust="spacingAndGlyphs">2.0</text>
<text x="174.90" y="723.80" font-size="6.4" text-anchor="middle" fill="#222" textLength="6.83" lengthAdjust="spacingAndGlyphs">2.5</text>
<text x="190.60" y="723.80" font-size="6.4" text-anchor="middle" fill="#222" textLength="6.83" lengthAdjust="spacingAndGlyphs">3.0</text>
<text x="206.30" y="723.80" font-size="6.4" text-anchor="middle" fill="#222" textLength="6.83" lengthAdjust="spacingAndGlyphs">3.5</text>
<text x="222.00" y="723.80" font-size="6.4" text-anchor="middle" fill="#222" textLength="6.83" lengthAdjust="spacingAndGlyphs">4.0</text>
<text x="182.70" y="734.38" font-size="8.0" text-anchor="middle" fill="#222" textLength="35.00" lengthAdjust="spacingAndGlyphs">Enrichment</text>
<text x="131.80" y="603.75" font-size="8.2" text-anchor="end" font-weight="bold" fill="#0a0a0a" textLength="109.40" lengthAdjust="spacingAndGlyphs" stroke="#0a0a0a" stroke-width="0.12">Negative regulation of TGF receptor</text>
<text x="131.80" y="614.35" font-size="8.2" text-anchor="end" font-weight="bold" fill="#0a0a0a" textLength="55.30" lengthAdjust="spacingAndGlyphs" stroke="#0a0a0a" stroke-width="0.12">signaling pathway</text>
<text x="131.80" y="633.35" font-size="8.2" text-anchor="end" font-weight="bold" fill="#0a0a0a" textLength="97.50" lengthAdjust="spacingAndGlyphs" stroke="#0a0a0a" stroke-width="0.12">Intracellular signal transduction</text>
<text x="131.80" y="655.75" font-size="8.2" text-anchor="end" font-weight="bold" fill="#0a0a0a" textLength="116.00" lengthAdjust="spacingAndGlyphs" stroke="#0a0a0a" stroke-width="0.12">Negative regulation of transcription of</text>
<text x="131.80" y="665.75" font-size="8.2" text-anchor="end" font-weight="bold" fill="#0a0a0a" textLength="87.00" lengthAdjust="spacingAndGlyphs" stroke="#0a0a0a" stroke-width="0.12">RNA polymerase II promoter</text>
<text x="131.80" y="685.55" font-size="8.2" text-anchor="end" font-weight="bold" fill="#0a0a0a" textLength="118.60" lengthAdjust="spacingAndGlyphs" stroke="#0a0a0a" stroke-width="0.12">Negative regulation of DNA-templated</text>
<text x="131.80" y="695.25" font-size="8.2" text-anchor="end" font-weight="bold" fill="#0a0a0a" textLength="39.50" lengthAdjust="spacingAndGlyphs" stroke="#0a0a0a" stroke-width="0.12">transcription</text>
<text x="131.80" y="711.95" font-size="8.2" text-anchor="end" font-weight="bold" fill="#0a0a0a" textLength="106.80" lengthAdjust="spacingAndGlyphs" stroke="#0a0a0a" stroke-width="0.12">Regulation of transcription by RNA</text>
<text x="131.80" y="721.65" font-size="8.2" text-anchor="end" font-weight="bold" fill="#0a0a0a" textLength="40.80" lengthAdjust="spacingAndGlyphs" stroke="#0a0a0a" stroke-width="0.12">polymerase II</text>
<circle cx="219.00" cy="612.30" r="2.20" fill="#597976" stroke="none" stroke-width="0.5"/>
<circle cx="174.00" cy="634.90" r="3.00" fill="#9a8634" stroke="none" stroke-width="0.5"/>
<circle cx="162.40" cy="657.30" r="3.90" fill="#b07f0e" stroke="none" stroke-width="0.5"/>
<circle cx="159.00" cy="679.60" r="3.20" fill="#77825c" stroke="none" stroke-width="0.5"/>
<circle cx="146.30" cy="702.30" r="4.30" fill="#96873b" stroke="none" stroke-width="0.5"/>
<rect x="225" y="585" width="31" height="55" fill="#ffdcf0" opacity="0.42"/>
<rect x="225" y="640" width="31" height="16" fill="#d4fbfb" opacity="0.48"/>
<linearGradient id="cgI" x1="0" y1="0" x2="0" y2="1"><stop offset="0" stop-color="#b47e08"/><stop offset="0.5" stop-color="#8f8a48"/><stop offset="1" stop-color="#4a8080"/></linearGradient>
<rect x="233.50" y="590.50" width="9.30" height="65.40" fill="url(#cgI)" stroke="none" stroke-width="0.6"/>
<line x1="233.50" y1="603.30" x2="235.00" y2="603.30" stroke="#fff" stroke-width="0.4"/>
<line x1="241.30" y1="603.30" x2="242.80" y2="603.30" stroke="#fff" stroke-width="0.4"/>
<text x="246.40" y="605.39" font-size="5.8" text-anchor="start" fill="#222">4.0</text>
<line x1="233.50" y1="616.90" x2="235.00" y2="616.90" stroke="#fff" stroke-width="0.4"/>
<line x1="241.30" y1="616.90" x2="242.80" y2="616.90" stroke="#fff" stroke-width="0.4"/>
<text x="246.40" y="618.99" font-size="5.8" text-anchor="start" fill="#222">3.5</text>
<line x1="233.50" y1="630.50" x2="235.00" y2="630.50" stroke="#fff" stroke-width="0.4"/>
<line x1="241.30" y1="630.50" x2="242.80" y2="630.50" stroke="#fff" stroke-width="0.4"/>
<text x="246.40" y="632.59" font-size="5.8" text-anchor="start" fill="#222">3.0</text>
<line x1="233.50" y1="643.60" x2="235.00" y2="643.60" stroke="#fff" stroke-width="0.4"/>
<line x1="241.30" y1="643.60" x2="242.80" y2="643.60" stroke="#fff" stroke-width="0.4"/>
<text x="246.40" y="645.69" font-size="5.8" text-anchor="start" fill="#222">2.5</text>
<text x="232.70" y="583.20" font-size="7.9" fill="#222">- log<tspan font-size="4.74" dy="1.4">10</tspan><tspan dy="-1.4">(pvalue)</tspan></text>
<text x="232.70" y="681.31" font-size="7.8" text-anchor="start" fill="#222" textLength="15.50" lengthAdjust="spacingAndGlyphs">count</text>
<circle cx="237.40" cy="692.70" r="2.80" fill="#000" stroke="none" stroke-width="0.5"/>
<text x="246.40" y="694.57" font-size="5.2" text-anchor="start" fill="#222">10</text>
<circle cx="237.40" cy="705.00" r="3.40" fill="#000" stroke="none" stroke-width="0.5"/>
<text x="246.40" y="706.87" font-size="5.2" text-anchor="start" fill="#222">20</text>
<circle cx="237.40" cy="718.60" r="4.00" fill="#000" stroke="none" stroke-width="0.5"/>
<text x="246.40" y="720.47" font-size="5.2" text-anchor="start" fill="#222">30</text>
<circle cx="237.40" cy="733.00" r="4.60" fill="#000" stroke="none" stroke-width="0.5"/>
<text x="246.40" y="734.87" font-size="5.2" text-anchor="start" fill="#222">40</text>
<text x="299.30" y="584.60" font-size="10.0" text-anchor="start" font-weight="bold" fill="#000" textLength="5.20" lengthAdjust="spacingAndGlyphs">J</text>
<rect x="414.20" y="593.20" width="81.80" height="106.80" fill="#fff" stroke="none" stroke-width="0.6"/>
<rect x="485" y="600" width="12" height="11" fill="#dafafa" opacity="0.45"/>
<rect x="432" y="620" width="24" height="13" fill="#dafafa" opacity="0.52"/>
<rect x="414.2" y="640" width="30.80000000000001" height="14" fill="#dafafa" opacity="0.45"/>
<rect x="414.2" y="661" width="21.80000000000001" height="13" fill="#ffe8f2" opacity="0.38"/>
<rect x="414.2" y="681" width="17.80000000000001" height="15" fill="#ffe0ee" opacity="0.45"/>
<line x1="429.10" y1="593.20" x2="429.10" y2="700.00" stroke="#f2f2f2" stroke-width="0.5"/>
<line x1="446.70" y1="593.20" x2="446.70" y2="700.00" stroke="#f2f2f2" stroke-width="0.5"/>
<line x1="464.30" y1="593.20" x2="464.30" y2="700.00" stroke="#f2f2f2" stroke-width="0.5"/>
<line x1="481.90" y1="593.20" x2="481.90" y2="700.00" stroke="#f2f2f2" stroke-width="0.5"/>
<line x1="420.30" y1="593.20" x2="420.30" y2="700.00" stroke="#e2e2e2" stroke-width="0.6"/>
<line x1="437.90" y1="593.20" x2="437.90" y2="700.00" stroke="#e2e2e2" stroke-width="0.6"/>
<line x1="455.50" y1="593.20" x2="455.50" y2="700.00" stroke="#e2e2e2" stroke-width="0.6"/>
<line x1="473.10" y1="593.20" x2="473.10" y2="700.00" stroke="#e2e2e2" stroke-width="0.6"/>
<line x1="490.70" y1="593.20" x2="490.70" y2="700.00" stroke="#e2e2e2" stroke-width="0.6"/>
<line x1="414.20" y1="605.00" x2="496.00" y2="605.00" stroke="#e2e2e2" stroke-width="0.6"/>
<line x1="414.20" y1="626.20" x2="496.00" y2="626.20" stroke="#e2e2e2" stroke-width="0.6"/>
<line x1="414.20" y1="647.00" x2="496.00" y2="647.00" stroke="#e2e2e2" stroke-width="0.6"/>
<line x1="414.20" y1="667.50" x2="496.00" y2="667.50" stroke="#e2e2e2" stroke-width="0.6"/>
<line x1="414.20" y1="688.10" x2="496.00" y2="688.10" stroke="#e2e2e2" stroke-width="0.6"/>
<rect x="414.20" y="593.20" width="81.80" height="106.80" fill="none" stroke="#777" stroke-width="0.7"/>
<line x1="414.20" y1="593.20" x2="414.20" y2="700.00" stroke="#444" stroke-width="0.7"/>
<line x1="414.20" y1="700.00" x2="496.00" y2="700.00" stroke="#444" stroke-width="0.7"/>
<line x1="412.40" y1="605.00" x2="414.20" y2="605.00" stroke="#333" stroke-width="0.6"/>
<line x1="412.40" y1="626.20" x2="414.20" y2="626.20" stroke="#333" stroke-width="0.6"/>
<line x1="412.40" y1="647.00" x2="414.20" y2="647.00" stroke="#333" stroke-width="0.6"/>
<line x1="412.40" y1="667.50" x2="414.20" y2="667.50" stroke="#333" stroke-width="0.6"/>
<line x1="412.40" y1="688.10" x2="414.20" y2="688.10" stroke="#333" stroke-width="0.6"/>
<line x1="420.30" y1="700.00" x2="420.30" y2="701.60" stroke="#333" stroke-width="0.6"/>
<line x1="437.90" y1="700.00" x2="437.90" y2="701.60" stroke="#333" stroke-width="0.6"/>
<line x1="455.50" y1="700.00" x2="455.50" y2="701.60" stroke="#333" stroke-width="0.6"/>
<line x1="473.10" y1="700.00" x2="473.10" y2="701.60" stroke="#333" stroke-width="0.6"/>
<line x1="490.70" y1="700.00" x2="490.70" y2="701.60" stroke="#333" stroke-width="0.6"/>
<text x="420.30" y="709.30" font-size="6.4" text-anchor="middle" fill="#222" textLength="6.83" lengthAdjust="spacingAndGlyphs">2.5</text>
<text x="437.90" y="709.30" font-size="6.4" text-anchor="middle" fill="#222" textLength="6.83" lengthAdjust="spacingAndGlyphs">5.0</text>
<text x="455.50" y="709.30" font-size="6.4" text-anchor="middle" fill="#222" textLength="6.83" lengthAdjust="spacingAndGlyphs">7.5</text>
<text x="473.10" y="709.30" font-size="6.4" text-anchor="middle" fill="#222" textLength="8.93" lengthAdjust="spacingAndGlyphs">10.0</text>
<text x="490.70" y="709.30" font-size="6.4" text-anchor="middle" fill="#222" textLength="8.93" lengthAdjust="spacingAndGlyphs">12.5</text>
<text x="455.00" y="718.85" font-size="6.8" text-anchor="middle" fill="#222" textLength="32.70" lengthAdjust="spacingAndGlyphs">Enrichment</text>
<text x="404.70" y="609.74" font-size="7.9" text-anchor="end" font-weight="bold" fill="#0a0a0a" textLength="69.60" lengthAdjust="spacingAndGlyphs" stroke="#0a0a0a" stroke-width="0.12">Protein deglycosylation</text>
<text x="404.70" y="629.04" font-size="7.9" text-anchor="end" font-weight="bold" fill="#0a0a0a" textLength="117.00" lengthAdjust="spacingAndGlyphs" stroke="#0a0a0a" stroke-width="0.12">Negative regulation of TORC1 signaling</text>
<text x="404.70" y="646.64" font-size="7.9" text-anchor="end" font-weight="bold" fill="#0a0a0a" textLength="116.00" lengthAdjust="spacingAndGlyphs" stroke="#0a0a0a" stroke-width="0.12">Retrograde vesicle-mediated transport,</text>
<text x="404.70" y="656.64" font-size="7.9" text-anchor="end" font-weight="bold" fill="#0a0a0a" textLength="33.50" lengthAdjust="spacingAndGlyphs" stroke="#0a0a0a" stroke-width="0.12">Golgi to ER</text>
<text x="404.70" y="672.54" font-size="7.9" text-anchor="end" font-weight="bold" fill="#0a0a0a" textLength="80.10" lengthAdjust="spacingAndGlyphs" stroke="#0a0a0a" stroke-width="0.12">Vesicle-mediated transport</text>
<text x="404.70" y="689.64" font-size="7.9" text-anchor="end" font-weight="bold" fill="#0a0a0a" textLength="87.00" lengthAdjust="spacingAndGlyphs" stroke="#0a0a0a" stroke-width="0.12">Intracellular protein transport</text>
<circle cx="491.50" cy="605.00" r="2.30" fill="#6b7f67" stroke="none" stroke-width="0.5"/>
<circle cx="442.40" cy="626.20" r="2.90" fill="#597976" stroke="none" stroke-width="0.5"/>
<circle cx="430.80" cy="647.00" r="3.00" fill="#567879" stroke="none" stroke-width="0.5"/>
<circle cx="418.70" cy="667.50" r="3.60" fill="#9a8634" stroke="none" stroke-width="0.5"/>
<circle cx="418.70" cy="688.10" r="4.00" fill="#b07f0e" stroke="none" stroke-width="0.5"/>
<rect x="497" y="592" width="23" height="48" fill="#ffdcf0" opacity="0.36"/>
<rect x="497" y="640" width="23" height="20" fill="#d8fbfb" opacity="0.48"/>
<linearGradient id="cgJ" x1="0" y1="0" x2="0" y2="1"><stop offset="0" stop-color="#b47e08"/><stop offset="0.5" stop-color="#8f8a48"/><stop offset="1" stop-color="#4a8080"/></linearGradient>
<rect x="504.70" y="596.40" width="8.90" height="60.60" fill="url(#cgJ)" stroke="none" stroke-width="0.6"/>
<line x1="504.70" y1="598.50" x2="506.20" y2="598.50" stroke="#fff" stroke-width="0.4"/>
<line x1="512.10" y1="598.50" x2="513.60" y2="598.50" stroke="#fff" stroke-width="0.4"/>
<text x="517.20" y="600.59" font-size="5.8" text-anchor="start" fill="#222">3.6</text>
<line x1="504.70" y1="614.30" x2="506.20" y2="614.30" stroke="#fff" stroke-width="0.4"/>
<line x1="512.10" y1="614.30" x2="513.60" y2="614.30" stroke="#fff" stroke-width="0.4"/>
<text x="517.20" y="616.39" font-size="5.8" text-anchor="start" fill="#222">3.3</text>
<line x1="504.70" y1="630.00" x2="506.20" y2="630.00" stroke="#fff" stroke-width="0.4"/>
<line x1="512.10" y1="630.00" x2="513.60" y2="630.00" stroke="#fff" stroke-width="0.4"/>
<text x="517.20" y="632.09" font-size="5.8" text-anchor="start" fill="#222">3.0</text>
<line x1="504.70" y1="645.10" x2="506.20" y2="645.10" stroke="#fff" stroke-width="0.4"/>
<line x1="512.10" y1="645.10" x2="513.60" y2="645.10" stroke="#fff" stroke-width="0.4"/>
<text x="517.20" y="647.19" font-size="5.8" text-anchor="start" fill="#222">2.7</text>
<text x="504.70" y="590.70" font-size="6.6" fill="#222">- log<tspan font-size="3.96" dy="1.4">10</tspan><tspan dy="-1.4">(pvalue)</tspan></text>
<text x="504.70" y="680.91" font-size="7.8" text-anchor="start" fill="#222" textLength="16.00" lengthAdjust="spacingAndGlyphs">count</text>
<circle cx="508.30" cy="691.80" r="3.60" fill="#000" stroke="none" stroke-width="0.5"/>
<text x="517.30" y="693.67" font-size="5.2" text-anchor="start" fill="#222">10</text>
<circle cx="508.30" cy="704.50" r="4.30" fill="#000" stroke="none" stroke-width="0.5"/>
<text x="517.30" y="706.37" font-size="5.2" text-anchor="start" fill="#222">20</text>
</svg>
</body></html>
